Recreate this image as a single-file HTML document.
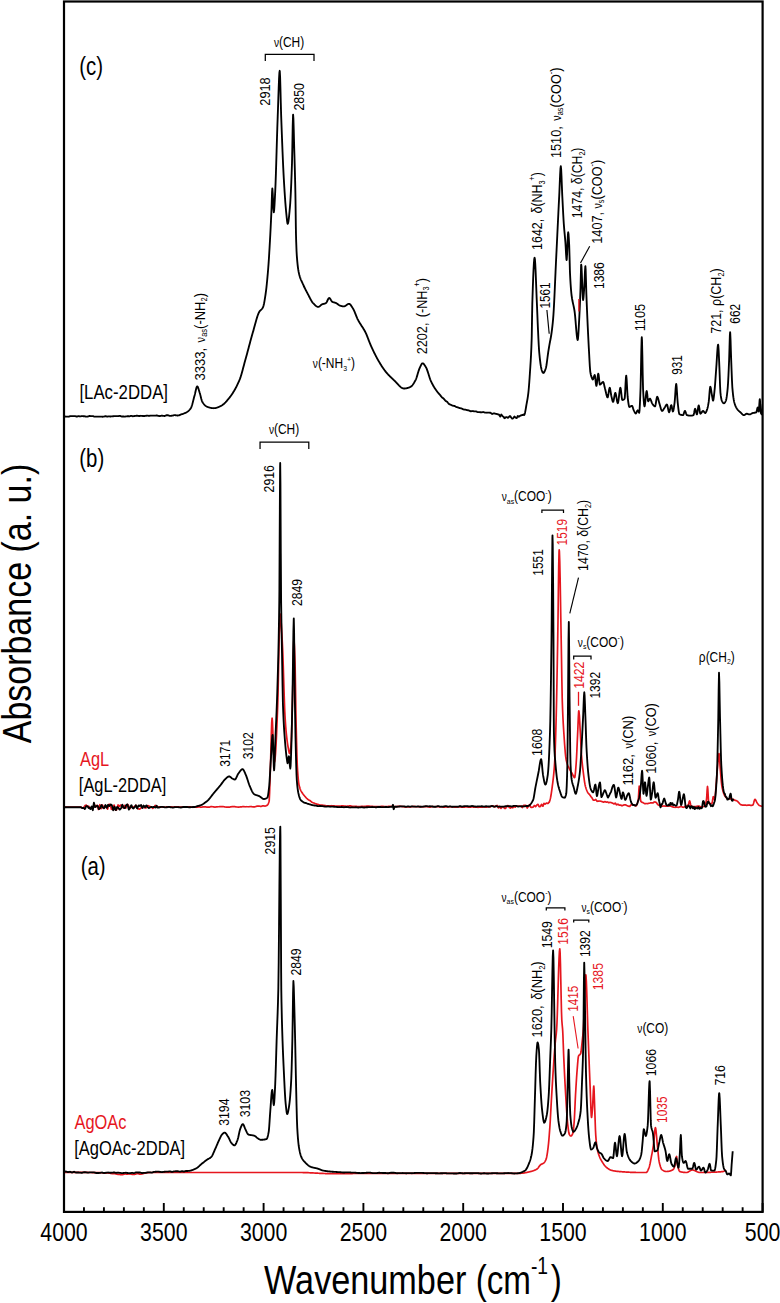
<!DOCTYPE html>
<html><head><meta charset="utf-8"><title>FTIR spectra</title>
<style>html,body{margin:0;padding:0;background:#fff}body{width:780px;height:1303px;overflow:hidden;font-family:"Liberation Sans",sans-serif}text{font-family:"Liberation Sans",sans-serif}</style>
</head><body>
<svg width="780" height="1303" viewBox="0 0 780 1303" style="display:block;font-family:'Liberation Sans',sans-serif">
<rect x="0" y="0" width="780" height="1303" fill="#fff"/>
<clipPath id="clipf"><rect x="64.0" y="1.5" width="698.6" height="1210.4"/></clipPath>
<g clip-path="url(#clipf)">
<path d="M63.80 1172.30 L64.15 1172.30 L64.50 1172.30 L64.85 1172.30 L65.20 1172.30 L65.55 1172.30 L65.90 1172.30 L66.25 1172.30 L66.60 1172.30 L66.95 1172.30 L67.30 1172.30 L67.65 1172.30 L68.00 1172.30 L68.35 1172.31 L68.70 1172.31 L69.05 1172.31 L69.40 1172.31 L69.75 1172.31 L70.10 1172.31 L70.45 1172.31 L70.80 1172.31 L71.15 1172.32 L71.50 1172.32 L71.85 1172.32 L72.20 1172.32 L72.55 1172.32 L72.90 1172.32 L73.25 1172.33 L73.60 1172.33 L73.95 1172.33 L74.30 1172.33 L74.65 1172.33 L75.00 1172.34 L75.35 1172.34 L75.70 1172.34 L76.05 1172.34 L76.40 1172.35 L76.75 1172.35 L77.10 1172.35 L77.45 1172.35 L77.80 1172.36 L78.15 1172.36 L78.50 1172.36 L78.85 1172.36 L79.20 1172.37 L79.55 1172.37 L79.90 1172.37 L80.25 1172.38 L80.60 1172.38 L80.95 1172.38 L81.30 1172.39 L81.65 1172.39 L82.00 1172.39 L82.35 1172.40 L82.70 1172.40 L83.05 1172.41 L83.40 1172.41 L83.75 1172.41 L84.10 1172.42 L84.45 1172.42 L84.80 1172.43 L85.15 1172.43 L85.50 1172.44 L85.85 1172.44 L86.20 1172.44 L86.55 1172.45 L86.90 1172.45 L87.25 1172.46 L87.60 1172.46 L87.95 1172.47 L88.30 1172.47 L88.65 1172.48 L89.00 1172.48 L89.35 1172.49 L89.70 1172.49 L90.05 1172.50 L90.40 1172.50 L90.75 1172.51 L91.10 1172.52 L91.45 1172.52 L91.80 1172.53 L92.15 1172.53 L92.50 1172.54 L92.85 1172.54 L93.20 1172.55 L93.55 1172.56 L93.90 1172.56 L94.25 1172.57 L94.60 1172.58 L94.95 1172.58 L95.30 1172.59 L95.65 1172.60 L96.00 1172.60 L96.35 1172.61 L96.70 1172.62 L97.05 1172.62 L97.40 1172.63 L97.75 1172.64 L98.10 1172.64 L98.45 1172.65 L98.80 1172.66 L99.15 1172.67 L99.50 1172.67 L99.85 1172.68 L100.20 1172.69 L100.55 1172.71 L100.90 1172.72 L101.25 1172.74 L101.60 1172.76 L101.95 1172.77 L102.30 1172.79 L102.65 1172.82 L103.00 1172.88 L103.35 1172.94 L103.70 1173.00 L104.05 1173.06 L104.40 1173.12 L104.75 1173.18 L105.00 1173.22 L105.10 1173.21 L105.45 1173.16 L105.80 1173.11 L106.15 1173.06 L106.50 1173.02 L106.85 1172.99 L107.20 1172.95 L107.55 1172.93 L107.90 1172.98 L108.25 1173.02 L108.60 1173.07 L108.95 1173.12 L109.30 1173.17 L109.65 1173.22 L110.00 1173.28 L110.35 1173.34 L110.70 1173.40 L111.05 1173.47 L111.40 1173.53 L111.75 1173.59 L112.10 1173.66 L112.45 1173.72 L112.80 1173.73 L113.15 1173.73 L113.50 1173.73 L113.85 1173.72 L114.20 1173.72 L114.55 1173.71 L114.90 1173.70 L115.25 1173.76 L115.60 1173.85 L115.95 1173.94 L116.30 1174.03 L116.65 1174.11 L117.00 1174.19 L117.35 1174.27 L117.70 1174.33 L118.05 1174.37 L118.40 1174.41 L118.75 1174.44 L119.10 1174.47 L119.45 1174.50 L119.80 1174.52 L120.00 1174.53 L120.15 1174.54 L120.50 1174.56 L120.85 1174.58 L121.20 1174.61 L121.55 1174.63 L121.90 1174.65 L122.25 1174.67 L122.60 1174.65 L122.95 1174.55 L123.30 1174.45 L123.65 1174.35 L124.00 1174.25 L124.35 1174.14 L124.70 1174.04 L125.05 1173.96 L125.40 1173.98 L125.75 1174.00 L126.10 1174.03 L126.45 1174.05 L126.80 1174.07 L127.15 1174.09 L127.50 1174.11 L127.85 1174.08 L128.20 1174.04 L128.55 1174.00 L128.90 1173.96 L129.25 1173.92 L129.60 1173.88 L129.95 1173.84 L130.30 1173.91 L130.65 1174.00 L131.00 1174.09 L131.35 1174.18 L131.70 1174.27 L132.05 1174.36 L132.40 1174.45 L132.75 1174.46 L133.10 1174.43 L133.45 1174.40 L133.80 1174.37 L134.15 1174.34 L134.50 1174.31 L134.85 1174.28 L135.20 1174.21 L135.55 1174.11 L135.90 1174.00 L136.25 1173.90 L136.60 1173.79 L136.95 1173.69 L137.00 1173.67 L137.30 1173.58 L137.65 1173.56 L138.00 1173.67 L138.35 1173.77 L138.70 1173.87 L139.05 1173.97 L139.40 1174.06 L139.75 1174.15 L140.10 1174.19 L140.45 1174.14 L140.80 1174.09 L141.15 1174.04 L141.50 1173.98 L141.85 1173.92 L142.20 1173.86 L142.55 1173.80 L142.90 1173.70 L143.25 1173.60 L143.60 1173.50 L143.95 1173.40 L144.30 1173.30 L144.65 1173.20 L145.00 1173.10 L145.35 1173.04 L145.70 1172.99 L146.05 1172.94 L146.40 1172.88 L146.75 1172.84 L147.10 1172.79 L147.45 1172.75 L147.80 1172.70 L148.15 1172.66 L148.50 1172.62 L148.85 1172.58 L149.20 1172.55 L149.55 1172.53 L149.90 1172.50 L150.00 1172.50 L150.25 1172.50 L150.60 1172.50 L150.95 1172.50 L151.30 1172.50 L151.65 1172.50 L152.00 1172.50 L152.35 1172.50 L152.70 1172.50 L153.05 1172.50 L153.40 1172.50 L153.75 1172.50 L154.10 1172.50 L154.45 1172.50 L154.80 1172.50 L155.15 1172.50 L155.50 1172.50 L155.85 1172.50 L156.20 1172.50 L156.55 1172.50 L156.90 1172.50 L157.25 1172.50 L157.60 1172.50 L157.95 1172.50 L158.30 1172.50 L158.65 1172.50 L159.00 1172.50 L159.35 1172.50 L159.70 1172.50 L160.05 1172.50 L160.40 1172.50 L160.75 1172.50 L161.10 1172.50 L161.45 1172.50 L161.80 1172.50 L162.15 1172.50 L162.50 1172.50 L162.85 1172.50 L163.20 1172.50 L163.55 1172.50 L163.90 1172.50 L164.25 1172.50 L164.60 1172.50 L164.95 1172.50 L165.30 1172.50 L165.65 1172.50 L166.00 1172.50 L166.35 1172.50 L166.70 1172.50 L167.05 1172.50 L167.40 1172.50 L167.75 1172.50 L168.10 1172.50 L168.45 1172.50 L168.80 1172.50 L169.15 1172.50 L169.50 1172.50 L169.85 1172.50 L170.20 1172.50 L170.55 1172.50 L170.90 1172.50 L171.25 1172.50 L171.60 1172.50 L171.95 1172.50 L172.30 1172.50 L172.65 1172.50 L173.00 1172.50 L173.35 1172.50 L173.70 1172.50 L174.05 1172.50 L174.40 1172.50 L174.75 1172.50 L175.10 1172.50 L175.45 1172.50 L175.80 1172.50 L176.15 1172.50 L176.50 1172.50 L176.85 1172.50 L177.20 1172.50 L177.55 1172.50 L177.90 1172.50 L178.25 1172.50 L178.60 1172.50 L178.95 1172.50 L179.30 1172.50 L179.65 1172.50 L180.00 1172.50 L180.35 1172.50 L180.70 1172.50 L181.05 1172.50 L181.40 1172.50 L181.75 1172.50 L182.10 1172.50 L182.45 1172.50 L182.80 1172.50 L183.15 1172.50 L183.50 1172.50 L183.85 1172.50 L184.20 1172.50 L184.55 1172.50 L184.90 1172.50 L185.25 1172.50 L185.60 1172.50 L185.95 1172.50 L186.30 1172.50 L186.65 1172.50 L187.00 1172.50 L187.35 1172.50 L187.70 1172.50 L188.05 1172.50 L188.40 1172.50 L188.75 1172.50 L189.10 1172.50 L189.45 1172.50 L189.80 1172.50 L190.15 1172.50 L190.50 1172.50 L190.85 1172.50 L191.20 1172.50 L191.55 1172.50 L191.90 1172.50 L192.25 1172.50 L192.60 1172.50 L192.95 1172.50 L193.30 1172.50 L193.65 1172.50 L194.00 1172.50 L194.35 1172.50 L194.70 1172.50 L195.05 1172.50 L195.40 1172.50 L195.75 1172.50 L196.10 1172.50 L196.45 1172.50 L196.80 1172.50 L197.15 1172.50 L197.50 1172.50 L197.85 1172.50 L198.20 1172.50 L198.55 1172.50 L198.90 1172.50 L199.25 1172.50 L199.60 1172.50 L199.95 1172.50 L200.30 1172.50 L200.65 1172.50 L201.00 1172.50 L201.35 1172.50 L201.70 1172.50 L202.05 1172.50 L202.40 1172.50 L202.75 1172.50 L203.10 1172.50 L203.45 1172.50 L203.80 1172.50 L204.15 1172.50 L204.50 1172.50 L204.85 1172.50 L205.20 1172.50 L205.55 1172.50 L205.90 1172.50 L206.25 1172.50 L206.60 1172.50 L206.95 1172.50 L207.30 1172.50 L207.65 1172.50 L208.00 1172.50 L208.35 1172.50 L208.70 1172.50 L209.05 1172.50 L209.40 1172.50 L209.75 1172.50 L210.10 1172.50 L210.45 1172.50 L210.80 1172.50 L211.15 1172.50 L211.50 1172.50 L211.85 1172.50 L212.20 1172.50 L212.55 1172.50 L212.90 1172.50 L213.25 1172.50 L213.60 1172.50 L213.95 1172.50 L214.30 1172.50 L214.65 1172.50 L215.00 1172.50 L215.35 1172.50 L215.70 1172.50 L216.05 1172.50 L216.40 1172.50 L216.75 1172.50 L217.10 1172.50 L217.45 1172.50 L217.80 1172.50 L218.15 1172.50 L218.50 1172.50 L218.85 1172.50 L219.20 1172.50 L219.55 1172.50 L219.90 1172.50 L220.25 1172.50 L220.60 1172.50 L220.95 1172.50 L221.30 1172.50 L221.65 1172.50 L222.00 1172.50 L222.35 1172.50 L222.70 1172.50 L223.05 1172.50 L223.40 1172.50 L223.75 1172.50 L224.10 1172.50 L224.45 1172.50 L224.80 1172.50 L225.15 1172.50 L225.50 1172.50 L225.85 1172.50 L226.20 1172.50 L226.55 1172.50 L226.90 1172.50 L227.25 1172.50 L227.60 1172.50 L227.95 1172.50 L228.30 1172.50 L228.65 1172.50 L229.00 1172.50 L229.35 1172.50 L229.70 1172.50 L230.05 1172.50 L230.40 1172.50 L230.75 1172.50 L231.10 1172.50 L231.45 1172.50 L231.80 1172.50 L232.15 1172.50 L232.50 1172.50 L232.85 1172.50 L233.20 1172.50 L233.55 1172.50 L233.90 1172.50 L234.25 1172.50 L234.60 1172.50 L234.95 1172.50 L235.30 1172.50 L235.65 1172.50 L236.00 1172.50 L236.35 1172.50 L236.70 1172.50 L237.05 1172.50 L237.40 1172.50 L237.75 1172.50 L238.10 1172.50 L238.45 1172.50 L238.80 1172.50 L239.15 1172.50 L239.50 1172.50 L239.85 1172.50 L240.20 1172.50 L240.55 1172.50 L240.90 1172.50 L241.25 1172.50 L241.60 1172.50 L241.95 1172.50 L242.30 1172.50 L242.65 1172.50 L243.00 1172.50 L243.35 1172.50 L243.70 1172.50 L244.05 1172.50 L244.40 1172.50 L244.75 1172.50 L245.10 1172.50 L245.45 1172.50 L245.80 1172.50 L246.15 1172.50 L246.50 1172.50 L246.85 1172.50 L247.20 1172.50 L247.55 1172.50 L247.90 1172.50 L248.25 1172.50 L248.60 1172.50 L248.95 1172.50 L249.30 1172.50 L249.65 1172.50 L250.00 1172.50 L250.35 1172.50 L250.70 1172.50 L251.05 1172.50 L251.40 1172.50 L251.75 1172.50 L252.10 1172.50 L252.45 1172.50 L252.80 1172.50 L253.15 1172.50 L253.50 1172.50 L253.85 1172.50 L254.20 1172.50 L254.55 1172.50 L254.90 1172.50 L255.25 1172.50 L255.60 1172.50 L255.95 1172.50 L256.30 1172.50 L256.65 1172.50 L257.00 1172.50 L257.35 1172.50 L257.70 1172.50 L258.05 1172.50 L258.40 1172.50 L258.75 1172.50 L259.10 1172.50 L259.45 1172.50 L259.80 1172.50 L260.15 1172.50 L260.50 1172.50 L260.85 1172.50 L261.20 1172.50 L261.55 1172.50 L261.90 1172.50 L262.25 1172.50 L262.60 1172.50 L262.95 1172.50 L263.30 1172.50 L263.65 1172.50 L264.00 1172.50 L264.35 1172.50 L264.70 1172.50 L265.05 1172.50 L265.40 1172.50 L265.75 1172.50 L266.10 1172.50 L266.45 1172.50 L266.80 1172.50 L267.15 1172.50 L267.50 1172.50 L267.85 1172.50 L268.20 1172.50 L268.55 1172.50 L268.90 1172.50 L269.25 1172.50 L269.60 1172.50 L269.95 1172.50 L270.30 1172.50 L270.65 1172.50 L271.00 1172.50 L271.35 1172.50 L271.70 1172.50 L272.05 1172.50 L272.40 1172.50 L272.75 1172.50 L273.10 1172.50 L273.45 1172.50 L273.80 1172.50 L274.15 1172.50 L274.50 1172.50 L274.85 1172.50 L275.20 1172.50 L275.55 1172.50 L275.90 1172.50 L276.25 1172.50 L276.60 1172.50 L276.95 1172.50 L277.30 1172.50 L277.65 1172.50 L278.00 1172.50 L278.35 1172.50 L278.70 1172.50 L279.05 1172.50 L279.40 1172.50 L279.75 1172.50 L280.10 1172.50 L280.45 1172.50 L280.80 1172.50 L281.15 1172.50 L281.50 1172.50 L281.85 1172.50 L282.20 1172.50 L282.55 1172.50 L282.90 1172.50 L283.25 1172.50 L283.60 1172.50 L283.95 1172.50 L284.30 1172.50 L284.65 1172.50 L285.00 1172.50 L285.35 1172.50 L285.70 1172.50 L286.05 1172.50 L286.40 1172.50 L286.75 1172.50 L287.10 1172.50 L287.45 1172.50 L287.80 1172.50 L288.15 1172.50 L288.50 1172.50 L288.85 1172.50 L289.20 1172.50 L289.55 1172.50 L289.90 1172.50 L290.25 1172.50 L290.60 1172.50 L290.95 1172.50 L291.30 1172.50 L291.65 1172.50 L292.00 1172.50 L292.35 1172.50 L292.70 1172.50 L293.05 1172.50 L293.40 1172.50 L293.75 1172.50 L294.10 1172.50 L294.45 1172.50 L294.80 1172.50 L295.15 1172.50 L295.50 1172.50 L295.85 1172.50 L296.20 1172.50 L296.55 1172.50 L296.90 1172.50 L297.25 1172.50 L297.60 1172.50 L297.95 1172.50 L298.30 1172.50 L298.65 1172.50 L299.00 1172.50 L299.35 1172.50 L299.70 1172.50 L300.00 1172.50 L300.05 1172.50 L300.40 1172.50 L300.75 1172.50 L301.10 1172.50 L301.45 1172.51 L301.80 1172.51 L302.15 1172.52 L302.50 1172.52 L302.85 1172.53 L303.20 1172.53 L303.55 1172.54 L303.90 1172.55 L304.25 1172.56 L304.60 1172.57 L304.95 1172.58 L305.30 1172.59 L305.65 1172.60 L306.00 1172.61 L306.35 1172.63 L306.70 1172.64 L307.05 1172.65 L307.40 1172.67 L307.75 1172.68 L308.10 1172.70 L308.45 1172.71 L308.80 1172.73 L309.15 1172.74 L309.50 1172.76 L309.85 1172.78 L310.20 1172.80 L310.55 1172.81 L310.90 1172.83 L311.25 1172.85 L311.60 1172.87 L311.95 1172.88 L312.30 1172.90 L312.65 1172.92 L313.00 1172.94 L313.35 1172.96 L313.70 1172.98 L314.05 1173.00 L314.40 1173.02 L314.75 1173.04 L315.10 1173.06 L315.45 1173.07 L315.80 1173.09 L316.15 1173.11 L316.50 1173.13 L316.85 1173.15 L317.20 1173.17 L317.55 1173.19 L317.90 1173.21 L318.25 1173.23 L318.60 1173.24 L318.95 1173.26 L319.30 1173.28 L319.65 1173.30 L320.00 1173.31 L320.35 1173.33 L320.70 1173.35 L321.05 1173.36 L321.40 1173.38 L321.75 1173.40 L322.10 1173.41 L322.45 1173.43 L322.80 1173.44 L323.15 1173.45 L323.50 1173.47 L323.85 1173.48 L324.20 1173.49 L324.55 1173.50 L324.90 1173.52 L325.25 1173.53 L325.60 1173.54 L325.95 1173.55 L326.30 1173.55 L326.65 1173.56 L327.00 1173.57 L327.35 1173.58 L327.70 1173.58 L328.05 1173.59 L328.40 1173.59 L328.75 1173.59 L329.10 1173.60 L329.45 1173.60 L329.80 1173.60 L330.00 1173.60 L330.15 1173.60 L330.50 1173.60 L330.85 1173.60 L331.20 1173.60 L331.55 1173.60 L331.90 1173.60 L332.25 1173.60 L332.60 1173.60 L332.95 1173.60 L333.30 1173.60 L333.65 1173.60 L334.00 1173.60 L334.35 1173.60 L334.70 1173.60 L335.05 1173.60 L335.40 1173.59 L335.75 1173.59 L336.10 1173.59 L336.45 1173.59 L336.80 1173.59 L337.15 1173.59 L337.50 1173.59 L337.85 1173.59 L338.20 1173.59 L338.55 1173.59 L338.90 1173.59 L339.25 1173.59 L339.60 1173.58 L339.95 1173.58 L340.30 1173.58 L340.65 1173.58 L341.00 1173.58 L341.35 1173.58 L341.70 1173.58 L342.05 1173.58 L342.40 1173.58 L342.75 1173.57 L343.10 1173.57 L343.45 1173.57 L343.80 1173.57 L344.15 1173.57 L344.50 1173.57 L344.85 1173.57 L345.20 1173.56 L345.55 1173.56 L345.90 1173.56 L346.25 1173.56 L346.60 1173.56 L346.95 1173.56 L347.30 1173.55 L347.65 1173.55 L348.00 1173.55 L348.35 1173.55 L348.70 1173.55 L349.05 1173.55 L349.40 1173.54 L349.75 1173.54 L350.10 1173.54 L350.45 1173.54 L350.80 1173.54 L351.15 1173.53 L351.50 1173.53 L351.85 1173.53 L352.20 1173.53 L352.55 1173.53 L352.90 1173.52 L353.25 1173.52 L353.60 1173.52 L353.95 1173.52 L354.30 1173.52 L354.65 1173.51 L355.00 1173.51 L355.35 1173.51 L355.70 1173.51 L356.05 1173.51 L356.40 1173.50 L356.75 1173.50 L357.10 1173.50 L357.45 1173.50 L357.80 1173.50 L358.15 1173.49 L358.50 1173.49 L358.85 1173.49 L359.20 1173.49 L359.55 1173.48 L359.90 1173.48 L360.25 1173.48 L360.60 1173.48 L360.95 1173.48 L361.30 1173.47 L361.65 1173.47 L362.00 1173.47 L362.35 1173.47 L362.70 1173.46 L363.05 1173.46 L363.40 1173.46 L363.75 1173.46 L364.10 1173.46 L364.45 1173.45 L364.80 1173.45 L365.15 1173.45 L365.50 1173.45 L365.85 1173.44 L366.20 1173.44 L366.55 1173.44 L366.90 1173.44 L367.25 1173.44 L367.60 1173.43 L367.95 1173.43 L368.30 1173.43 L368.65 1173.43 L369.00 1173.42 L369.35 1173.42 L369.70 1173.42 L370.05 1173.42 L370.40 1173.42 L370.75 1173.41 L371.10 1173.41 L371.45 1173.41 L371.80 1173.41 L372.15 1173.40 L372.50 1173.40 L372.85 1173.40 L373.20 1173.40 L373.55 1173.40 L373.90 1173.39 L374.25 1173.39 L374.60 1173.39 L374.95 1173.39 L375.30 1173.39 L375.65 1173.38 L376.00 1173.38 L376.35 1173.38 L376.70 1173.38 L377.05 1173.38 L377.40 1173.37 L377.75 1173.37 L378.10 1173.37 L378.45 1173.37 L378.80 1173.37 L379.15 1173.36 L379.50 1173.36 L379.85 1173.36 L380.20 1173.36 L380.55 1173.36 L380.90 1173.35 L381.25 1173.35 L381.60 1173.35 L381.95 1173.35 L382.30 1173.35 L382.65 1173.35 L383.00 1173.34 L383.35 1173.34 L383.70 1173.34 L384.05 1173.34 L384.40 1173.34 L384.75 1173.34 L385.10 1173.33 L385.45 1173.33 L385.80 1173.33 L386.15 1173.33 L386.50 1173.33 L386.85 1173.33 L387.20 1173.33 L387.55 1173.33 L387.90 1173.32 L388.25 1173.32 L388.60 1173.32 L388.95 1173.32 L389.30 1173.32 L389.65 1173.32 L390.00 1173.32 L390.35 1173.32 L390.70 1173.31 L391.05 1173.31 L391.40 1173.31 L391.75 1173.31 L392.10 1173.31 L392.45 1173.31 L392.80 1173.31 L393.15 1173.31 L393.50 1173.31 L393.85 1173.31 L394.20 1173.31 L394.55 1173.31 L394.90 1173.30 L395.25 1173.30 L395.60 1173.30 L395.95 1173.30 L396.30 1173.30 L396.65 1173.30 L397.00 1173.30 L397.35 1173.30 L397.70 1173.30 L398.05 1173.30 L398.40 1173.30 L398.75 1173.30 L399.10 1173.30 L399.45 1173.30 L399.80 1173.30 L400.00 1173.30 L400.15 1173.30 L400.50 1173.30 L400.85 1173.30 L401.20 1173.30 L401.55 1173.30 L401.90 1173.30 L402.25 1173.30 L402.60 1173.30 L402.95 1173.30 L403.30 1173.30 L403.65 1173.30 L404.00 1173.30 L404.35 1173.30 L404.70 1173.30 L405.05 1173.30 L405.40 1173.30 L405.75 1173.30 L406.10 1173.30 L406.45 1173.30 L406.80 1173.30 L407.15 1173.30 L407.50 1173.30 L407.85 1173.30 L408.20 1173.30 L408.55 1173.30 L408.90 1173.30 L409.25 1173.30 L409.60 1173.30 L409.95 1173.30 L410.30 1173.30 L410.65 1173.30 L411.00 1173.30 L411.35 1173.30 L411.70 1173.30 L412.05 1173.30 L412.40 1173.30 L412.75 1173.30 L413.10 1173.30 L413.45 1173.30 L413.80 1173.30 L414.15 1173.30 L414.50 1173.30 L414.85 1173.30 L415.20 1173.30 L415.55 1173.30 L415.90 1173.30 L416.25 1173.30 L416.60 1173.30 L416.95 1173.30 L417.30 1173.30 L417.65 1173.30 L418.00 1173.30 L418.35 1173.30 L418.70 1173.30 L419.05 1173.30 L419.40 1173.30 L419.75 1173.30 L420.10 1173.30 L420.45 1173.30 L420.80 1173.30 L421.15 1173.30 L421.50 1173.30 L421.85 1173.30 L422.20 1173.30 L422.55 1173.30 L422.90 1173.30 L423.25 1173.30 L423.60 1173.30 L423.95 1173.30 L424.30 1173.30 L424.65 1173.30 L425.00 1173.30 L425.35 1173.30 L425.70 1173.30 L426.05 1173.30 L426.40 1173.30 L426.75 1173.30 L427.10 1173.30 L427.45 1173.30 L427.80 1173.30 L428.15 1173.30 L428.50 1173.30 L428.85 1173.30 L429.20 1173.30 L429.55 1173.30 L429.90 1173.30 L430.25 1173.30 L430.60 1173.30 L430.95 1173.30 L431.30 1173.30 L431.65 1173.30 L432.00 1173.30 L432.35 1173.30 L432.70 1173.30 L433.05 1173.30 L433.40 1173.30 L433.75 1173.30 L434.10 1173.30 L434.45 1173.30 L434.80 1173.30 L435.15 1173.30 L435.50 1173.30 L435.85 1173.30 L436.20 1173.30 L436.55 1173.30 L436.90 1173.30 L437.25 1173.30 L437.60 1173.30 L437.95 1173.30 L438.30 1173.30 L438.65 1173.30 L439.00 1173.30 L439.35 1173.30 L439.70 1173.30 L440.05 1173.30 L440.40 1173.30 L440.75 1173.30 L441.10 1173.30 L441.45 1173.30 L441.80 1173.30 L442.15 1173.30 L442.50 1173.30 L442.85 1173.30 L443.20 1173.30 L443.55 1173.30 L443.90 1173.30 L444.25 1173.30 L444.60 1173.30 L444.95 1173.30 L445.30 1173.30 L445.65 1173.30 L446.00 1173.30 L446.35 1173.30 L446.70 1173.30 L447.05 1173.30 L447.40 1173.30 L447.75 1173.30 L448.10 1173.30 L448.45 1173.30 L448.80 1173.30 L449.15 1173.30 L449.50 1173.30 L449.85 1173.30 L450.20 1173.30 L450.55 1173.30 L450.90 1173.30 L451.25 1173.30 L451.60 1173.30 L451.95 1173.30 L452.30 1173.30 L452.65 1173.30 L453.00 1173.30 L453.35 1173.30 L453.70 1173.30 L454.05 1173.30 L454.40 1173.30 L454.75 1173.30 L455.10 1173.30 L455.45 1173.30 L455.80 1173.30 L456.15 1173.30 L456.50 1173.30 L456.85 1173.30 L457.20 1173.30 L457.55 1173.30 L457.90 1173.30 L458.25 1173.30 L458.60 1173.30 L458.95 1173.30 L459.30 1173.30 L459.65 1173.30 L460.00 1173.30 L460.35 1173.30 L460.70 1173.30 L461.05 1173.30 L461.40 1173.30 L461.75 1173.30 L462.10 1173.30 L462.45 1173.30 L462.80 1173.30 L463.15 1173.30 L463.50 1173.30 L463.85 1173.30 L464.20 1173.30 L464.55 1173.30 L464.90 1173.30 L465.25 1173.30 L465.60 1173.30 L465.95 1173.30 L466.30 1173.30 L466.65 1173.30 L467.00 1173.30 L467.35 1173.30 L467.70 1173.30 L468.05 1173.30 L468.40 1173.30 L468.75 1173.30 L469.10 1173.30 L469.45 1173.30 L469.80 1173.30 L470.15 1173.30 L470.50 1173.30 L470.85 1173.30 L471.20 1173.30 L471.55 1173.30 L471.90 1173.30 L472.25 1173.30 L472.60 1173.30 L472.95 1173.30 L473.30 1173.30 L473.65 1173.30 L474.00 1173.30 L474.35 1173.30 L474.70 1173.30 L475.05 1173.30 L475.40 1173.30 L475.75 1173.30 L476.10 1173.30 L476.45 1173.30 L476.80 1173.30 L477.15 1173.30 L477.50 1173.30 L477.85 1173.30 L478.20 1173.30 L478.55 1173.30 L478.90 1173.30 L479.25 1173.30 L479.60 1173.30 L479.95 1173.30 L480.30 1173.30 L480.65 1173.30 L481.00 1173.30 L481.35 1173.30 L481.70 1173.30 L482.05 1173.30 L482.40 1173.30 L482.75 1173.30 L483.10 1173.30 L483.45 1173.30 L483.80 1173.30 L484.15 1173.30 L484.50 1173.30 L484.85 1173.30 L485.20 1173.30 L485.55 1173.30 L485.90 1173.30 L486.25 1173.30 L486.60 1173.30 L486.95 1173.30 L487.30 1173.30 L487.65 1173.30 L488.00 1173.30 L488.35 1173.30 L488.70 1173.30 L489.05 1173.30 L489.40 1173.30 L489.75 1173.30 L490.10 1173.30 L490.45 1173.30 L490.80 1173.30 L491.15 1173.30 L491.50 1173.30 L491.85 1173.30 L492.20 1173.30 L492.55 1173.30 L492.90 1173.30 L493.25 1173.30 L493.60 1173.30 L493.95 1173.30 L494.30 1173.30 L494.65 1173.30 L495.00 1173.30 L495.35 1173.30 L495.70 1173.30 L496.05 1173.30 L496.40 1173.30 L496.75 1173.30 L497.10 1173.30 L497.45 1173.30 L497.80 1173.30 L498.15 1173.30 L498.50 1173.30 L498.85 1173.30 L499.20 1173.30 L499.55 1173.30 L499.90 1173.30 L500.25 1173.30 L500.60 1173.30 L500.95 1173.30 L501.30 1173.30 L501.65 1173.30 L502.00 1173.30 L502.35 1173.30 L502.70 1173.30 L503.05 1173.30 L503.40 1173.30 L503.75 1173.30 L504.10 1173.30 L504.45 1173.30 L504.80 1173.30 L505.15 1173.30 L505.50 1173.30 L505.85 1173.30 L506.20 1173.30 L506.55 1173.30 L506.90 1173.30 L507.25 1173.30 L507.60 1173.30 L507.95 1173.30 L508.30 1173.30 L508.65 1173.30 L509.00 1173.30 L509.35 1173.30 L509.70 1173.30 L510.05 1173.30 L510.40 1173.30 L510.75 1173.30 L511.10 1173.30 L511.45 1173.30 L511.80 1173.30 L512.15 1173.30 L512.50 1173.30 L512.85 1173.30 L513.20 1173.30 L513.55 1173.30 L513.90 1173.30 L514.25 1173.30 L514.60 1173.30 L514.95 1173.30 L515.30 1173.30 L515.65 1173.30 L516.00 1173.30 L516.35 1173.30 L516.70 1173.30 L517.05 1173.30 L517.40 1173.30 L517.75 1173.30 L518.10 1173.30 L518.45 1173.30 L518.80 1173.30 L519.15 1173.30 L519.50 1173.30 L519.85 1173.30 L520.00 1173.30 L520.20 1173.30 L520.55 1173.29 L520.90 1173.28 L521.25 1173.26 L521.60 1173.24 L521.95 1173.21 L522.30 1173.18 L522.65 1173.15 L523.00 1173.10 L523.35 1173.06 L523.70 1173.01 L524.05 1172.96 L524.40 1172.90 L524.75 1172.84 L525.10 1172.78 L525.45 1172.71 L525.80 1172.64 L526.15 1172.57 L526.50 1172.50 L526.85 1172.43 L527.20 1172.35 L527.55 1172.27 L527.90 1172.19 L528.25 1172.11 L528.60 1172.03 L528.95 1171.95 L529.30 1171.86 L529.65 1171.78 L530.00 1171.70 L530.35 1171.61 L530.40 1171.60 L530.70 1171.53 L531.05 1171.44 L531.40 1171.35 L531.75 1171.25 L532.10 1171.15 L532.45 1171.04 L532.80 1170.93 L533.15 1170.81 L533.50 1170.68 L533.85 1170.55 L534.20 1170.41 L534.55 1170.27 L534.90 1170.11 L535.25 1169.95 L535.60 1169.78 L535.95 1169.60 L536.30 1169.41 L536.65 1169.21 L537.00 1169.00 L537.00 1169.00 L537.35 1168.74 L537.70 1168.40 L538.05 1167.99 L538.40 1167.54 L538.75 1167.06 L539.10 1166.57 L539.45 1166.08 L539.80 1165.62 L540.15 1165.20 L540.50 1164.83 L540.85 1164.53 L540.90 1164.50 L541.20 1164.32 L541.55 1164.14 L541.90 1163.99 L542.25 1163.85 L542.60 1163.71 L542.95 1163.55 L543.30 1163.34 L543.50 1163.20 L543.65 1163.08 L544.00 1162.76 L544.35 1162.37 L544.70 1161.91 L545.05 1161.37 L545.40 1160.74 L545.75 1160.02 L546.10 1159.20 L546.10 1159.20 L546.45 1158.05 L546.80 1156.41 L547.15 1154.37 L547.50 1152.01 L547.85 1149.43 L548.10 1147.50 L548.20 1146.69 L548.55 1143.42 L548.90 1139.58 L549.25 1135.29 L549.60 1130.66 L549.80 1127.90 L549.95 1125.70 L550.30 1119.91 L550.65 1113.55 L551.00 1107.08 L551.30 1101.80 L551.35 1100.96 L551.70 1095.05 L552.05 1089.17 L552.40 1083.36 L552.75 1077.70 L553.10 1072.22 L553.30 1069.20 L553.45 1066.96 L553.80 1061.75 L554.15 1056.65 L554.50 1051.77 L554.85 1047.22 L555.20 1043.10 L555.20 1043.10 L555.55 1039.73 L555.90 1036.88 L556.25 1033.86 L556.60 1030.00 L556.60 1030.00 L556.95 1023.72 L557.30 1014.53 L557.65 1003.40 L558.00 991.26 L558.35 979.07 L558.70 967.79 L559.05 958.35 L559.40 951.72 L559.75 948.85 L559.80 948.80 L560.10 952.48 L560.45 964.06 L560.80 980.18 L561.15 997.32 L561.50 1012.01 L561.80 1020.00 L561.85 1020.81 L562.20 1024.99 L562.55 1028.67 L562.70 1030.80 L562.90 1034.79 L563.25 1044.09 L563.60 1053.72 L563.70 1056.10 L563.95 1061.62 L564.30 1069.07 L564.65 1076.17 L565.00 1082.92 L565.35 1089.30 L565.70 1095.30 L565.70 1095.30 L566.05 1101.13 L566.40 1106.88 L566.75 1112.34 L567.10 1117.29 L567.45 1121.53 L567.70 1124.00 L567.80 1124.88 L568.15 1127.90 L568.50 1130.62 L568.85 1132.79 L569.20 1134.18 L569.30 1134.40 L569.55 1134.81 L569.90 1135.31 L570.25 1135.69 L570.60 1135.93 L570.90 1136.00 L570.95 1136.00 L571.30 1135.87 L571.65 1135.55 L572.00 1135.05 L572.35 1134.40 L572.70 1133.61 L572.90 1133.10 L573.05 1132.55 L573.40 1130.21 L573.75 1126.76 L574.10 1122.64 L574.20 1121.40 L574.45 1117.53 L574.80 1110.30 L575.15 1102.37 L575.50 1095.30 L575.50 1095.30 L575.85 1089.26 L576.20 1083.47 L576.55 1078.03 L576.90 1073.04 L577.20 1069.20 L577.25 1068.59 L577.60 1064.12 L577.95 1059.95 L578.30 1056.95 L578.50 1056.10 L578.65 1055.79 L579.00 1055.27 L579.35 1054.95 L579.70 1054.71 L580.05 1054.45 L580.40 1054.04 L580.70 1053.50 L580.75 1053.37 L581.10 1051.49 L581.45 1048.45 L581.80 1044.98 L582.00 1043.10 L582.15 1041.77 L582.50 1038.66 L582.85 1035.28 L583.20 1031.29 L583.30 1030.00 L583.55 1025.76 L583.90 1017.37 L584.25 1007.28 L584.60 996.76 L584.95 987.06 L585.30 979.48 L585.65 975.26 L585.80 974.80 L586.00 975.76 L586.35 981.39 L586.70 990.76 L587.05 1002.31 L587.40 1014.50 L587.75 1025.81 L587.90 1030.00 L588.10 1035.25 L588.45 1044.43 L588.80 1053.53 L588.90 1056.10 L589.15 1062.51 L589.50 1071.47 L589.85 1080.25 L590.20 1088.70 L590.20 1088.70 L590.55 1098.24 L590.90 1108.27 L591.25 1115.63 L591.50 1117.50 L591.60 1117.35 L591.95 1114.90 L592.30 1110.77 L592.50 1108.30 L592.65 1106.10 L593.00 1098.74 L593.35 1091.04 L593.70 1086.39 L593.80 1086.10 L594.05 1089.02 L594.40 1099.16 L594.70 1108.30 L594.75 1109.60 L595.10 1119.71 L595.45 1129.43 L595.70 1134.40 L595.80 1135.84 L596.15 1140.28 L596.50 1143.83 L596.85 1146.56 L597.00 1147.50 L597.20 1148.61 L597.55 1150.32 L597.90 1151.78 L598.25 1153.04 L598.60 1154.15 L598.95 1155.16 L599.00 1155.30 L599.30 1156.10 L599.65 1156.98 L600.00 1157.79 L600.35 1158.55 L600.70 1159.26 L601.05 1159.93 L601.40 1160.56 L601.75 1161.16 L602.10 1161.74 L602.20 1161.90 L602.45 1162.30 L602.80 1162.85 L603.15 1163.38 L603.50 1163.90 L603.85 1164.40 L604.20 1164.88 L604.55 1165.34 L604.90 1165.77 L605.25 1166.17 L605.60 1166.54 L605.95 1166.88 L606.20 1167.10 L606.30 1167.18 L606.65 1167.48 L607.00 1167.76 L607.35 1168.04 L607.70 1168.31 L608.05 1168.57 L608.40 1168.82 L608.75 1169.05 L609.10 1169.27 L609.45 1169.48 L609.80 1169.67 L610.15 1169.84 L610.50 1170.00 L610.85 1170.13 L611.20 1170.25 L611.40 1170.30 L611.55 1170.34 L611.90 1170.42 L612.25 1170.51 L612.60 1170.58 L612.95 1170.66 L613.30 1170.73 L613.65 1170.80 L614.00 1170.86 L614.35 1170.93 L614.70 1170.99 L615.05 1171.04 L615.40 1171.10 L615.75 1171.15 L616.10 1171.20 L616.45 1171.24 L616.80 1171.29 L617.15 1171.33 L617.50 1171.37 L617.85 1171.40 L618.20 1171.44 L618.55 1171.47 L618.90 1171.51 L619.25 1171.54 L619.60 1171.57 L619.95 1171.60 L620.00 1171.60 L620.30 1171.62 L620.65 1171.65 L621.00 1171.68 L621.35 1171.70 L621.70 1171.73 L622.05 1171.76 L622.40 1171.78 L622.75 1171.81 L623.10 1171.84 L623.45 1171.86 L623.80 1171.89 L624.15 1171.91 L624.50 1171.94 L624.85 1171.96 L625.20 1171.98 L625.55 1172.01 L625.90 1172.03 L626.25 1172.05 L626.60 1172.08 L626.95 1172.10 L627.30 1172.12 L627.65 1172.14 L628.00 1172.16 L628.35 1172.18 L628.70 1172.20 L629.05 1172.22 L629.40 1172.24 L629.75 1172.26 L630.10 1172.28 L630.45 1172.29 L630.80 1172.31 L631.15 1172.32 L631.50 1172.34 L631.85 1172.35 L632.20 1172.37 L632.55 1172.38 L632.90 1172.40 L633.25 1172.41 L633.60 1172.42 L633.95 1172.43 L634.30 1172.44 L634.65 1172.45 L635.00 1172.46 L635.35 1172.47 L635.70 1172.47 L636.05 1172.48 L636.40 1172.48 L636.75 1172.49 L637.10 1172.49 L637.45 1172.50 L637.80 1172.50 L638.15 1172.50 L638.50 1172.50 L638.50 1172.50 L638.85 1172.50 L639.20 1172.50 L639.55 1172.50 L639.90 1172.50 L640.25 1172.50 L640.60 1172.50 L640.95 1172.50 L641.30 1172.50 L641.65 1172.50 L642.00 1172.50 L642.35 1172.50 L642.70 1172.50 L643.05 1172.50 L643.40 1172.50 L643.75 1172.50 L644.10 1172.50 L644.45 1172.50 L644.80 1172.50 L645.15 1172.50 L645.50 1172.50 L645.85 1172.50 L646.20 1172.50 L646.20 1172.50 L646.55 1172.39 L646.90 1172.08 L647.25 1171.60 L647.60 1170.98 L647.95 1170.25 L648.30 1169.44 L648.65 1168.58 L649.00 1167.70 L649.00 1167.70 L649.35 1166.65 L649.70 1165.31 L650.05 1163.75 L650.40 1162.01 L650.75 1160.18 L651.10 1158.31 L651.45 1156.46 L651.50 1156.20 L651.80 1154.65 L652.15 1152.80 L652.50 1150.87 L652.85 1148.83 L653.20 1146.63 L653.50 1144.60 L653.55 1144.23 L653.90 1140.91 L654.25 1136.85 L654.60 1132.79 L654.95 1129.52 L655.30 1127.80 L655.40 1127.70 L655.65 1128.24 L656.00 1130.52 L656.35 1134.01 L656.70 1138.08 L657.05 1142.10 L657.30 1144.60 L657.40 1145.52 L657.75 1149.05 L658.10 1152.76 L658.45 1156.32 L658.80 1159.40 L659.15 1161.66 L659.20 1161.90 L659.50 1163.20 L659.85 1164.61 L660.20 1165.88 L660.55 1166.99 L660.90 1167.94 L661.25 1168.71 L661.60 1169.28 L661.90 1169.60 L661.95 1169.64 L662.30 1169.91 L662.65 1170.16 L663.00 1170.39 L663.35 1170.60 L663.70 1170.79 L664.05 1170.97 L664.40 1171.11 L664.75 1171.24 L665.10 1171.34 L665.45 1171.42 L665.80 1171.47 L666.15 1171.50 L666.30 1171.50 L666.50 1171.50 L666.85 1171.49 L667.20 1171.47 L667.55 1171.44 L667.90 1171.40 L668.25 1171.35 L668.60 1171.29 L668.95 1171.22 L669.30 1171.15 L669.65 1171.06 L670.00 1170.96 L670.35 1170.85 L670.70 1170.73 L671.05 1170.59 L671.40 1170.45 L671.75 1170.30 L672.10 1170.13 L672.45 1169.96 L672.80 1169.77 L673.10 1169.60 L673.15 1169.57 L673.50 1169.20 L673.85 1168.59 L674.20 1167.77 L674.55 1166.78 L674.90 1165.64 L675.25 1164.37 L675.40 1163.80 L675.60 1162.65 L675.95 1159.62 L676.30 1157.02 L676.50 1156.50 L676.65 1156.77 L677.00 1159.03 L677.35 1162.43 L677.70 1165.57 L677.90 1166.70 L678.05 1167.27 L678.40 1168.53 L678.75 1169.65 L679.10 1170.56 L679.45 1171.19 L679.80 1171.50 L679.80 1171.50 L680.15 1171.61 L680.50 1171.72 L680.85 1171.82 L681.20 1171.91 L681.55 1171.99 L681.90 1172.07 L682.25 1172.14 L682.60 1172.20 L682.95 1172.25 L683.30 1172.30 L683.65 1172.35 L684.00 1172.38 L684.35 1172.42 L684.70 1172.44 L685.05 1172.46 L685.40 1172.48 L685.75 1172.49 L686.10 1172.50 L686.45 1172.50 L686.50 1172.50 L686.80 1172.48 L687.15 1172.41 L687.50 1172.30 L687.85 1172.16 L688.20 1171.98 L688.55 1171.78 L688.90 1171.57 L689.25 1171.35 L689.60 1171.12 L689.95 1170.90 L690.30 1170.69 L690.65 1170.49 L691.00 1170.32 L691.35 1170.18 L691.70 1170.07 L692.05 1170.01 L692.30 1170.00 L692.40 1170.00 L692.75 1170.02 L693.10 1170.08 L693.45 1170.15 L693.80 1170.25 L694.15 1170.36 L694.50 1170.50 L694.85 1170.64 L695.20 1170.80 L695.55 1170.96 L695.90 1171.13 L696.25 1171.30 L696.60 1171.47 L696.95 1171.63 L697.30 1171.79 L697.65 1171.94 L698.00 1172.08 L698.35 1172.20 L698.70 1172.31 L699.05 1172.40 L699.40 1172.46 L699.75 1172.49 L700.00 1172.50 L700.10 1172.50 L700.45 1172.50 L700.80 1172.50 L701.15 1172.50 L701.50 1172.49 L701.85 1172.49 L702.20 1172.49 L702.55 1172.49 L702.90 1172.48 L703.25 1172.48 L703.60 1172.47 L703.95 1172.47 L704.30 1172.46 L704.65 1172.45 L705.00 1172.45 L705.35 1172.44 L705.70 1172.43 L706.05 1172.42 L706.40 1172.41 L706.75 1172.41 L707.10 1172.40 L707.45 1172.39 L707.80 1172.38 L708.15 1172.37 L708.50 1172.36 L708.85 1172.34 L709.20 1172.33 L709.55 1172.32 L709.90 1172.31 L710.25 1172.30 L710.60 1172.29 L710.95 1172.27 L711.30 1172.26 L711.65 1172.25 L712.00 1172.24 L712.35 1172.22 L712.70 1172.21 L713.05 1172.19 L713.40 1172.18 L713.75 1172.17 L714.10 1172.15 L714.45 1172.14 L714.80 1172.12 L715.15 1172.11 L715.40 1172.10 L715.50 1172.10 L715.85 1172.08 L716.20 1172.07 L716.55 1172.05 L716.90 1172.04 L717.25 1172.02 L717.60 1172.00 L717.95 1171.99 L718.30 1171.97 L718.65 1171.95 L719.00 1171.92 L719.35 1171.90 L719.70 1171.87 L720.05 1171.85 L720.40 1171.82 L720.75 1171.79 L721.10 1171.75 L721.45 1171.71 L721.80 1171.67 L722.15 1171.63 L722.50 1171.59 L722.85 1171.54 L723.10 1171.50 L723.20 1171.48 L723.55 1171.39 L723.90 1171.26 L724.25 1171.09 L724.60 1170.90 L724.95 1170.68 L725.30 1170.46 L725.65 1170.23 L726.00 1170.00 L726.00 1170.00" fill="none" stroke="#e6161e" stroke-width="1.7" stroke-linejoin="round" stroke-linecap="butt"/>
<path d="M63.80 807.20 L64.15 807.20 L64.50 807.20 L64.85 807.20 L65.20 807.20 L65.55 807.20 L65.90 807.20 L66.25 807.20 L66.60 807.20 L66.95 807.20 L67.30 807.20 L67.65 807.20 L68.00 807.20 L68.35 807.20 L68.70 807.20 L69.05 807.20 L69.40 807.20 L69.75 807.20 L70.10 807.20 L70.45 807.20 L70.80 807.20 L71.15 807.20 L71.50 807.20 L71.85 807.20 L72.20 807.20 L72.55 807.20 L72.90 807.20 L73.25 807.20 L73.60 807.20 L73.95 807.20 L74.30 807.20 L74.65 807.20 L75.00 807.20 L75.35 807.20 L75.70 807.20 L76.05 807.20 L76.40 807.20 L76.75 807.20 L77.10 807.20 L77.45 807.20 L77.80 807.20 L78.15 807.20 L78.50 807.20 L78.85 807.20 L79.20 807.20 L79.55 807.20 L79.90 807.20 L80.25 807.20 L80.60 807.20 L80.95 807.20 L81.30 807.36 L81.65 807.54 L82.00 807.73 L82.35 807.89 L82.70 807.90 L83.05 807.91 L83.40 807.92 L83.75 807.66 L84.10 807.04 L84.45 806.42 L84.80 805.80 L85.15 805.51 L85.50 805.36 L85.85 805.20 L86.20 805.04 L86.55 805.47 L86.90 805.91 L87.25 806.34 L87.60 806.61 L87.95 806.49 L88.30 806.37 L88.65 806.25 L89.00 806.56 L89.35 807.20 L89.70 807.83 L90.05 808.47 L90.40 808.44 L90.75 808.30 L91.10 808.15 L91.45 808.00 L91.80 807.77 L92.15 807.31 L92.50 807.57 L92.85 807.83 L93.20 808.09 L93.55 807.57 L93.90 806.73 L94.25 805.90 L94.60 805.06 L94.95 805.54 L95.30 806.02 L95.65 806.49 L96.00 806.70 L96.35 806.25 L96.70 805.81 L97.05 805.36 L97.40 805.85 L97.75 807.05 L98.10 808.25 L98.45 809.45 L98.80 808.45 L99.15 807.08 L99.50 805.72 L99.85 804.72 L100.20 805.95 L100.55 807.17 L100.90 808.40 L101.25 808.59 L101.60 807.38 L101.95 806.18 L102.30 804.98 L102.65 805.34 L103.00 806.33 L103.35 807.32 L103.70 808.31 L104.05 807.74 L104.40 807.18 L104.75 806.61 L105.10 806.24 L105.45 806.35 L105.80 806.46 L106.15 806.57 L106.50 807.02 L106.85 807.72 L107.20 808.43 L107.55 809.14 L107.90 808.10 L108.25 806.77 L108.60 805.44 L108.95 804.30 L109.30 804.37 L109.65 804.44 L110.00 804.51 L110.35 805.14 L110.70 806.52 L111.05 807.90 L111.40 809.28 L111.75 809.20 L112.10 808.55 L112.45 807.89 L112.80 807.23 L113.15 806.56 L113.50 805.88 L113.85 805.21 L114.20 805.14 L114.55 806.58 L114.90 808.03 L115.25 809.48 L115.60 810.06 L115.95 810.00 L116.30 809.93 L116.65 809.86 L117.00 808.70 L117.35 807.35 L117.70 806.00 L118.05 804.92 L118.40 805.42 L118.75 805.92 L119.10 806.43 L119.45 806.51 L119.80 806.05 L120.15 805.58 L120.50 805.11 L120.85 805.19 L121.20 805.47 L121.55 805.76 L121.90 806.04 L122.25 806.54 L122.60 807.04 L122.95 807.54 L123.30 807.69 L123.65 806.95 L124.00 806.21 L124.35 805.46 L124.70 805.64 L125.05 806.50 L125.40 807.36 L125.75 808.22 L126.10 807.45 L126.45 806.41 L126.80 805.37 L127.15 804.50 L127.50 804.69 L127.85 804.89 L128.20 805.08 L128.55 805.63 L128.90 806.68 L129.25 807.72 L129.60 808.76 L129.95 808.57 L130.30 807.90 L130.65 807.23 L131.00 806.56 L131.35 806.72 L131.70 806.88 L132.05 807.15 L132.40 807.13 L132.75 807.10 L133.10 807.08 L133.45 807.02 L133.80 806.92 L134.15 806.82 L134.50 806.72 L134.85 806.42 L135.20 806.04 L135.55 805.65 L135.90 805.27 L136.25 806.02 L136.60 806.77 L136.95 807.52 L137.30 808.13 L137.65 808.39 L138.00 808.65 L138.35 808.91 L138.70 809.02 L139.05 809.03 L139.40 809.04 L139.75 809.05 L140.10 808.76 L140.45 808.42 L140.80 808.09 L141.15 807.75 L141.50 807.42 L141.85 807.09 L142.20 806.76 L142.55 806.57 L142.90 806.58 L143.25 806.58 L143.60 806.59 L143.95 806.84 L144.30 807.19 L144.65 807.54 L145.00 807.90 L145.35 807.88 L145.70 807.86 L146.05 807.84 L146.40 807.66 L146.75 807.05 L147.10 806.45 L147.45 805.84 L147.80 805.66 L148.15 805.79 L148.50 805.92 L148.85 806.05 L149.20 806.19 L149.55 806.32 L149.90 806.46 L150.25 806.60 L150.60 806.76 L150.95 806.92 L151.30 807.08 L151.65 807.31 L152.00 807.63 L152.35 807.95 L152.70 808.27 L153.05 808.12 L153.40 807.79 L153.75 807.45 L154.10 807.12 L154.45 806.61 L154.80 806.10 L155.15 805.59 L155.50 805.38 L155.85 805.89 L156.20 807.12 L156.55 807.12 L156.90 807.12 L157.25 807.10 L157.60 807.06 L157.95 807.02 L158.30 806.99 L158.65 806.95 L159.00 806.91 L159.35 806.94 L159.70 806.96 L160.05 806.99 L160.40 807.01 L160.75 807.03 L161.10 807.05 L161.45 807.04 L161.80 807.04 L162.15 807.03 L162.50 807.03 L162.85 807.02 L163.20 807.05 L163.55 807.09 L163.90 807.14 L164.25 807.18 L164.60 807.23 L164.95 807.28 L165.30 807.21 L165.65 807.13 L166.00 807.05 L166.35 806.96 L166.70 806.88 L167.05 806.82 L167.40 806.87 L167.75 806.93 L168.10 806.98 L168.45 807.03 L168.80 807.09 L169.15 807.10 L169.50 807.05 L169.85 807.01 L170.20 806.96 L170.55 806.91 L170.90 806.87 L171.25 806.90 L171.60 806.96 L171.95 807.02 L172.30 807.08 L172.65 807.15 L173.00 807.21 L173.35 807.13 L173.70 807.05 L174.05 806.96 L174.40 806.88 L174.75 806.80 L175.10 806.75 L175.45 806.78 L175.80 806.81 L176.15 806.84 L176.50 806.86 L176.85 806.89 L177.20 806.91 L177.55 806.92 L177.90 806.92 L178.25 806.93 L178.60 806.94 L178.95 806.95 L179.30 806.98 L179.65 807.01 L180.00 807.05 L180.35 807.08 L180.70 807.12 L181.05 807.14 L181.40 807.06 L181.75 806.99 L182.10 806.92 L182.45 806.84 L182.80 806.77 L183.15 806.75 L183.50 806.80 L183.85 806.85 L184.20 806.90 L184.55 806.95 L184.90 806.99 L185.25 806.99 L185.60 806.95 L185.95 806.92 L186.30 806.89 L186.65 806.86 L187.00 806.83 L187.35 806.83 L187.70 806.84 L188.05 806.85 L188.40 806.86 L188.75 806.87 L189.10 806.88 L189.45 806.90 L189.80 806.92 L190.15 806.95 L190.50 806.97 L190.85 806.99 L191.20 807.03 L191.55 807.09 L191.90 807.15 L192.25 807.21 L192.60 807.27 L192.95 807.32 L193.30 807.28 L193.65 807.22 L194.00 807.16 L194.35 807.10 L194.70 807.04 L195.05 807.00 L195.40 807.06 L195.75 807.11 L196.10 807.17 L196.45 807.23 L196.80 807.28 L197.15 807.27 L197.50 807.18 L197.85 807.08 L198.20 806.98 L198.55 806.88 L198.90 806.78 L199.25 806.82 L199.60 806.91 L199.95 807.00 L200.30 807.10 L200.65 807.19 L201.00 807.28 L201.35 807.21 L201.70 807.14 L202.05 807.07 L202.40 807.00 L202.75 806.93 L203.10 806.87 L203.45 806.85 L203.80 806.83 L204.15 806.80 L204.50 806.78 L204.85 806.76 L205.20 806.79 L205.55 806.85 L205.90 806.92 L206.25 806.99 L206.60 807.06 L206.95 807.12 L207.30 807.15 L207.65 807.17 L208.00 807.19 L208.35 807.20 L208.70 807.22 L209.05 807.22 L209.40 807.11 L209.75 807.00 L210.10 806.89 L210.45 806.77 L210.80 806.66 L211.15 806.61 L211.50 806.64 L211.85 806.67 L212.20 806.70 L212.55 806.73 L212.90 806.76 L213.25 806.81 L213.60 806.87 L213.95 806.93 L214.30 806.99 L214.65 807.05 L215.00 807.11 L215.35 807.06 L215.70 807.01 L216.05 806.95 L216.40 806.90 L216.75 806.84 L217.10 806.80 L217.45 806.79 L217.80 806.77 L218.15 806.76 L218.50 806.75 L218.85 806.73 L219.20 806.71 L219.55 806.68 L219.90 806.65 L220.25 806.62 L220.60 806.59 L220.95 806.56 L221.30 806.56 L221.65 806.56 L222.00 806.56 L222.35 806.56 L222.70 806.56 L223.05 806.58 L223.40 806.64 L223.75 806.71 L224.10 806.78 L224.45 806.85 L224.80 806.92 L225.15 806.98 L225.50 807.02 L225.85 807.07 L226.20 807.11 L226.55 807.15 L226.90 807.19 L227.25 807.21 L227.60 807.21 L227.95 807.21 L228.30 807.21 L228.65 807.21 L229.00 807.21 L229.35 807.14 L229.70 807.08 L230.05 807.02 L230.40 806.96 L230.75 806.90 L231.10 806.83 L231.45 806.77 L231.80 806.71 L232.15 806.65 L232.50 806.59 L232.85 806.53 L233.20 806.52 L233.55 806.56 L233.90 806.59 L234.25 806.63 L234.60 806.66 L234.95 806.70 L235.30 806.75 L235.65 806.81 L236.00 806.86 L236.35 806.92 L236.70 806.97 L237.05 807.02 L237.40 807.02 L237.75 807.03 L238.10 807.03 L238.45 807.03 L238.80 807.04 L239.15 807.03 L239.50 807.00 L239.85 806.98 L240.00 806.96 L240.20 806.95 L240.55 806.92 L240.90 806.90 L241.25 806.85 L241.60 806.80 L241.95 806.75 L242.30 806.70 L242.65 806.64 L243.00 806.59 L243.35 806.62 L243.70 806.66 L244.05 806.69 L244.40 806.72 L244.75 806.76 L245.10 806.78 L245.45 806.77 L245.80 806.76 L246.15 806.75 L246.50 806.73 L246.85 806.72 L247.20 806.73 L247.55 806.74 L247.90 806.75 L248.25 806.76 L248.60 806.77 L248.95 806.78 L249.30 806.74 L249.65 806.69 L250.00 806.64 L250.35 806.58 L250.70 806.53 L251.05 806.49 L251.40 806.57 L251.75 806.64 L252.10 806.71 L252.45 806.79 L252.80 806.86 L253.15 806.89 L253.50 806.87 L253.85 806.85 L254.20 806.83 L254.55 806.81 L254.90 806.79 L255.25 806.71 L255.60 806.60 L255.95 806.49 L256.30 806.39 L256.65 806.28 L257.00 806.17 L257.35 806.17 L257.70 806.16 L258.05 806.16 L258.40 806.15 L258.75 806.14 L259.10 806.15 L259.45 806.20 L259.80 806.25 L260.15 806.29 L260.50 806.34 L260.85 806.38 L261.20 806.34 L261.55 806.24 L261.90 806.14 L262.25 806.04 L262.60 805.93 L262.95 805.83 L263.30 805.86 L263.65 805.90 L264.00 805.95 L264.35 806.00 L264.70 806.04 L265.05 806.07 L265.40 805.98 L265.75 805.89 L266.10 805.79 L266.45 805.70 L266.50 805.69 L266.80 805.56 L267.15 805.32 L267.50 804.98 L267.85 804.49 L268.20 803.83 L268.55 803.01 L268.90 802.00 L269.10 801.33 L269.25 800.09 L269.60 792.77 L269.95 781.85 L270.30 770.47 L270.40 767.60 L270.65 759.75 L271.00 746.63 L271.35 733.52 L271.70 723.15 L272.05 718.29 L272.10 718.20 L272.40 721.12 L272.75 729.73 L273.10 740.33 L273.45 749.11 L273.50 750.00 L273.80 755.31 L274.15 760.56 L274.40 762.00 L274.50 761.92 L274.85 760.53 L275.20 757.51 L275.55 753.06 L275.90 747.39 L276.25 740.66 L276.60 733.09 L276.95 724.86 L277.30 716.16 L277.65 707.19 L277.70 705.90 L278.00 695.46 L278.35 678.60 L278.70 660.16 L279.05 643.76 L279.30 635.30 L279.40 632.63 L279.75 623.39 L280.10 616.32 L280.40 614.00 L280.45 614.05 L280.80 616.75 L281.15 622.18 L281.50 628.37 L281.60 630.00 L281.85 634.05 L282.20 640.26 L282.55 647.28 L282.80 652.90 L282.90 655.39 L283.25 665.73 L283.60 677.32 L283.95 688.53 L284.00 690.00 L284.30 698.98 L284.65 708.69 L284.80 712.00 L285.00 715.76 L285.35 721.59 L285.70 726.57 L286.05 730.79 L286.20 732.40 L286.40 734.40 L286.75 737.63 L287.10 740.52 L287.45 743.08 L287.80 745.34 L288.00 746.50 L288.15 747.36 L288.50 749.44 L288.85 751.37 L289.20 752.82 L289.55 753.49 L289.60 753.50 L289.90 753.00 L290.25 751.32 L290.60 748.73 L290.95 745.50 L291.00 745.00 L291.30 740.09 L291.65 730.53 L292.00 718.41 L292.35 705.42 L292.50 700.00 L292.70 691.48 L293.05 672.33 L293.40 653.43 L293.75 641.41 L293.90 640.00 L294.10 641.03 L294.45 646.87 L294.80 655.98 L295.00 661.80 L295.15 667.45 L295.50 687.53 L295.85 710.32 L296.10 723.50 L296.20 727.75 L296.55 742.22 L296.90 755.00 L297.25 764.71 L297.40 767.60 L297.60 770.73 L297.95 775.54 L298.30 779.50 L298.65 782.60 L299.00 784.82 L299.10 785.30 L299.35 786.34 L299.70 787.61 L300.05 788.70 L300.40 789.60 L300.75 790.38 L301.10 791.06 L301.45 791.68 L301.80 792.26 L301.80 792.26 L302.15 792.83 L302.50 793.36 L302.85 793.86 L303.20 794.32 L303.55 794.75 L303.90 795.15 L304.25 795.57 L304.60 796.00 L304.95 796.41 L305.30 796.82 L305.30 796.82 L305.65 797.23 L306.00 797.63 L306.35 797.96 L306.70 798.30 L307.05 798.62 L307.40 798.93 L307.75 799.24 L308.10 799.52 L308.45 799.73 L308.80 799.94 L309.15 800.14 L309.50 800.32 L309.85 800.49 L310.20 800.75 L310.55 801.06 L310.60 801.10 L310.90 801.36 L311.25 801.66 L311.60 801.96 L311.95 802.25 L312.30 802.42 L312.65 802.56 L313.00 802.69 L313.35 802.83 L313.70 802.95 L314.05 803.07 L314.40 803.22 L314.75 803.36 L315.10 803.49 L315.45 803.61 L315.80 803.72 L316.15 803.84 L316.50 803.98 L316.85 804.10 L317.20 804.22 L317.55 804.31 L317.60 804.33 L317.90 804.40 L318.25 804.52 L318.60 804.65 L318.95 804.78 L319.30 804.90 L319.65 805.02 L320.00 805.14 L320.35 805.14 L320.70 805.14 L321.05 805.14 L321.40 805.14 L321.75 805.13 L322.10 805.14 L322.45 805.19 L322.80 805.24 L323.15 805.28 L323.50 805.33 L323.85 805.37 L324.20 805.43 L324.55 805.50 L324.90 805.56 L325.25 805.63 L325.60 805.69 L325.95 805.75 L326.30 805.79 L326.65 805.82 L327.00 805.84 L327.35 805.87 L327.70 805.89 L328.05 805.91 L328.20 805.91 L328.40 805.90 L328.75 805.90 L329.10 805.89 L329.45 805.88 L329.80 805.87 L330.15 805.85 L330.50 805.83 L330.85 805.80 L331.20 805.77 L331.55 805.74 L331.90 805.71 L332.25 805.73 L332.60 805.76 L332.95 805.80 L333.30 805.83 L333.65 805.86 L334.00 805.90 L334.35 805.95 L334.70 806.00 L335.05 806.05 L335.40 806.10 L335.75 806.14 L336.10 806.18 L336.45 806.17 L336.80 806.17 L337.15 806.17 L337.50 806.16 L337.85 806.16 L338.20 806.15 L338.55 806.13 L338.90 806.11 L339.25 806.09 L339.60 806.08 L339.95 806.06 L340.30 806.04 L340.65 806.02 L341.00 806.00 L341.35 805.97 L341.70 805.95 L342.05 805.94 L342.40 805.94 L342.75 805.95 L343.10 805.96 L343.45 805.97 L343.80 805.98 L344.15 806.00 L344.50 806.05 L344.85 806.10 L345.20 806.15 L345.55 806.20 L345.90 806.25 L345.90 806.25 L346.25 806.25 L346.60 806.24 L346.95 806.22 L347.30 806.20 L347.65 806.19 L348.00 806.17 L348.35 806.11 L348.70 806.04 L349.05 805.98 L349.40 805.92 L349.75 805.86 L350.10 805.84 L350.45 805.93 L350.80 806.02 L351.15 806.10 L351.50 806.19 L351.85 806.28 L352.20 806.34 L352.55 806.36 L352.90 806.39 L353.25 806.42 L353.60 806.45 L353.95 806.48 L354.30 806.47 L354.65 806.46 L355.00 806.45 L355.35 806.44 L355.70 806.44 L356.05 806.43 L356.40 806.45 L356.75 806.46 L357.10 806.48 L357.45 806.50 L357.80 806.51 L358.15 806.52 L358.50 806.53 L358.85 806.53 L359.20 806.54 L359.55 806.55 L359.90 806.55 L360.25 806.52 L360.60 806.48 L360.95 806.44 L361.30 806.40 L361.65 806.35 L362.00 806.31 L362.35 806.35 L362.70 806.38 L363.05 806.42 L363.40 806.45 L363.75 806.49 L364.10 806.50 L364.45 806.45 L364.80 806.41 L365.15 806.36 L365.50 806.31 L365.85 806.27 L366.20 806.23 L366.55 806.20 L366.90 806.17 L367.25 806.14 L367.60 806.11 L367.95 806.07 L368.30 806.10 L368.65 806.13 L369.00 806.17 L369.35 806.20 L369.70 806.24 L370.05 806.27 L370.40 806.27 L370.75 806.27 L371.10 806.26 L371.45 806.26 L371.80 806.26 L372.15 806.30 L372.50 806.37 L372.85 806.45 L373.20 806.53 L373.55 806.61 L373.90 806.69 L374.25 806.70 L374.60 806.67 L374.95 806.64 L375.30 806.62 L375.65 806.59 L376.00 806.56 L376.35 806.55 L376.70 806.54 L377.05 806.52 L377.40 806.51 L377.75 806.49 L378.10 806.48 L378.45 806.50 L378.80 806.51 L379.15 806.52 L379.50 806.54 L379.85 806.55 L380.20 806.52 L380.55 806.47 L380.90 806.41 L381.25 806.35 L381.60 806.29 L381.95 806.24 L382.30 806.27 L382.65 806.33 L383.00 806.38 L383.35 806.43 L383.70 806.49 L384.05 806.54 L384.40 806.56 L384.75 806.58 L385.10 806.61 L385.45 806.63 L385.80 806.65 L386.15 806.65 L386.50 806.62 L386.85 806.58 L387.20 806.55 L387.55 806.51 L387.90 806.48 L388.25 806.46 L388.60 806.44 L388.95 806.43 L389.30 806.41 L389.65 806.40 L390.00 806.38 L390.35 806.41 L390.70 806.43 L391.05 806.45 L391.40 806.47 L391.75 806.50 L392.10 806.51 L392.45 806.50 L392.80 806.50 L393.15 806.49 L393.50 806.48 L393.85 806.48 L394.20 806.50 L394.55 806.55 L394.90 806.59 L395.25 806.64 L395.60 806.69 L395.95 806.74 L396.30 806.69 L396.65 806.62 L397.00 806.56 L397.35 806.50 L397.70 806.43 L398.05 806.38 L398.40 806.37 L398.75 806.37 L399.10 806.37 L399.45 806.36 L399.80 806.36 L400.15 806.37 L400.50 806.40 L400.85 806.43 L401.20 806.46 L401.55 806.49 L401.90 806.52 L402.25 806.56 L402.60 806.61 L402.95 806.66 L403.30 806.71 L403.65 806.76 L404.00 806.81 L404.35 806.82 L404.70 806.83 L405.05 806.84 L405.40 806.85 L405.75 806.86 L406.10 806.87 L406.45 806.86 L406.80 806.85 L407.15 806.84 L407.50 806.83 L407.85 806.82 L408.20 806.84 L408.55 806.87 L408.90 806.91 L409.25 806.94 L409.60 806.98 L409.95 807.02 L410.30 806.96 L410.65 806.90 L411.00 806.83 L411.35 806.76 L411.70 806.70 L412.05 806.63 L412.40 806.59 L412.75 806.55 L413.10 806.52 L413.45 806.48 L413.80 806.44 L414.15 806.44 L414.50 806.50 L414.85 806.56 L415.20 806.62 L415.55 806.67 L415.90 806.73 L416.25 806.75 L416.60 806.74 L416.95 806.74 L417.30 806.74 L417.65 806.74 L418.00 806.73 L418.35 806.70 L418.70 806.67 L419.05 806.64 L419.40 806.61 L419.75 806.58 L420.10 806.58 L420.45 806.64 L420.80 806.70 L421.15 806.76 L421.50 806.82 L421.85 806.89 L422.20 806.89 L422.55 806.85 L422.90 806.82 L423.25 806.78 L423.60 806.74 L423.95 806.70 L424.30 806.69 L424.65 806.68 L425.00 806.67 L425.35 806.66 L425.70 806.64 L426.05 806.64 L426.40 806.65 L426.75 806.66 L427.10 806.68 L427.45 806.69 L427.80 806.70 L428.15 806.74 L428.50 806.82 L428.85 806.90 L429.20 806.97 L429.55 807.05 L429.90 807.13 L430.25 807.07 L430.60 806.96 L430.95 806.85 L431.30 806.73 L431.65 806.62 L432.00 806.51 L432.35 806.55 L432.70 806.60 L433.05 806.64 L433.40 806.69 L433.75 806.73 L434.10 806.76 L434.45 806.75 L434.80 806.74 L435.15 806.74 L435.50 806.73 L435.85 806.72 L436.20 806.71 L436.55 806.70 L436.90 806.70 L437.25 806.69 L437.60 806.68 L437.95 806.67 L438.30 806.70 L438.65 806.73 L439.00 806.76 L439.35 806.79 L439.70 806.82 L440.05 806.84 L440.40 806.81 L440.75 806.79 L441.10 806.76 L441.45 806.74 L441.80 806.72 L442.15 806.74 L442.50 806.83 L442.85 806.91 L443.20 807.00 L443.55 807.09 L443.90 807.17 L444.25 807.16 L444.60 807.11 L444.95 807.06 L445.30 807.01 L445.65 806.96 L446.00 806.91 L446.35 806.94 L446.70 806.97 L447.05 806.99 L447.40 807.02 L447.75 807.04 L448.10 807.04 L448.45 806.98 L448.80 806.91 L449.15 806.85 L449.50 806.78 L449.85 806.72 L450.20 806.71 L450.55 806.75 L450.90 806.79 L451.25 806.83 L451.60 806.87 L451.95 806.91 L452.30 806.93 L452.65 806.95 L453.00 806.96 L453.35 806.98 L453.70 807.00 L454.05 807.02 L454.40 807.05 L454.75 807.08 L455.10 807.11 L455.45 807.14 L455.80 807.17 L456.15 807.16 L456.50 807.09 L456.85 807.01 L457.20 806.94 L457.55 806.87 L457.90 806.80 L458.25 806.80 L458.60 806.83 L458.95 806.85 L459.30 806.88 L459.65 806.90 L460.00 806.93 L460.35 806.98 L460.70 807.03 L461.05 807.08 L461.40 807.13 L461.75 807.18 L462.10 807.21 L462.45 807.21 L462.80 807.21 L463.15 807.21 L463.50 807.20 L463.85 807.20 L464.20 807.16 L464.55 807.09 L464.90 807.01 L465.25 806.94 L465.60 806.87 L465.95 806.79 L466.30 806.82 L466.65 806.86 L467.00 806.89 L467.35 806.93 L467.70 806.97 L468.05 807.01 L468.40 807.04 L468.75 807.07 L469.10 807.09 L469.45 807.12 L469.80 807.15 L470.15 807.15 L470.50 807.10 L470.85 807.06 L471.20 807.01 L471.55 806.97 L471.90 806.92 L472.25 806.94 L472.60 806.97 L472.95 807.01 L473.30 807.04 L473.65 807.08 L474.00 807.11 L474.35 807.11 L474.70 807.11 L475.05 807.11 L475.40 807.11 L475.75 807.11 L476.10 807.12 L476.45 807.15 L476.80 807.19 L477.15 807.23 L477.50 807.27 L477.85 807.31 L478.20 807.30 L478.55 807.24 L478.90 807.19 L479.25 807.14 L479.60 807.09 L479.95 807.04 L480.30 807.05 L480.65 807.06 L481.00 807.08 L481.35 807.09 L481.70 807.11 L482.05 807.12 L482.40 807.08 L482.75 807.04 L483.10 807.00 L483.45 806.96 L483.80 806.92 L484.15 806.91 L484.50 806.96 L484.85 807.01 L485.20 807.05 L485.55 807.10 L485.90 807.15 L486.25 807.13 L486.60 807.08 L486.95 807.03 L487.30 806.98 L487.65 806.93 L488.00 806.88 L488.35 806.90 L488.70 806.92 L489.05 806.94 L489.40 806.96 L489.75 806.98 L490.00 807.00 L490.10 806.94 L490.45 806.74 L490.80 806.54 L491.15 806.33 L491.50 806.15 L491.85 805.97 L492.20 805.79 L492.55 805.73 L492.90 805.82 L493.25 805.92 L493.60 806.01 L493.95 806.34 L494.30 806.68 L494.65 807.01 L495.00 806.98 L495.35 806.67 L495.70 806.36 L496.05 806.07 L496.40 805.85 L496.75 805.63 L497.10 805.42 L497.45 805.92 L497.80 806.72 L498.15 807.51 L498.50 807.92 L498.85 807.38 L499.20 806.83 L499.55 806.28 L499.90 806.79 L500.25 807.47 L500.60 808.15 L500.95 808.39 L501.30 808.03 L501.65 807.67 L502.00 807.32 L502.35 807.09 L502.70 806.87 L503.05 806.65 L503.40 806.84 L503.75 807.35 L504.10 807.85 L504.45 808.29 L504.80 808.31 L505.15 808.33 L505.50 808.35 L505.85 807.92 L506.20 807.31 L506.55 806.70 L506.90 806.21 L507.25 806.00 L507.60 805.79 L507.95 805.58 L508.30 806.01 L508.65 806.54 L509.00 807.08 L509.35 807.47 L509.70 807.68 L510.05 807.88 L510.40 808.09 L510.75 807.84 L511.10 807.58 L511.45 807.33 L511.80 807.33 L512.15 807.50 L512.50 807.68 L512.85 807.77 L513.20 807.38 L513.55 806.98 L513.90 806.58 L514.25 806.61 L514.60 806.82 L514.95 807.03 L515.30 807.07 L515.65 806.68 L516.00 806.30 L516.35 805.92 L516.70 805.99 L517.05 806.13 L517.40 806.27 L517.75 806.33 L518.10 806.29 L518.45 806.25 L518.80 806.21 L519.15 806.20 L519.50 806.20 L519.85 806.19 L520.20 806.19 L520.55 806.19 L520.90 806.20 L521.25 806.26 L521.60 806.67 L521.95 807.09 L522.30 807.50 L522.65 807.13 L523.00 806.45 L523.35 805.76 L523.70 805.28 L524.05 805.30 L524.40 805.32 L524.75 805.34 L525.10 805.38 L525.45 805.41 L525.80 805.45 L526.15 805.78 L526.50 806.52 L526.85 807.25 L527.20 807.99 L527.55 807.50 L527.90 807.01 L528.25 806.52 L528.60 806.02 L528.95 805.50 L529.30 804.99 L529.65 804.67 L530.00 805.47 L530.35 806.27 L530.70 807.07 L531.05 807.31 L531.40 807.33 L531.75 807.35 L532.10 807.34 L532.45 807.26 L532.80 807.18 L533.15 807.10 L533.50 806.65 L533.85 806.14 L534.20 805.63 L534.55 805.50 L534.90 805.87 L535.25 806.24 L535.60 806.61 L535.95 806.13 L536.30 805.65 L536.65 805.18 L537.00 804.86 L537.35 804.65 L537.70 804.45 L538.05 804.37 L538.40 805.11 L538.75 805.85 L539.10 806.58 L539.45 806.74 L539.80 806.68 L540.15 806.61 L540.50 806.37 L540.85 805.69 L541.20 805.00 L541.55 804.32 L541.90 804.79 L542.25 805.46 L542.60 806.13 L542.95 806.11 L543.30 805.18 L543.65 804.25 L544.00 803.31 L544.35 803.58 L544.70 803.84 L545.05 804.10 L545.40 804.01 L545.75 803.66 L546.10 803.32 L546.45 803.03 L546.80 803.16 L547.15 803.29 L547.50 803.41 L547.85 803.42 L547.90 803.41 L548.20 803.24 L548.55 802.75 L548.90 802.12 L549.25 802.31 L549.60 801.27 L549.95 800.16 L550.00 800.00 L550.30 798.89 L550.65 797.24 L551.00 795.27 L551.35 793.05 L551.70 790.63 L552.05 788.07 L552.30 786.20 L552.40 785.45 L552.75 782.78 L553.10 779.96 L553.45 776.86 L553.80 773.34 L554.15 769.26 L554.50 764.50 L554.60 763.00 L554.85 758.46 L555.20 750.01 L555.55 739.61 L555.90 727.78 L556.20 716.90 L556.25 715.01 L556.60 699.78 L556.95 681.89 L557.30 662.50 L557.65 642.78 L557.70 640.00 L558.00 619.99 L558.35 592.31 L558.70 567.04 L559.05 551.58 L559.20 549.80 L559.40 551.42 L559.75 560.98 L560.10 576.92 L560.45 596.68 L560.80 617.70 L561.15 637.44 L561.20 640.00 L561.50 657.40 L561.85 679.70 L562.20 697.94 L562.30 701.50 L562.55 708.60 L562.90 716.81 L563.25 723.51 L563.60 729.25 L563.80 732.30 L563.95 734.56 L564.30 739.75 L564.65 744.71 L565.00 749.29 L565.35 753.32 L565.70 756.68 L566.05 759.21 L566.20 760.00 L566.40 760.89 L566.75 762.27 L567.10 763.45 L567.45 764.46 L567.80 765.36 L568.15 766.17 L568.50 766.93 L568.85 767.67 L569.00 768.00 L569.20 768.43 L569.55 769.13 L569.90 769.79 L570.25 770.42 L570.60 771.01 L570.95 771.58 L571.30 772.15 L571.65 772.72 L572.00 773.29 L572.30 773.80 L572.35 773.89 L572.70 774.58 L573.05 775.36 L573.40 776.14 L573.75 776.84 L574.10 777.37 L574.45 777.67 L574.60 777.70 L574.80 777.35 L575.15 775.26 L575.50 771.80 L575.85 767.52 L576.20 763.00 L576.20 763.00 L576.55 757.40 L576.90 750.13 L577.25 742.13 L577.60 734.35 L577.70 732.30 L577.95 726.49 L578.30 717.61 L578.65 711.54 L578.80 710.80 L579.00 711.46 L579.35 715.24 L579.70 721.16 L580.05 727.84 L580.30 732.30 L580.40 734.04 L580.75 741.14 L581.10 748.56 L581.45 754.72 L581.50 755.40 L581.80 759.04 L582.15 762.70 L582.50 765.89 L582.85 768.80 L583.10 770.80 L583.20 771.60 L583.55 774.40 L583.90 777.14 L584.25 779.74 L584.60 782.11 L584.95 784.16 L585.30 785.81 L585.40 786.20 L585.65 787.09 L586.00 788.22 L586.35 789.25 L586.70 790.17 L587.05 791.01 L587.40 791.77 L587.75 792.47 L588.10 793.05 L588.45 793.44 L588.50 793.49 L588.80 793.79 L589.15 794.13 L589.50 794.56 L589.85 795.06 L590.20 795.52 L590.55 795.96 L590.90 796.45 L591.25 796.92 L591.60 797.35 L591.95 797.79 L592.30 798.45 L592.30 798.45 L592.65 799.09 L593.00 799.71 L593.35 800.09 L593.70 800.14 L594.05 800.17 L594.40 800.19 L594.75 800.07 L595.10 799.89 L595.45 799.69 L595.80 799.47 L596.15 800.00 L596.50 800.50 L596.85 800.98 L596.90 801.05 L597.20 801.30 L597.55 801.24 L597.90 801.18 L598.25 801.12 L598.60 801.08 L598.95 801.05 L599.30 801.02 L599.65 800.98 L600.00 801.05 L600.35 801.13 L600.70 801.21 L601.05 801.29 L601.40 801.40 L601.75 801.51 L602.10 801.62 L602.45 801.73 L602.80 801.87 L603.15 802.00 L603.50 802.13 L603.85 802.05 L604.20 801.88 L604.55 801.71 L604.60 801.69 L604.90 801.55 L605.25 801.70 L605.60 801.84 L605.95 802.00 L606.30 802.09 L606.65 802.05 L607.00 802.00 L607.35 801.96 L607.70 802.05 L608.05 802.25 L608.40 802.45 L608.75 802.64 L609.10 802.60 L609.45 802.51 L609.80 802.42 L610.15 802.35 L610.50 802.45 L610.85 802.55 L611.20 802.65 L611.55 802.76 L611.90 802.90 L612.25 803.04 L612.30 803.06 L612.60 803.18 L612.95 803.36 L613.30 803.57 L613.65 803.77 L614.00 803.97 L614.35 803.73 L614.70 803.48 L615.05 803.24 L615.40 803.21 L615.75 803.73 L616.10 804.24 L616.45 804.75 L616.80 804.83 L617.15 804.58 L617.50 804.34 L617.85 804.09 L618.20 804.32 L618.55 804.63 L618.90 804.94 L619.25 805.20 L619.60 805.13 L619.95 805.07 L620.00 805.06 L620.30 805.00 L620.65 805.07 L621.00 805.30 L621.35 805.54 L621.70 805.77 L622.05 805.74 L622.40 805.59 L622.75 805.45 L623.10 805.30 L623.45 805.17 L623.80 805.03 L624.15 804.90 L624.50 804.81 L624.85 804.84 L625.20 804.87 L625.55 804.90 L625.90 805.01 L626.25 805.20 L626.60 805.38 L626.95 805.57 L627.30 805.72 L627.65 805.86 L627.70 805.88 L628.00 806.01 L628.35 806.15 L628.70 806.26 L629.05 806.37 L629.40 806.49 L629.75 806.36 L630.10 805.92 L630.45 805.48 L630.80 805.03 L631.15 804.91 L631.50 804.92 L631.85 804.92 L632.20 804.92 L632.55 805.00 L632.90 805.07 L633.25 805.14 L633.60 805.19 L633.95 805.20 L634.30 805.21 L634.65 805.21 L635.00 805.38 L635.35 805.68 L635.40 805.72 L635.70 805.89 L636.05 805.96 L636.40 805.50 L636.75 804.84 L637.10 803.98 L637.45 802.94 L637.80 801.70 L638.15 800.27 L638.30 799.60 L638.50 797.35 L638.85 790.32 L639.20 786.20 L639.20 786.20 L639.55 788.01 L639.90 792.24 L640.25 797.02 L640.60 800.57 L640.80 801.35 L640.95 801.48 L641.30 801.74 L641.65 801.97 L642.00 802.20 L642.35 802.39 L642.70 802.54 L643.05 802.67 L643.40 802.87 L643.75 803.12 L644.10 803.34 L644.45 803.54 L644.80 803.72 L645.00 803.71 L645.15 803.70 L645.50 803.66 L645.85 803.61 L646.20 803.54 L646.55 803.50 L646.90 803.52 L647.25 803.53 L647.60 803.53 L647.95 803.53 L648.30 803.45 L648.65 803.37 L649.00 803.28 L649.35 803.21 L649.70 803.13 L650.05 803.03 L650.40 802.94 L650.75 802.87 L650.80 802.86 L651.10 802.81 L651.45 802.83 L651.80 802.89 L652.15 802.94 L652.50 802.99 L652.85 803.00 L653.20 802.76 L653.55 802.52 L653.90 802.28 L654.25 802.04 L654.60 801.96 L654.95 802.02 L655.30 802.07 L655.60 802.11 L655.65 802.12 L656.00 802.26 L656.35 802.63 L656.70 803.08 L657.05 803.60 L657.40 804.15 L657.75 804.59 L658.10 804.84 L658.45 805.06 L658.80 805.23 L659.15 805.31 L659.40 805.33 L659.50 805.33 L659.85 805.33 L660.20 805.32 L660.55 805.31 L660.90 805.35 L661.25 805.55 L661.60 805.74 L661.95 805.93 L662.30 806.12 L662.65 806.14 L663.00 806.09 L663.35 806.03 L663.70 805.98 L664.05 805.94 L664.40 806.00 L664.75 806.06 L665.10 806.11 L665.45 806.17 L665.80 806.17 L666.15 806.14 L666.50 806.10 L666.85 806.06 L667.20 806.02 L667.55 806.02 L667.90 806.03 L668.10 806.03 L668.25 806.03 L668.60 806.03 L668.95 806.03 L669.30 806.01 L669.65 805.99 L670.00 805.97 L670.35 805.96 L670.70 806.09 L671.05 806.25 L671.40 806.41 L671.75 806.56 L672.10 806.71 L672.45 806.82 L672.80 806.93 L673.15 807.04 L673.50 807.15 L673.85 807.21 L674.20 807.23 L674.55 807.26 L674.90 807.29 L675.25 807.31 L675.60 807.26 L675.95 807.22 L676.30 807.18 L676.65 807.14 L677.00 807.15 L677.35 807.21 L677.70 807.26 L678.05 807.32 L678.40 807.37 L678.75 807.23 L679.10 807.09 L679.45 806.95 L679.80 806.81 L680.15 806.72 L680.50 806.71 L680.85 806.69 L681.20 806.68 L681.50 806.66 L681.55 806.66 L681.90 806.79 L682.25 806.95 L682.60 807.10 L682.95 807.24 L683.30 807.30 L683.65 807.18 L684.00 807.05 L684.35 806.92 L684.70 806.77 L685.05 806.69 L685.40 806.63 L685.75 806.56 L686.10 806.47 L686.45 806.36 L686.80 806.06 L687.15 805.76 L687.50 805.44 L687.85 805.11 L688.20 804.90 L688.30 804.86 L688.55 804.41 L688.90 803.01 L689.25 801.53 L689.60 800.87 L689.60 800.87 L689.95 801.57 L690.30 803.08 L690.65 804.78 L691.00 806.02 L691.20 806.28 L691.35 806.31 L691.70 806.37 L692.05 806.44 L692.40 806.50 L692.75 806.57 L693.10 806.60 L693.45 806.62 L693.80 806.65 L694.15 806.67 L694.50 806.69 L694.85 806.67 L695.20 806.65 L695.55 806.63 L695.90 806.61 L696.25 806.53 L696.60 806.42 L696.95 806.31 L697.30 806.20 L697.65 806.11 L698.00 806.12 L698.35 806.13 L698.70 806.14 L699.05 806.15 L699.40 806.23 L699.75 806.36 L700.10 806.48 L700.45 806.61 L700.80 806.73 L701.15 806.77 L701.50 806.80 L701.85 806.84 L702.20 806.87 L702.55 806.83 L702.90 806.70 L703.25 806.57 L703.60 806.43 L703.95 806.30 L704.30 806.29 L704.60 806.29 L704.65 806.28 L705.00 805.92 L705.35 805.05 L705.70 803.75 L706.05 802.10 L706.40 800.18 L706.50 799.60 L706.75 796.72 L707.10 790.54 L707.45 786.58 L707.50 786.50 L707.80 788.80 L708.15 795.00 L708.50 801.20 L708.80 803.50 L708.85 803.50 L709.20 803.50 L709.55 803.50 L709.90 803.50 L710.25 803.50 L710.60 803.50 L710.95 803.50 L711.30 803.50 L711.65 803.50 L711.90 803.50 L712.00 803.40 L712.35 801.84 L712.70 799.38 L713.05 797.27 L713.30 796.70 L713.40 796.75 L713.75 797.50 L714.10 798.64 L714.45 799.49 L714.60 799.60 L714.80 799.18 L715.15 796.76 L715.50 792.90 L715.85 788.44 L716.20 784.20 L716.20 784.20 L716.55 779.94 L716.90 775.18 L717.25 770.40 L717.60 766.08 L717.70 765.00 L717.95 762.19 L718.30 758.10 L718.65 754.83 L719.00 753.50 L719.00 753.50 L719.35 755.47 L719.70 760.19 L720.05 765.89 L720.40 770.80 L720.40 770.80 L720.75 774.90 L721.10 779.04 L721.45 782.77 L721.80 785.61 L721.90 786.20 L722.15 787.48 L722.50 789.11 L722.85 790.57 L723.20 791.86 L723.55 792.99 L723.90 793.96 L724.25 794.79 L724.60 795.47 L724.80 795.80 L724.95 796.03 L725.30 796.54 L725.65 797.01 L726.00 797.44 L726.35 797.83 L726.70 798.16 L727.05 798.42 L727.40 798.59 L727.70 798.67 L727.75 798.69 L728.10 798.75 L728.45 798.80 L728.80 798.83 L729.15 798.86 L729.50 798.89 L729.85 798.91 L730.20 798.93 L730.55 798.94 L730.90 798.95 L731.25 799.00 L731.60 799.06 L731.95 799.13 L732.30 799.20 L732.65 799.28 L733.00 799.38 L733.35 799.49 L733.50 799.54 L733.70 799.62 L734.05 799.77 L734.40 799.95 L734.75 800.14 L735.10 800.31 L735.45 800.41 L735.80 800.52 L736.15 800.64 L736.50 800.77 L736.85 800.89 L737.20 801.11 L737.30 801.19 L737.55 801.40 L737.90 801.73 L738.25 802.09 L738.60 802.47 L738.95 802.86 L739.30 803.24 L739.65 803.62 L740.00 803.97 L740.35 804.30 L740.70 804.58 L741.05 804.80 L741.20 804.83 L741.40 804.87 L741.75 804.93 L742.10 804.99 L742.45 805.05 L742.80 805.10 L743.15 805.13 L743.50 805.12 L743.85 805.11 L744.20 805.09 L744.55 805.06 L744.90 805.03 L745.25 805.07 L745.60 805.14 L745.95 805.20 L746.30 805.25 L746.65 805.29 L746.90 805.31 L747.00 805.32 L747.35 805.26 L747.70 805.20 L748.05 805.14 L748.40 805.08 L748.75 805.01 L749.10 804.99 L749.45 805.08 L749.80 805.17 L750.15 805.26 L750.50 805.34 L750.85 805.42 L751.20 805.42 L751.55 805.36 L751.90 805.30 L752.25 805.24 L752.60 805.17 L752.70 805.15 L752.95 804.93 L753.30 804.10 L753.65 802.93 L754.00 801.64 L754.35 800.45 L754.70 799.59 L755.00 799.27 L755.05 799.29 L755.40 799.59 L755.75 800.17 L756.10 800.91 L756.45 801.69 L756.80 802.37 L756.90 802.53 L757.15 802.89 L757.50 803.39 L757.85 803.88 L758.20 804.36 L758.55 804.78 L758.90 805.15 L759.25 805.40 L759.40 805.48 L759.60 805.56 L759.95 805.70 L760.30 805.80 L760.65 805.93 L761.00 806.05 L761.35 806.15 L761.70 806.22 L762.05 806.28 L762.40 806.30 L762.50 806.30" fill="none" stroke="#e6161e" stroke-width="1.7" stroke-linejoin="round" stroke-linecap="butt"/>
<path d="M63.80 416.40 L64.15 416.42 L64.50 416.45 L64.85 416.49 L65.20 416.52 L65.55 416.56 L65.90 416.57 L66.25 416.57 L66.60 416.57 L66.95 416.57 L67.30 416.57 L67.65 416.61 L68.00 416.64 L68.35 416.67 L68.70 416.70 L69.05 416.62 L69.40 416.49 L69.75 416.36 L70.10 416.23 L70.45 416.12 L70.80 416.13 L71.15 416.13 L71.50 416.14 L71.85 416.15 L72.20 416.15 L72.55 416.13 L72.90 416.11 L73.25 416.10 L73.60 416.08 L73.95 416.09 L74.30 416.11 L74.65 416.12 L75.00 416.14 L75.35 416.19 L75.70 416.29 L76.05 416.39 L76.40 416.49 L76.75 416.59 L77.10 416.50 L77.45 416.38 L77.80 416.26 L78.15 416.14 L78.50 416.08 L78.85 416.16 L79.20 416.24 L79.55 416.32 L79.90 416.40 L80.25 416.37 L80.60 416.31 L80.95 416.25 L81.30 416.18 L81.65 416.13 L82.00 416.15 L82.35 416.16 L82.70 416.18 L83.05 416.19 L83.40 416.22 L83.75 416.24 L84.10 416.27 L84.45 416.29 L84.80 416.32 L85.15 416.40 L85.50 416.48 L85.85 416.56 L86.20 416.64 L86.55 416.66 L86.90 416.62 L87.25 416.57 L87.60 416.53 L87.95 416.48 L88.30 416.37 L88.65 416.25 L89.00 416.14 L89.35 416.02 L89.70 415.95 L90.05 416.00 L90.40 416.05 L90.75 416.10 L91.10 416.15 L91.45 416.15 L91.80 416.12 L92.15 416.09 L92.50 416.07 L92.85 416.07 L93.20 416.21 L93.55 416.35 L93.90 416.49 L94.25 416.63 L94.60 416.68 L94.95 416.67 L95.30 416.66 L95.65 416.64 L96.00 416.63 L96.35 416.63 L96.70 416.63 L97.05 416.63 L97.40 416.62 L97.75 416.62 L98.10 416.63 L98.45 416.63 L98.80 416.63 L99.15 416.63 L99.50 416.62 L99.85 416.60 L100.20 416.58 L100.55 416.57 L100.90 416.57 L101.25 416.60 L101.60 416.64 L101.95 416.68 L102.30 416.72 L102.65 416.71 L103.00 416.68 L103.35 416.64 L103.70 416.61 L104.05 416.57 L104.40 416.46 L104.75 416.35 L105.10 416.25 L105.45 416.14 L105.80 416.16 L106.15 416.27 L106.50 416.39 L106.85 416.50 L107.20 416.62 L107.55 416.55 L107.90 416.47 L108.25 416.40 L108.60 416.33 L108.95 416.31 L109.30 416.36 L109.65 416.41 L110.00 416.46 L110.35 416.51 L110.70 416.48 L111.05 416.44 L111.40 416.40 L111.75 416.36 L112.10 416.33 L112.45 416.30 L112.80 416.27 L113.15 416.24 L113.50 416.21 L113.85 416.19 L114.20 416.18 L114.55 416.16 L114.90 416.15 L115.25 416.14 L115.60 416.15 L115.95 416.16 L116.30 416.17 L116.65 416.18 L117.00 416.17 L117.35 416.14 L117.70 416.12 L118.05 416.09 L118.40 416.07 L118.75 416.03 L119.10 415.98 L119.45 415.94 L119.80 415.90 L120.15 415.94 L120.50 416.07 L120.85 416.21 L121.20 416.34 L121.55 416.48 L121.90 416.49 L122.25 416.48 L122.60 416.48 L122.95 416.47 L123.30 416.48 L123.65 416.51 L124.00 416.54 L124.35 416.58 L124.70 416.61 L125.05 416.58 L125.40 416.52 L125.75 416.45 L126.10 416.39 L126.45 416.34 L126.80 416.31 L127.15 416.28 L127.50 416.25 L127.85 416.22 L128.20 416.22 L128.55 416.26 L128.90 416.29 L129.25 416.33 L129.60 416.36 L129.95 416.24 L130.30 416.11 L130.65 415.99 L131.00 415.87 L131.35 415.84 L131.70 415.94 L132.05 416.04 L132.40 416.15 L132.75 416.25 L133.10 416.22 L133.45 416.17 L133.80 416.12 L134.15 416.07 L134.50 416.02 L134.85 415.97 L135.20 415.91 L135.55 415.85 L135.90 415.80 L136.25 415.78 L136.60 415.78 L136.95 415.78 L137.30 415.78 L137.65 415.79 L138.00 415.85 L138.35 415.91 L138.70 415.97 L139.05 416.03 L139.40 416.02 L139.75 415.96 L140.10 415.91 L140.45 415.85 L140.80 415.79 L141.15 415.83 L141.50 415.86 L141.85 415.90 L142.20 415.94 L142.55 415.97 L142.90 415.99 L143.25 416.02 L143.60 416.04 L143.95 416.06 L144.30 416.03 L144.65 415.98 L145.00 415.93 L145.35 415.89 L145.70 415.84 L146.05 415.78 L146.40 415.73 L146.75 415.67 L147.10 415.61 L147.45 415.64 L147.80 415.71 L148.15 415.77 L148.50 415.84 L148.85 415.89 L149.20 415.83 L149.55 415.78 L149.90 415.72 L150.25 415.67 L150.60 415.64 L150.95 415.63 L151.30 415.63 L151.65 415.62 L152.00 415.62 L152.35 415.60 L152.70 415.59 L153.05 415.58 L153.40 415.56 L153.75 415.57 L154.10 415.59 L154.45 415.62 L154.80 415.65 L155.15 415.68 L155.50 415.63 L155.85 415.56 L156.20 415.50 L156.55 415.44 L156.90 415.42 L157.25 415.53 L157.60 415.64 L157.95 415.75 L158.30 415.85 L158.65 415.92 L159.00 415.98 L159.35 416.03 L159.70 416.08 L160.05 416.11 L160.40 415.99 L160.75 415.88 L161.10 415.76 L161.45 415.64 L161.80 415.62 L162.15 415.68 L162.50 415.74 L162.85 415.80 L163.20 415.86 L163.55 415.89 L163.90 415.93 L164.25 415.96 L164.60 416.00 L164.95 415.94 L165.30 415.76 L165.65 415.58 L166.00 415.39 L166.35 415.21 L166.70 415.20 L167.05 415.21 L167.40 415.22 L167.75 415.23 L168.10 415.28 L168.45 415.40 L168.80 415.52 L169.15 415.65 L169.50 415.77 L169.85 415.80 L170.20 415.80 L170.55 415.80 L170.90 415.80 L171.25 415.79 L171.60 415.75 L171.95 415.70 L172.30 415.65 L172.65 415.60 L173.00 415.53 L173.35 415.42 L173.70 415.32 L174.05 415.22 L174.40 415.12 L174.75 415.16 L175.10 415.20 L175.40 415.24 L175.45 415.24 L175.80 415.28 L176.15 415.33 L176.50 415.39 L176.85 415.45 L177.20 415.50 L177.55 415.54 L177.90 415.50 L178.25 415.45 L178.60 415.39 L178.95 415.32 L179.30 415.23 L179.65 415.07 L180.00 414.91 L180.35 414.65 L180.70 414.55 L181.05 414.45 L181.40 414.35 L181.75 414.24 L182.10 414.13 L182.45 414.01 L182.80 413.89 L183.15 413.76 L183.50 413.63 L183.85 413.50 L184.20 413.37 L184.55 413.23 L184.90 413.09 L185.25 412.95 L185.60 412.80 L185.60 412.80 L185.95 412.64 L186.30 412.47 L186.65 412.28 L187.00 412.06 L187.35 411.83 L187.70 411.57 L188.05 411.29 L188.40 410.99 L188.75 410.66 L189.10 410.31 L189.45 409.93 L189.80 409.52 L190.15 409.09 L190.50 408.62 L190.80 408.20 L190.85 408.13 L191.20 407.47 L191.55 406.61 L191.90 405.57 L192.25 404.40 L192.60 403.12 L192.95 401.76 L193.30 400.37 L193.65 398.97 L194.00 397.60 L194.35 396.28 L194.60 395.40 L194.70 395.05 L195.05 393.63 L195.40 392.06 L195.75 390.45 L196.10 388.95 L196.45 387.69 L196.80 386.80 L197.15 386.41 L197.20 386.40 L197.50 386.56 L197.85 387.11 L198.20 387.95 L198.55 389.00 L198.90 390.17 L199.25 391.36 L199.60 392.50 L199.70 392.80 L199.95 393.60 L200.30 394.88 L200.65 396.29 L201.00 397.72 L201.35 399.09 L201.70 400.31 L202.05 401.29 L202.30 401.80 L202.40 401.96 L202.75 402.52 L203.10 403.04 L203.45 403.53 L203.80 403.99 L204.15 404.42 L204.50 404.82 L204.85 405.18 L205.20 405.52 L205.55 405.82 L205.90 406.09 L206.25 406.33 L206.60 406.54 L206.95 406.72 L207.30 406.86 L207.40 406.90 L207.65 406.99 L208.00 407.10 L208.35 407.22 L208.70 407.33 L209.05 407.43 L209.40 407.53 L209.75 407.62 L210.10 407.71 L210.45 407.79 L210.80 407.87 L211.15 407.94 L211.50 408.00 L211.85 408.05 L212.20 408.10 L212.55 408.14 L212.90 408.17 L213.25 408.19 L213.60 408.20 L213.80 408.20 L213.95 408.20 L214.30 408.18 L214.65 408.15 L215.00 408.11 L215.35 408.05 L215.70 407.98 L216.05 407.90 L216.40 407.80 L216.75 407.70 L217.10 407.58 L217.45 407.46 L217.80 407.33 L218.15 407.19 L218.50 407.04 L218.85 406.89 L219.20 406.73 L219.55 406.56 L219.90 406.40 L220.25 406.22 L220.60 406.05 L220.95 405.88 L221.30 405.70 L221.50 405.60 L221.65 405.52 L222.00 405.33 L222.35 405.11 L222.70 404.87 L223.05 404.61 L223.40 404.34 L223.75 404.04 L224.10 403.74 L224.45 403.41 L224.80 403.07 L225.15 402.72 L225.50 402.36 L225.85 401.98 L226.20 401.59 L226.55 401.20 L226.90 400.79 L227.25 400.38 L227.60 399.97 L227.95 399.54 L228.30 399.11 L228.65 398.68 L229.00 398.25 L229.20 398.00 L229.35 397.81 L229.70 397.37 L230.05 396.92 L230.40 396.45 L230.75 395.98 L231.10 395.50 L231.45 395.01 L231.80 394.50 L232.15 393.99 L232.50 393.46 L232.85 392.92 L233.20 392.37 L233.55 391.81 L233.90 391.24 L234.25 390.65 L234.60 390.04 L234.95 389.43 L235.30 388.80 L235.65 388.15 L236.00 387.49 L236.35 386.82 L236.70 386.13 L237.05 385.42 L237.40 384.70 L237.75 383.96 L238.10 383.20 L238.45 382.43 L238.80 381.64 L239.15 380.83 L239.50 380.00 L239.50 380.00 L239.85 379.12 L240.20 378.16 L240.55 377.14 L240.90 376.04 L241.25 374.90 L241.60 373.70 L241.95 372.47 L242.30 371.20 L242.65 369.91 L243.00 368.60 L243.35 367.28 L243.70 365.96 L244.05 364.64 L244.40 363.34 L244.75 362.05 L245.10 360.80 L245.10 360.80 L245.45 359.55 L245.80 358.30 L246.15 357.02 L246.50 355.74 L246.85 354.45 L247.20 353.15 L247.55 351.84 L247.90 350.53 L248.25 349.22 L248.60 347.90 L248.95 346.59 L249.30 345.28 L249.65 343.97 L250.00 342.66 L250.35 341.36 L250.70 340.07 L251.05 338.79 L251.40 337.53 L251.75 336.27 L252.10 335.03 L252.45 333.81 L252.80 332.60 L252.80 332.60 L253.15 331.38 L253.50 330.14 L253.85 328.86 L254.20 327.58 L254.55 326.28 L254.90 324.98 L255.25 323.69 L255.60 322.41 L255.95 321.16 L256.30 319.94 L256.65 318.75 L257.00 317.61 L257.35 316.53 L257.70 315.50 L258.05 314.55 L258.40 313.67 L258.75 312.88 L259.10 312.18 L259.20 312.00 L259.45 311.59 L259.80 311.09 L260.15 310.67 L260.50 310.30 L260.85 309.97 L261.20 309.64 L261.55 309.29 L261.90 308.91 L262.25 308.47 L262.60 307.94 L262.95 307.31 L263.10 307.00 L263.30 306.50 L263.65 305.31 L264.00 303.77 L264.35 301.95 L264.70 299.90 L265.05 297.68 L265.40 295.35 L265.60 294.00 L265.75 292.95 L266.10 290.28 L266.45 287.29 L266.80 284.02 L267.15 280.49 L267.50 276.71 L267.85 272.71 L268.20 268.50 L268.20 268.50 L268.55 263.88 L268.90 258.70 L269.25 253.06 L269.60 247.09 L269.95 240.90 L270.00 240.00 L270.30 234.46 L270.65 227.61 L271.00 220.34 L271.35 212.63 L271.50 209.20 L271.70 203.36 L272.05 192.06 L272.30 188.50 L272.40 188.80 L272.75 193.64 L273.10 201.59 L273.45 209.02 L273.80 212.30 L273.80 212.30 L274.15 210.27 L274.50 205.20 L274.85 198.61 L275.10 193.80 L275.20 191.85 L275.55 183.65 L275.90 173.74 L276.25 162.67 L276.60 151.02 L276.95 139.34 L277.30 128.22 L277.65 118.21 L277.70 116.90 L278.00 108.51 L278.35 97.83 L278.70 87.41 L279.05 78.57 L279.40 72.61 L279.70 70.80 L279.75 70.91 L280.10 76.77 L280.45 88.77 L280.80 102.99 L281.15 115.48 L281.20 116.90 L281.50 124.99 L281.85 134.28 L282.20 143.31 L282.55 151.99 L282.90 160.21 L283.25 167.86 L283.60 174.85 L283.80 178.50 L283.95 181.12 L284.30 187.01 L284.65 192.57 L285.00 197.77 L285.35 202.57 L285.70 206.92 L286.05 210.80 L286.20 212.30 L286.40 214.32 L286.75 217.95 L287.10 221.15 L287.45 223.29 L287.70 223.80 L287.80 223.75 L288.15 222.85 L288.50 220.97 L288.85 218.29 L289.20 215.00 L289.55 211.28 L289.90 207.34 L290.00 206.20 L290.25 202.98 L290.60 197.28 L290.95 190.33 L291.30 182.21 L291.65 173.07 L292.00 163.00 L292.00 163.00 L292.35 146.54 L292.70 126.37 L293.05 114.83 L293.10 114.60 L293.40 118.64 L293.75 130.32 L294.10 144.14 L294.20 147.70 L294.45 156.05 L294.80 168.17 L295.15 182.05 L295.40 193.80 L295.50 199.85 L295.85 226.76 L296.00 235.00 L296.20 242.02 L296.55 251.28 L296.80 255.60 L296.90 256.92 L297.25 261.09 L297.60 264.60 L297.95 267.54 L298.30 269.97 L298.65 271.96 L299.00 273.60 L299.00 273.60 L299.35 275.00 L299.70 276.24 L300.05 277.35 L300.40 278.34 L300.75 279.24 L301.10 280.08 L301.45 280.86 L301.80 281.61 L302.15 282.36 L302.50 283.12 L302.80 283.80 L302.85 283.92 L303.20 284.71 L303.55 285.49 L303.90 286.25 L304.25 287.00 L304.60 287.73 L304.95 288.44 L305.30 289.14 L305.65 289.83 L306.00 290.51 L306.35 291.18 L306.70 291.85 L307.05 292.51 L307.40 293.17 L307.75 293.82 L307.90 294.10 L308.10 294.48 L308.45 295.15 L308.80 295.83 L309.15 296.52 L309.50 297.21 L309.85 297.89 L310.20 298.57 L310.55 299.23 L310.90 299.87 L311.25 300.48 L311.60 301.07 L311.95 301.62 L312.30 302.12 L312.65 302.59 L313.00 302.99 L313.10 303.10 L313.35 303.36 L313.70 303.73 L314.05 304.10 L314.40 304.47 L314.75 304.82 L315.10 305.16 L315.45 305.49 L315.80 305.79 L316.15 306.06 L316.50 306.31 L316.85 306.52 L317.20 306.68 L317.55 306.81 L317.90 306.88 L318.20 306.90 L318.25 306.90 L318.60 306.84 L318.95 306.70 L319.30 306.49 L319.65 306.24 L320.00 305.95 L320.35 305.64 L320.70 305.33 L321.05 305.03 L321.40 304.76 L321.75 304.53 L322.00 304.40 L322.10 304.36 L322.45 304.22 L322.80 304.11 L323.15 304.01 L323.50 303.92 L323.85 303.83 L324.20 303.74 L324.55 303.65 L324.90 303.54 L325.25 303.41 L325.60 303.26 L325.90 303.10 L325.95 303.07 L326.30 302.72 L326.65 302.18 L327.00 301.50 L327.35 300.76 L327.70 300.00 L328.05 299.28 L328.40 298.67 L328.75 298.23 L329.10 298.01 L329.20 298.00 L329.45 298.06 L329.80 298.32 L330.15 298.74 L330.50 299.27 L330.85 299.86 L331.20 300.46 L331.55 301.01 L331.90 301.46 L332.25 301.77 L332.30 301.80 L332.60 301.95 L332.95 302.10 L333.30 302.22 L333.65 302.33 L334.00 302.43 L334.35 302.52 L334.70 302.61 L335.05 302.70 L335.40 302.80 L335.75 302.92 L336.10 303.06 L336.20 303.10 L336.45 303.22 L336.80 303.43 L337.15 303.67 L337.50 303.93 L337.85 304.21 L338.20 304.49 L338.55 304.76 L338.90 305.02 L339.25 305.24 L339.60 305.44 L339.95 305.58 L340.00 305.60 L340.30 305.70 L340.65 305.80 L341.00 305.91 L341.35 306.01 L341.70 306.10 L342.05 306.19 L342.40 306.26 L342.75 306.32 L343.10 306.36 L343.45 306.39 L343.80 306.40 L343.80 306.40 L344.15 306.37 L344.50 306.27 L344.85 306.12 L345.20 305.94 L345.55 305.71 L345.90 305.47 L346.25 305.21 L346.60 304.95 L346.95 304.69 L347.30 304.45 L347.65 304.23 L348.00 304.05 L348.35 303.91 L348.70 303.82 L349.00 303.80 L349.05 303.80 L349.40 303.88 L349.75 304.07 L350.10 304.35 L350.45 304.72 L350.80 305.15 L351.15 305.64 L351.50 306.16 L351.85 306.71 L352.20 307.26 L352.55 307.82 L352.80 308.20 L352.90 308.35 L353.25 308.95 L353.60 309.61 L353.95 310.34 L354.30 311.12 L354.65 311.94 L355.00 312.80 L355.35 313.67 L355.70 314.56 L356.05 315.44 L356.40 316.32 L356.75 317.17 L357.10 317.99 L357.45 318.78 L357.80 319.50 L357.90 319.70 L358.15 320.18 L358.50 320.83 L358.85 321.45 L359.20 322.05 L359.55 322.64 L359.90 323.21 L360.25 323.77 L360.60 324.32 L360.95 324.86 L361.30 325.39 L361.65 325.92 L362.00 326.46 L362.35 326.99 L362.70 327.54 L363.05 328.09 L363.40 328.65 L363.75 329.22 L364.10 329.82 L364.45 330.43 L364.80 331.06 L365.15 331.72 L365.50 332.40 L365.60 332.60 L365.85 333.12 L366.20 333.88 L366.55 334.69 L366.90 335.53 L367.25 336.41 L367.60 337.30 L367.95 338.21 L368.30 339.13 L368.65 340.05 L369.00 340.97 L369.35 341.88 L369.70 342.78 L370.05 343.64 L370.40 344.48 L370.75 345.29 L370.80 345.40 L371.10 346.06 L371.45 346.84 L371.80 347.60 L372.15 348.36 L372.50 349.11 L372.85 349.86 L373.20 350.60 L373.55 351.34 L373.90 352.06 L374.25 352.78 L374.60 353.49 L374.95 354.19 L375.30 354.89 L375.65 355.58 L376.00 356.25 L376.35 356.92 L376.70 357.58 L377.05 358.23 L377.40 358.86 L377.75 359.49 L378.10 360.11 L378.45 360.71 L378.50 360.80 L378.80 361.31 L379.15 361.90 L379.50 362.49 L379.85 363.07 L380.20 363.65 L380.55 364.22 L380.90 364.78 L381.25 365.33 L381.60 365.88 L381.95 366.42 L382.30 366.96 L382.65 367.48 L383.00 368.00 L383.35 368.51 L383.70 369.01 L384.05 369.50 L384.40 369.98 L384.75 370.46 L385.10 370.92 L385.45 371.37 L385.80 371.81 L386.15 372.24 L386.20 372.30 L386.50 372.66 L386.85 373.07 L387.20 373.47 L387.55 373.86 L387.90 374.25 L388.25 374.63 L388.60 375.00 L388.95 375.37 L389.30 375.73 L389.65 376.08 L390.00 376.43 L390.35 376.77 L390.70 377.11 L391.05 377.45 L391.40 377.78 L391.75 378.11 L392.10 378.44 L392.45 378.76 L392.80 379.08 L393.15 379.41 L393.50 379.73 L393.80 380.00 L393.85 380.05 L394.20 380.38 L394.55 380.72 L394.90 381.07 L395.25 381.44 L395.60 381.81 L395.95 382.19 L396.30 382.57 L396.65 382.96 L397.00 383.34 L397.35 383.73 L397.70 384.11 L398.05 384.49 L398.40 384.86 L398.75 385.22 L399.10 385.58 L399.45 385.92 L399.80 386.25 L400.15 386.56 L400.50 386.86 L400.85 387.14 L401.20 387.39 L401.55 387.63 L401.90 387.84 L402.25 388.03 L402.60 388.18 L402.95 388.31 L403.30 388.41 L403.65 388.47 L404.00 388.50 L404.10 388.50 L404.35 388.50 L404.70 388.48 L405.05 388.46 L405.40 388.42 L405.75 388.37 L406.10 388.32 L406.45 388.25 L406.80 388.17 L407.15 388.09 L407.50 387.99 L407.85 387.89 L408.20 387.78 L408.55 387.66 L408.90 387.54 L409.25 387.41 L409.60 387.27 L409.95 387.13 L410.30 386.99 L410.50 386.90 L410.65 386.83 L411.00 386.62 L411.35 386.36 L411.70 386.04 L412.05 385.67 L412.40 385.25 L412.75 384.80 L413.10 384.30 L413.45 383.77 L413.80 383.22 L414.15 382.63 L414.50 382.02 L414.85 381.39 L415.20 380.75 L415.55 380.09 L415.60 380.00 L415.90 379.37 L416.25 378.49 L416.60 377.48 L416.95 376.38 L417.30 375.21 L417.65 374.02 L418.00 372.83 L418.35 371.67 L418.70 370.58 L419.05 369.58 L419.40 368.72 L419.50 368.50 L419.75 367.96 L420.10 367.17 L420.45 366.37 L420.80 365.60 L421.15 364.88 L421.50 364.27 L421.85 363.77 L422.20 363.44 L422.55 363.30 L422.60 363.30 L422.90 363.35 L423.25 363.53 L423.60 363.82 L423.95 364.20 L424.30 364.66 L424.65 365.17 L425.00 365.72 L425.35 366.30 L425.70 366.87 L425.90 367.20 L426.05 367.45 L426.40 368.14 L426.75 368.94 L427.10 369.84 L427.45 370.83 L427.80 371.87 L428.15 372.96 L428.50 374.08 L428.85 375.21 L429.20 376.33 L429.55 377.42 L429.90 378.47 L430.25 379.46 L430.60 380.38 L430.95 381.19 L431.00 381.30 L431.30 381.93 L431.65 382.65 L432.00 383.34 L432.35 384.02 L432.70 384.68 L433.05 385.31 L433.40 385.93 L433.75 386.53 L434.10 387.12 L434.45 387.69 L434.80 388.24 L435.15 388.78 L435.50 389.30 L435.85 389.81 L436.20 390.30 L436.20 390.30 L436.55 390.78 L436.90 391.25 L437.25 391.70 L437.60 392.15 L437.95 392.58 L438.30 393.00 L438.65 393.41 L439.00 393.81 L439.35 394.20 L439.70 394.59 L440.05 394.98 L440.40 395.42 L440.75 395.86 L441.10 396.30 L441.45 396.73 L441.70 397.03 L441.80 397.16 L442.15 397.42 L442.50 397.69 L442.85 397.97 L443.20 398.24 L443.55 398.51 L443.90 398.92 L444.25 399.34 L444.60 399.77 L444.95 400.19 L445.30 400.60 L445.65 400.88 L446.00 401.11 L446.35 401.33 L446.70 401.53 L447.05 401.73 L447.40 402.08 L447.75 402.53 L448.10 402.98 L448.45 403.40 L448.80 403.82 L449.15 404.12 L449.50 404.28 L449.85 404.41 L450.00 404.47 L450.20 404.54 L450.55 404.65 L450.90 404.78 L451.25 404.98 L451.60 405.17 L451.95 405.35 L452.30 405.53 L452.65 405.69 L453.00 405.73 L453.35 405.78 L453.70 405.81 L454.05 405.85 L454.40 405.88 L454.75 406.09 L455.10 406.29 L455.45 406.49 L455.80 406.69 L456.15 406.89 L456.50 407.01 L456.85 407.12 L457.20 407.23 L457.55 407.34 L457.90 407.45 L458.25 407.57 L458.30 407.58 L458.60 407.69 L458.95 407.81 L459.30 407.93 L459.65 408.05 L460.00 408.14 L460.35 408.21 L460.70 408.29 L461.05 408.36 L461.40 408.43 L461.75 408.56 L462.10 408.74 L462.45 408.93 L462.80 409.12 L463.15 409.30 L463.50 409.45 L463.85 409.48 L464.20 409.52 L464.55 409.55 L464.90 409.59 L465.25 409.63 L465.60 409.72 L465.95 409.82 L466.30 409.91 L466.65 410.00 L467.00 410.08 L467.35 410.15 L467.70 410.22 L468.05 410.28 L468.40 410.34 L468.75 410.40 L469.10 410.56 L469.45 410.74 L469.80 410.91 L470.15 411.08 L470.50 411.25 L470.85 411.27 L471.20 411.21 L471.55 411.16 L471.70 411.13 L471.90 411.10 L472.25 411.04 L472.60 411.05 L472.95 411.12 L473.30 411.19 L473.65 411.25 L474.00 411.32 L474.35 411.36 L474.70 411.36 L475.05 411.37 L475.40 411.38 L475.75 411.38 L476.10 411.42 L476.45 411.57 L476.80 411.71 L477.15 411.86 L477.50 412.00 L477.85 412.12 L478.20 412.14 L478.55 412.15 L478.90 412.17 L479.25 412.18 L479.60 412.19 L479.95 412.22 L480.30 412.25 L480.65 412.28 L481.00 412.31 L481.35 412.34 L481.70 412.29 L482.05 412.23 L482.40 412.17 L482.75 412.10 L483.10 412.04 L483.30 412.06 L483.45 412.11 L483.80 412.23 L484.15 412.34 L484.50 412.46 L484.85 412.58 L485.20 412.63 L485.55 412.65 L485.90 412.67 L486.25 412.69 L486.60 412.70 L486.95 412.71 L487.30 412.69 L487.65 412.68 L488.00 412.67 L488.35 412.65 L488.70 412.65 L489.05 412.67 L489.40 412.69 L489.75 412.71 L490.10 412.73 L490.45 412.78 L490.80 413.02 L491.15 413.25 L491.50 413.49 L491.85 413.73 L492.20 413.97 L492.55 413.84 L492.90 413.72 L493.25 413.60 L493.60 413.48 L493.95 413.36 L494.30 413.42 L494.65 413.51 L495.00 413.61 L495.35 413.70 L495.70 413.80 L496.05 413.87 L496.40 413.93 L496.70 413.99 L496.75 413.99 L497.10 414.07 L497.45 414.17 L497.80 414.32 L498.15 414.45 L498.50 414.52 L498.85 414.60 L499.20 414.86 L499.55 415.53 L499.90 416.15 L500.25 416.53 L500.60 415.85 L500.95 415.17 L501.30 414.48 L501.65 414.96 L502.00 415.42 L502.35 415.88 L502.70 416.17 L503.05 416.43 L503.30 416.59 L503.40 416.66 L503.75 417.11 L504.10 417.66 L504.45 418.20 L504.80 418.21 L505.15 417.80 L505.50 417.40 L505.85 417.17 L506.20 417.18 L506.55 417.19 L506.90 417.26 L507.25 417.50 L507.60 417.74 L507.95 417.89 L508.30 417.54 L508.65 417.18 L509.00 416.82 L509.35 416.57 L509.70 416.31 L510.00 416.08 L510.05 416.04 L510.40 416.41 L510.75 416.88 L511.10 417.35 L511.45 417.77 L511.80 418.16 L512.15 418.56 L512.50 418.61 L512.85 418.41 L513.20 418.20 L513.55 417.86 L513.90 417.33 L514.25 416.80 L514.60 416.53 L514.95 416.92 L515.30 417.31 L515.65 417.65 L516.00 417.77 L516.35 417.88 L516.70 418.00 L517.05 417.34 L517.40 416.68 L517.75 416.02 L518.10 416.16 L518.45 416.43 L518.80 416.70 L519.15 416.57 L519.50 416.27 L519.85 415.97 L520.00 415.84 L520.20 415.74 L520.55 415.56 L520.90 415.39 L521.25 415.27 L521.60 415.25 L521.95 415.21 L522.30 415.12 L522.65 414.93 L523.00 414.72 L523.35 414.55 L523.70 414.68 L524.05 415.09 L524.20 415.00 L524.40 414.76 L524.75 413.85 L525.10 412.43 L525.45 410.64 L525.80 408.62 L526.15 406.50 L526.50 404.42 L526.70 403.30 L526.85 402.49 L527.20 400.60 L527.55 398.59 L527.90 396.34 L528.25 393.71 L528.30 393.30 L528.60 390.49 L528.95 386.54 L529.30 381.99 L529.65 377.00 L530.00 371.70 L530.00 371.70 L530.35 366.45 L530.70 361.02 L531.05 354.72 L531.40 346.84 L531.70 338.30 L531.75 336.41 L532.10 314.25 L532.30 303.80 L532.45 298.94 L532.80 288.16 L533.15 278.48 L533.50 270.24 L533.85 263.80 L534.20 259.51 L534.55 257.73 L534.60 257.70 L534.90 259.10 L535.25 263.77 L535.60 270.86 L535.95 279.50 L536.30 288.82 L536.65 297.92 L536.90 303.80 L537.00 306.06 L537.35 314.56 L537.70 323.23 L538.00 330.00 L538.05 331.04 L538.40 338.43 L538.75 345.31 L539.10 350.81 L539.20 352.00 L539.45 354.65 L539.80 358.08 L540.15 361.16 L540.50 363.88 L540.85 366.19 L541.20 368.09 L541.55 369.53 L541.70 370.00 L541.90 370.57 L542.25 371.50 L542.60 372.27 L542.95 372.80 L543.30 373.00 L543.30 373.00 L543.65 372.87 L544.00 372.51 L544.35 371.96 L544.70 371.24 L545.05 370.39 L545.40 369.45 L545.75 368.45 L545.80 368.30 L546.10 367.16 L546.45 365.25 L546.80 362.89 L547.15 360.25 L547.50 357.50 L547.85 354.81 L548.20 352.34 L548.30 351.70 L548.55 350.15 L548.90 348.01 L549.25 345.93 L549.60 343.91 L549.95 341.97 L550.00 341.70 L550.30 340.22 L550.65 338.54 L550.80 337.70 L551.00 336.49 L551.35 334.26 L551.70 331.84 L552.05 329.18 L552.40 326.22 L552.75 322.91 L553.10 319.20 L553.10 319.20 L553.45 314.64 L553.80 308.97 L554.15 302.41 L554.50 295.17 L554.85 287.49 L555.20 279.57 L555.55 271.66 L555.90 263.96 L556.20 257.70 L556.25 256.69 L556.60 249.55 L556.95 242.33 L557.30 235.04 L557.65 227.74 L558.00 220.46 L558.35 213.25 L558.70 206.13 L559.05 199.14 L559.20 196.20 L559.40 191.93 L559.75 183.38 L560.10 175.04 L560.45 168.71 L560.80 166.20 L560.80 166.20 L561.15 169.14 L561.50 176.36 L561.85 185.49 L562.20 194.15 L562.30 196.20 L562.55 201.08 L562.90 208.01 L563.25 214.70 L563.60 220.76 L563.80 223.80 L563.95 225.84 L564.30 230.05 L564.65 233.82 L565.00 237.54 L565.35 241.66 L565.40 242.30 L565.70 247.27 L566.05 254.03 L566.40 259.05 L566.60 260.00 L566.75 259.32 L567.10 253.58 L567.45 244.85 L567.80 236.63 L568.15 232.38 L568.20 232.30 L568.50 233.91 L568.85 238.85 L569.20 245.40 L569.20 245.40 L569.55 256.98 L569.90 270.50 L570.00 273.10 L570.25 278.08 L570.60 284.04 L570.95 288.91 L571.30 292.79 L571.50 294.60 L571.65 295.80 L572.00 298.24 L572.35 300.29 L572.70 302.04 L573.05 303.63 L573.40 305.15 L573.75 306.73 L574.10 308.48 L574.45 310.51 L574.60 311.50 L574.80 313.04 L575.15 316.42 L575.50 320.41 L575.85 324.71 L576.20 329.00 L576.55 332.98 L576.90 336.33 L577.25 338.75 L577.60 339.93 L577.70 340.00 L577.95 339.07 L578.30 335.21 L578.65 329.42 L579.00 322.85 L579.20 319.20 L579.35 316.44 L579.70 309.11 L580.05 300.67 L580.40 291.32 L580.50 288.50 L580.75 278.59 L581.10 265.58 L581.20 264.60 L581.45 266.28 L581.80 272.96 L582.15 282.30 L582.50 291.64 L582.85 298.32 L583.10 300.00 L583.20 299.84 L583.55 297.25 L583.90 292.71 L584.20 288.50 L584.25 287.78 L584.60 280.35 L584.95 271.85 L585.30 266.54 L585.40 266.20 L585.65 269.48 L586.00 281.12 L586.35 293.62 L586.40 295.00 L586.70 302.61 L587.05 311.04 L587.40 319.03 L587.70 325.60 L587.75 326.67 L588.10 334.03 L588.45 341.07 L588.80 347.71 L589.00 351.30 L589.15 354.01 L589.50 360.60 L589.85 366.64 L590.20 371.01 L590.30 371.80 L590.55 373.30 L590.90 374.94 L591.25 376.17 L591.50 376.90 L591.60 377.18 L591.95 378.14 L592.30 378.97 L592.65 379.45 L592.80 379.50 L593.00 379.36 L593.35 378.59 L593.70 377.43 L594.05 376.22 L594.40 375.30 L594.70 375.00 L594.75 375.03 L595.10 376.53 L595.45 379.49 L595.80 382.79 L596.15 385.26 L596.40 385.90 L596.50 385.80 L596.85 384.17 L597.20 381.23 L597.55 377.90 L597.90 375.09 L598.25 373.72 L598.30 373.70 L598.60 374.71 L598.95 377.64 L599.30 381.15 L599.65 383.88 L599.90 384.60 L600.00 384.59 L600.35 384.46 L600.70 384.19 L601.05 383.83 L601.40 383.42 L601.75 383.00 L602.10 382.60 L602.45 382.28 L602.80 382.06 L603.10 382.00 L603.15 382.01 L603.50 382.52 L603.85 383.63 L604.20 385.10 L604.55 386.68 L604.90 388.14 L605.00 388.50 L605.25 389.43 L605.60 390.92 L605.95 392.51 L606.30 394.06 L606.65 395.46 L607.00 396.56 L607.35 397.24 L607.60 397.40 L607.70 397.34 L608.05 396.27 L608.40 394.28 L608.75 391.92 L609.10 389.70 L609.45 388.18 L609.70 387.80 L609.80 387.86 L610.15 388.90 L610.50 390.83 L610.85 393.13 L611.20 395.26 L611.40 396.20 L611.55 396.82 L611.90 398.38 L612.25 399.90 L612.60 401.13 L612.95 401.82 L613.10 401.90 L613.30 401.69 L613.65 400.49 L614.00 398.61 L614.35 396.49 L614.70 394.54 L615.05 393.22 L615.30 392.90 L615.40 392.95 L615.75 393.78 L616.10 395.39 L616.45 397.43 L616.80 399.57 L617.15 401.47 L617.50 402.79 L617.80 403.20 L617.85 403.18 L618.20 402.22 L618.55 400.09 L618.90 397.26 L619.25 394.17 L619.60 391.28 L619.95 389.02 L620.30 387.87 L620.40 387.80 L620.65 388.38 L621.00 390.68 L621.35 393.90 L621.70 397.12 L622.05 399.42 L622.30 400.00 L622.40 400.00 L622.75 399.95 L623.10 399.85 L623.45 399.68 L623.80 399.45 L624.15 399.17 L624.50 398.81 L624.60 398.70 L624.85 396.98 L625.20 391.12 L625.55 383.76 L625.90 377.68 L626.20 375.60 L626.25 375.66 L626.60 378.78 L626.95 384.96 L627.30 391.81 L627.65 396.95 L627.70 397.40 L628.00 399.86 L628.35 402.57 L628.70 404.85 L629.05 406.42 L629.40 407.00 L629.40 407.00 L629.75 406.94 L630.10 406.77 L630.45 406.54 L630.80 406.29 L631.15 406.06 L631.50 405.88 L631.85 405.80 L631.90 405.80 L632.20 406.02 L632.55 406.74 L632.90 407.75 L633.25 408.86 L633.60 409.85 L633.80 410.30 L633.95 410.60 L634.30 411.34 L634.65 412.08 L635.00 412.74 L635.35 413.24 L635.70 413.49 L635.80 413.50 L636.05 413.35 L636.40 412.74 L636.75 411.90 L637.10 411.06 L637.45 410.45 L637.70 410.30 L637.80 410.33 L638.15 410.84 L638.50 411.67 L638.85 412.46 L639.20 412.80 L639.20 412.80 L639.55 410.38 L639.90 404.21 L640.25 395.96 L640.50 389.70 L640.60 386.71 L640.95 370.44 L641.30 351.60 L641.65 338.76 L641.80 337.20 L642.00 340.06 L642.35 354.95 L642.70 374.29 L643.05 388.62 L643.10 389.70 L643.40 395.11 L643.75 400.62 L644.10 404.60 L644.45 406.37 L644.50 406.40 L644.80 405.62 L645.15 403.16 L645.50 399.75 L645.85 396.12 L646.20 393.02 L646.55 391.21 L646.70 391.00 L646.90 391.50 L647.25 394.14 L647.60 397.67 L647.95 400.54 L648.20 401.30 L648.30 401.27 L648.65 400.85 L649.00 400.11 L649.35 399.34 L649.70 398.80 L649.90 398.70 L650.05 398.74 L650.40 399.12 L650.75 399.81 L651.10 400.69 L651.45 401.66 L651.80 402.59 L652.15 403.38 L652.40 403.80 L652.50 403.94 L652.85 404.42 L653.20 404.90 L653.55 405.36 L653.90 405.76 L654.25 406.08 L654.60 406.30 L654.95 406.40 L655.00 406.40 L655.30 405.91 L655.65 404.38 L656.00 402.25 L656.35 399.99 L656.70 398.06 L657.05 396.93 L657.20 396.80 L657.40 396.90 L657.75 397.52 L658.10 398.56 L658.45 399.86 L658.80 401.27 L659.15 402.64 L659.50 403.80 L659.50 403.80 L659.85 404.91 L660.20 406.14 L660.55 407.41 L660.90 408.62 L661.25 409.66 L661.60 410.44 L661.95 410.86 L662.10 410.90 L662.30 410.86 L662.65 410.63 L663.00 410.23 L663.35 409.72 L663.70 409.14 L664.05 408.54 L664.40 407.98 L664.60 407.70 L664.75 407.49 L665.10 406.90 L665.45 406.26 L665.80 405.63 L666.15 405.08 L666.50 404.68 L666.85 404.50 L666.90 404.50 L667.20 404.89 L667.55 406.12 L667.90 407.83 L668.25 409.64 L668.60 411.19 L668.95 412.10 L669.10 412.20 L669.30 412.03 L669.65 411.09 L670.00 409.61 L670.35 407.93 L670.70 406.40 L671.05 405.35 L671.30 405.10 L671.40 405.17 L671.75 406.33 L672.10 408.30 L672.45 410.27 L672.80 411.43 L672.90 411.50 L673.15 411.21 L673.50 409.95 L673.85 407.97 L674.20 405.54 L674.55 402.96 L674.60 402.60 L674.90 399.45 L675.25 394.22 L675.60 388.87 L675.95 384.98 L676.20 384.00 L676.30 384.18 L676.65 387.19 L677.00 392.47 L677.35 398.22 L677.70 402.60 L677.70 402.60 L678.05 405.77 L678.40 408.88 L678.75 411.55 L679.10 413.42 L679.40 414.10 L679.45 414.13 L679.80 414.32 L680.15 414.49 L680.50 414.63 L680.85 414.75 L681.20 414.86 L681.55 414.94 L681.90 415.01 L682.25 415.05 L682.60 415.08 L682.95 415.10 L683.10 415.10 L683.30 414.96 L683.65 414.16 L684.00 413.00 L684.35 411.84 L684.70 411.04 L684.90 410.90 L685.05 410.96 L685.40 411.53 L685.75 412.46 L686.10 413.53 L686.45 414.47 L686.80 415.04 L686.90 415.10 L687.15 415.18 L687.50 415.28 L687.85 415.37 L688.20 415.44 L688.55 415.51 L688.90 415.57 L689.25 415.61 L689.60 415.65 L689.95 415.68 L690.30 415.69 L690.65 415.70 L690.70 415.70 L691.00 415.69 L691.35 415.67 L691.70 415.63 L692.05 415.57 L692.40 415.48 L692.75 415.38 L693.10 415.26 L693.45 415.12 L693.50 415.10 L693.80 414.43 L694.15 412.72 L694.50 410.73 L694.85 409.20 L695.10 408.80 L695.20 408.85 L695.55 409.67 L695.90 411.14 L696.25 412.74 L696.60 413.99 L696.90 414.40 L696.95 414.38 L697.30 413.26 L697.65 411.01 L698.00 408.42 L698.35 406.29 L698.70 405.40 L698.70 405.40 L699.05 406.31 L699.40 408.46 L699.75 410.99 L700.10 413.02 L700.40 413.70 L700.45 413.70 L700.80 413.53 L701.15 413.17 L701.50 412.68 L701.85 412.14 L702.20 411.63 L702.55 411.20 L702.90 410.94 L703.10 410.90 L703.25 410.93 L703.60 411.20 L703.95 411.65 L704.30 412.17 L704.65 412.64 L705.00 412.95 L705.20 413.00 L705.35 412.97 L705.70 412.66 L706.05 412.09 L706.40 411.31 L706.75 410.39 L707.10 409.39 L707.30 408.80 L707.45 408.32 L707.80 406.92 L708.15 405.18 L708.50 403.16 L708.70 401.90 L708.85 400.73 L709.20 396.85 L709.55 392.38 L709.90 388.59 L710.25 386.73 L710.30 386.70 L710.60 387.24 L710.95 388.93 L711.30 391.23 L711.65 393.58 L711.90 395.00 L712.00 395.52 L712.35 397.63 L712.70 399.58 L713.05 400.58 L713.10 400.60 L713.40 399.91 L713.75 397.71 L714.10 394.65 L714.45 391.35 L714.50 390.90 L714.80 387.83 L715.15 383.48 L715.50 378.61 L715.85 373.57 L716.20 368.71 L716.30 367.40 L716.55 363.82 L716.90 358.06 L717.25 352.33 L717.60 347.61 L717.95 344.90 L718.10 344.60 L718.30 345.51 L718.65 350.61 L719.00 358.28 L719.35 366.34 L719.40 367.40 L719.70 375.20 L720.05 385.47 L720.40 392.30 L720.40 392.30 L720.75 395.40 L721.10 397.80 L721.45 399.52 L721.80 400.60 L721.80 400.60 L722.15 401.34 L722.50 401.99 L722.85 402.53 L723.20 402.94 L723.55 403.21 L723.90 403.30 L723.90 403.30 L724.25 403.20 L724.60 402.90 L724.95 402.45 L725.30 401.86 L725.65 401.15 L725.90 400.60 L726.00 400.34 L726.35 398.95 L726.70 396.89 L727.05 394.25 L727.40 391.11 L727.70 388.10 L727.75 387.55 L728.10 382.41 L728.45 375.51 L728.80 367.58 L729.10 360.50 L729.15 359.24 L729.50 347.16 L729.85 335.52 L730.10 332.20 L730.20 332.66 L730.55 339.89 L730.90 351.48 L731.20 360.50 L731.25 361.73 L731.60 370.92 L731.95 379.84 L732.30 386.74 L732.40 388.10 L732.65 390.91 L733.00 394.33 L733.35 397.18 L733.70 399.48 L734.05 401.28 L734.20 401.90 L734.40 402.65 L734.75 403.84 L735.10 404.90 L735.45 405.83 L735.80 406.65 L736.15 407.37 L736.50 408.01 L736.85 408.57 L737.00 408.80 L737.20 409.09 L737.55 409.55 L737.90 409.96 L738.25 410.35 L738.60 410.70 L738.95 411.03 L739.30 411.34 L739.65 411.64 L740.00 411.95 L740.35 412.26 L740.40 412.30 L740.70 412.58 L741.05 412.94 L741.40 413.31 L741.75 413.69 L742.10 414.05 L742.45 414.37 L742.80 414.66 L743.15 414.88 L743.50 415.04 L743.85 415.10 L743.90 415.10 L744.20 415.06 L744.55 414.91 L744.90 414.69 L745.25 414.44 L745.60 414.18 L745.95 413.95 L746.30 413.78 L746.65 413.70 L746.70 413.70 L747.00 413.72 L747.35 413.80 L747.70 413.92 L748.05 414.05 L748.40 414.18 L748.75 414.30 L749.10 414.38 L749.40 414.40 L749.45 414.40 L749.80 414.36 L750.15 414.27 L750.50 414.14 L750.85 413.97 L751.20 413.79 L751.55 413.60 L751.90 413.42 L752.25 413.24 L752.60 413.10 L752.90 413.00 L752.95 412.99 L753.30 412.91 L753.65 412.85 L754.00 412.80 L754.35 412.75 L754.70 412.71 L755.05 412.66 L755.40 412.59 L755.75 412.50 L756.10 412.38 L756.30 412.30 L756.45 412.09 L756.80 410.81 L757.15 409.08 L757.50 407.76 L757.70 407.50 L757.85 407.75 L758.20 409.55 L758.55 411.35 L758.70 411.60 L758.90 410.52 L759.25 405.40 L759.60 400.28 L759.80 399.20 L759.95 399.86 L760.30 404.85 L760.65 410.81 L760.90 413.00 L761.00 413.24 L761.35 413.93 L761.70 414.33 L761.90 414.40 L762.05 414.00 L762.40 410.52 L762.75 404.88 L762.80 404.00" fill="none" stroke="#000" stroke-width="1.85" stroke-linejoin="round" stroke-linecap="butt"/>
<path d="M63.80 807.20 L64.15 807.20 L64.50 807.20 L64.85 807.20 L65.20 807.20 L65.55 807.20 L65.90 807.20 L66.25 807.20 L66.60 807.20 L66.95 807.20 L67.30 807.20 L67.65 807.20 L68.00 807.20 L68.35 807.20 L68.70 807.20 L69.05 807.20 L69.40 807.20 L69.75 807.20 L70.10 807.20 L70.45 807.20 L70.80 807.20 L71.15 807.20 L71.50 807.20 L71.85 807.20 L72.20 807.20 L72.55 807.20 L72.90 807.20 L73.25 807.20 L73.60 807.20 L73.95 807.20 L74.30 807.20 L74.65 807.20 L75.00 807.20 L75.35 807.20 L75.70 807.20 L76.05 807.20 L76.40 807.20 L76.75 807.20 L77.10 807.20 L77.45 807.20 L77.80 807.20 L78.15 807.20 L78.50 807.20 L78.85 807.20 L79.20 807.20 L79.55 807.20 L79.90 807.20 L80.25 807.20 L80.60 807.20 L80.95 807.20 L81.30 807.41 L81.65 807.65 L82.00 807.89 L82.35 808.08 L82.70 808.02 L83.05 807.96 L83.40 807.90 L83.75 808.02 L84.10 808.36 L84.45 808.70 L84.80 809.04 L85.15 808.57 L85.50 807.78 L85.85 806.99 L86.20 806.19 L86.55 806.17 L86.90 806.16 L87.25 806.14 L87.60 806.29 L87.95 806.85 L88.30 807.42 L88.65 807.99 L89.00 808.07 L89.35 807.79 L89.70 807.92 L90.05 808.31 L90.40 809.01 L90.75 808.94 L91.10 807.84 L91.45 806.74 L91.80 806.38 L92.15 807.83 L92.50 809.28 L92.85 810.17 L93.20 807.65 L93.55 805.14 L93.90 802.62 L94.25 804.08 L94.60 805.53 L94.95 806.99 L95.30 806.98 L95.65 806.72 L96.00 806.46 L96.35 806.21 L96.70 806.03 L97.05 805.85 L97.40 805.67 L97.75 806.00 L98.10 806.99 L98.45 807.99 L98.80 808.98 L99.15 809.04 L99.50 808.73 L99.85 808.41 L100.20 808.10 L100.55 807.21 L100.90 806.33 L101.25 805.45 L101.60 805.03 L101.95 805.76 L102.30 806.50 L102.65 807.23 L103.00 807.67 L103.35 807.87 L103.70 808.08 L104.05 808.29 L104.40 807.53 L104.75 806.62 L105.10 805.70 L105.45 805.05 L105.80 805.94 L106.15 806.83 L106.50 807.72 L106.85 807.82 L107.20 806.85 L107.55 805.88 L107.90 804.91 L108.25 804.92 L108.60 805.31 L108.95 805.70 L109.30 806.09 L109.65 805.63 L110.00 805.16 L110.35 804.70 L110.70 804.43 L111.05 804.65 L111.40 804.87 L111.75 805.09 L112.10 806.00 L112.45 807.42 L112.80 808.83 L113.15 810.25 L113.50 809.55 L113.85 808.50 L114.20 807.45 L114.55 806.70 L114.90 807.77 L115.25 808.85 L115.60 809.92 L115.95 810.10 L116.30 809.09 L116.65 808.08 L117.00 807.07 L117.35 807.00 L117.70 807.31 L118.05 807.62 L118.40 807.93 L118.75 808.42 L119.10 808.90 L119.45 809.39 L119.80 809.64 L120.15 809.30 L120.50 808.96 L120.85 808.62 L121.20 807.87 L121.55 806.82 L121.90 805.76 L122.25 804.71 L122.60 805.31 L122.95 806.18 L123.30 807.06 L123.65 807.82 L124.00 807.90 L124.35 807.98 L124.70 808.06 L125.05 807.75 L125.40 806.93 L125.75 806.10 L126.10 805.27 L126.45 804.92 L126.80 804.76 L127.15 804.60 L127.50 804.44 L127.85 805.87 L128.20 807.30 L128.55 808.73 L128.90 809.56 L129.25 808.90 L129.60 808.24 L129.95 807.58 L130.30 806.96 L130.65 806.37 L131.00 805.79 L131.35 805.20 L131.70 805.60 L132.05 807.26 L132.40 807.64 L132.75 808.03 L133.10 808.41 L133.45 808.47 L133.80 808.08 L134.15 807.70 L134.50 807.31 L134.85 806.83 L135.20 806.32 L135.55 805.81 L135.90 805.29 L136.25 806.22 L136.60 807.14 L136.95 808.07 L137.30 808.46 L137.65 807.52 L138.00 806.57 L138.35 805.63 L138.70 805.37 L139.05 805.62 L139.40 805.86 L139.75 806.11 L140.10 805.87 L140.45 805.54 L140.80 805.21 L141.15 805.07 L141.50 805.99 L141.85 806.91 L142.20 807.83 L142.55 808.01 L142.90 807.20 L143.25 806.39 L143.60 805.58 L143.95 805.73 L144.30 806.26 L144.65 806.79 L145.00 807.32 L145.35 806.76 L145.70 806.21 L146.05 805.65 L146.40 805.39 L146.75 805.89 L147.10 806.39 L147.45 806.89 L147.80 807.26 L148.15 807.52 L148.50 807.79 L148.85 808.05 L149.20 807.92 L149.55 807.73 L149.90 807.53 L150.25 807.35 L150.60 807.25 L150.95 807.15 L151.30 807.04 L151.65 807.00 L152.00 807.04 L152.35 807.08 L152.70 807.12 L153.05 807.08 L153.40 807.02 L153.75 806.96 L154.10 806.90 L154.45 807.10 L154.80 807.31 L155.15 807.53 L155.50 807.55 L155.85 806.95 L156.20 806.35 L156.55 805.76 L156.90 805.83 L157.25 807.50 L157.60 807.51 L157.95 807.52 L158.30 807.53 L158.65 807.54 L159.00 807.55 L159.35 807.43 L159.70 807.31 L160.05 807.18 L160.40 807.06 L160.75 806.94 L161.10 806.86 L161.45 806.87 L161.80 806.88 L162.15 806.89 L162.50 806.90 L162.85 806.91 L163.20 806.96 L163.55 807.04 L163.90 807.12 L164.25 807.19 L164.60 807.27 L164.95 807.35 L165.30 807.35 L165.65 807.33 L166.00 807.31 L166.35 807.29 L166.70 807.27 L167.05 807.25 L167.40 807.17 L167.75 807.09 L168.10 807.01 L168.45 806.94 L168.80 806.86 L169.15 806.86 L169.50 806.95 L169.85 807.05 L170.20 807.14 L170.55 807.24 L170.90 807.34 L171.25 807.39 L171.60 807.42 L171.95 807.45 L172.30 807.49 L172.65 807.52 L173.00 807.56 L173.35 807.48 L173.70 807.41 L174.05 807.34 L174.40 807.26 L174.75 807.19 L175.10 807.14 L175.45 807.12 L175.80 807.11 L176.15 807.10 L176.50 807.09 L176.85 807.08 L177.20 807.10 L177.55 807.13 L177.90 807.16 L178.25 807.19 L178.60 807.22 L178.95 807.25 L179.30 807.30 L179.65 807.35 L180.00 807.40 L180.35 807.46 L180.70 807.51 L181.05 807.54 L181.40 807.44 L181.75 807.35 L182.10 807.25 L182.45 807.16 L182.80 807.06 L183.15 807.01 L183.50 807.02 L183.85 807.02 L184.20 807.03 L184.55 807.03 L184.90 807.04 L185.25 807.03 L185.60 807.01 L185.95 807.00 L186.30 806.98 L186.65 806.97 L187.00 806.95 L187.35 807.01 L187.70 807.07 L188.05 807.14 L188.40 807.20 L188.75 807.26 L189.10 807.30 L189.45 807.27 L189.80 807.25 L190.15 807.23 L190.50 807.21 L190.85 807.18 L191.20 807.16 L191.55 807.13 L191.90 807.10 L192.25 807.07 L192.60 807.04 L192.95 807.01 L193.30 807.02 L193.30 807.02 L193.65 807.03 L194.00 807.03 L194.35 807.02 L194.70 806.99 L195.05 806.95 L195.40 806.83 L195.75 806.71 L196.10 806.58 L196.45 806.44 L196.80 806.29 L197.15 806.17 L197.50 806.10 L197.85 806.02 L198.20 805.94 L198.55 805.85 L198.90 805.76 L199.25 805.66 L199.60 805.55 L199.95 805.44 L200.30 805.38 L200.65 805.24 L201.00 805.10 L201.00 805.10 L201.35 804.96 L201.70 804.80 L202.05 804.63 L202.40 804.44 L202.75 804.25 L203.10 804.04 L203.45 803.82 L203.80 803.60 L204.15 803.36 L204.50 803.11 L204.85 802.86 L205.20 802.60 L205.55 802.33 L205.90 802.05 L206.25 801.77 L206.60 801.48 L206.95 801.18 L207.30 800.89 L207.40 800.80 L207.65 800.58 L208.00 800.25 L208.35 799.89 L208.70 799.52 L209.05 799.12 L209.40 798.71 L209.75 798.29 L210.10 797.85 L210.45 797.41 L210.80 796.96 L211.15 796.50 L211.50 796.04 L211.85 795.58 L212.20 795.12 L212.55 794.66 L212.90 794.21 L213.25 793.77 L213.60 793.34 L213.80 793.10 L213.95 792.92 L214.30 792.51 L214.65 792.09 L215.00 791.68 L215.35 791.27 L215.70 790.85 L216.05 790.44 L216.40 790.03 L216.75 789.62 L217.10 789.21 L217.45 788.80 L217.80 788.39 L218.15 787.98 L218.50 787.56 L218.85 787.15 L219.20 786.73 L219.55 786.31 L219.90 785.89 L220.25 785.46 L220.30 785.40 L220.60 785.03 L220.95 784.57 L221.30 784.11 L221.65 783.63 L222.00 783.15 L222.35 782.66 L222.70 782.18 L223.05 781.71 L223.40 781.24 L223.75 780.79 L224.10 780.36 L224.45 779.96 L224.80 779.58 L225.15 779.23 L225.40 779.00 L225.50 778.91 L225.85 778.59 L226.20 778.27 L226.55 777.94 L226.90 777.62 L227.25 777.33 L227.60 777.05 L227.95 776.82 L228.30 776.63 L228.65 776.49 L229.00 776.41 L229.20 776.40 L229.35 776.41 L229.70 776.51 L230.05 776.70 L230.40 776.96 L230.75 777.26 L231.10 777.58 L231.45 777.89 L231.80 778.18 L232.15 778.42 L232.30 778.50 L232.50 778.60 L232.85 778.78 L233.20 778.96 L233.55 779.14 L233.90 779.29 L234.25 779.40 L234.60 779.48 L234.90 779.50 L234.95 779.50 L235.30 779.33 L235.65 778.92 L236.00 778.34 L236.35 777.64 L236.70 776.85 L237.05 776.04 L237.40 775.25 L237.75 774.53 L238.10 773.94 L238.20 773.80 L238.45 773.46 L238.80 772.98 L239.15 772.48 L239.50 771.98 L239.85 771.50 L240.20 771.03 L240.55 770.59 L240.90 770.20 L241.25 769.85 L241.60 769.57 L241.95 769.36 L242.30 769.24 L242.60 769.20 L242.65 769.20 L243.00 769.35 L243.35 769.69 L243.70 770.19 L244.05 770.83 L244.40 771.57 L244.75 772.38 L245.10 773.22 L245.45 774.07 L245.80 774.88 L245.90 775.10 L246.15 775.68 L246.50 776.58 L246.85 777.57 L247.20 778.63 L247.55 779.72 L247.90 780.84 L248.25 781.95 L248.60 783.03 L248.95 784.06 L249.30 785.02 L249.65 785.89 L249.70 786.00 L250.00 786.68 L250.35 787.49 L250.70 788.29 L251.05 789.09 L251.40 789.87 L251.75 790.62 L252.10 791.32 L252.45 791.98 L252.80 792.58 L253.15 793.10 L253.50 793.55 L253.85 793.91 L254.10 794.10 L254.20 794.17 L254.55 794.38 L254.90 794.56 L255.25 794.73 L255.60 794.87 L255.95 795.00 L256.30 795.12 L256.65 795.23 L257.00 795.34 L257.35 795.44 L257.70 795.55 L258.05 795.66 L258.40 795.78 L258.75 795.91 L259.10 796.06 L259.40 796.20 L259.45 796.23 L259.80 796.43 L260.15 796.67 L260.50 796.94 L260.85 797.23 L261.20 797.53 L261.55 797.83 L261.90 798.11 L262.25 798.38 L262.60 798.61 L262.95 798.79 L263.30 798.92 L263.65 798.99 L263.80 799.00 L264.00 799.00 L264.35 798.97 L264.70 798.92 L265.05 798.84 L265.40 798.74 L265.75 798.61 L266.10 798.45 L266.45 798.26 L266.80 798.04 L267.15 797.80 L267.40 797.60 L267.50 797.47 L267.85 796.34 L268.20 794.35 L268.55 791.75 L268.90 788.77 L269.10 787.00 L269.25 785.49 L269.60 780.85 L269.95 775.10 L270.30 768.87 L270.65 762.75 L270.90 758.80 L271.00 757.25 L271.35 751.08 L271.70 744.64 L272.05 739.08 L272.40 735.60 L272.60 735.00 L272.75 735.99 L273.10 744.15 L273.45 756.16 L273.80 766.63 L274.10 770.30 L274.15 770.20 L274.50 764.95 L274.85 754.75 L275.20 743.85 L275.30 741.20 L275.55 735.20 L275.90 727.16 L276.25 719.17 L276.60 710.83 L276.95 701.72 L277.30 691.42 L277.40 688.20 L277.65 680.00 L278.00 667.99 L278.35 654.34 L278.70 637.91 L279.05 617.56 L279.30 600.00 L279.40 589.30 L279.75 522.95 L280.10 466.95 L280.20 463.00 L280.45 484.59 L280.80 553.17 L281.10 600.00 L281.15 604.11 L281.50 627.02 L281.85 644.94 L282.00 652.90 L282.20 664.66 L282.55 685.76 L282.90 702.65 L283.00 705.90 L283.25 712.44 L283.60 720.19 L283.95 726.60 L284.30 732.02 L284.65 736.77 L285.00 741.20 L285.00 741.20 L285.35 745.41 L285.70 749.26 L286.05 752.73 L286.40 755.80 L286.75 758.46 L286.80 758.80 L287.10 760.99 L287.45 762.95 L287.60 763.20 L287.80 762.75 L288.15 760.50 L288.50 757.78 L288.85 756.23 L288.90 756.20 L289.20 757.65 L289.55 761.69 L289.90 766.06 L290.25 768.45 L290.30 768.50 L290.60 765.98 L290.95 758.16 L291.30 747.54 L291.50 741.20 L291.65 735.97 L292.00 720.20 L292.35 701.66 L292.60 688.20 L292.70 682.41 L293.05 656.90 L293.40 631.89 L293.75 618.75 L293.80 618.50 L294.10 632.11 L294.45 666.33 L294.70 688.20 L294.80 694.89 L295.15 717.46 L295.50 736.70 L295.60 741.20 L295.85 751.64 L296.20 764.98 L296.55 775.34 L296.80 780.00 L296.90 781.28 L297.25 785.19 L297.60 788.32 L297.95 790.80 L298.30 792.75 L298.60 794.10 L298.65 794.30 L299.00 795.65 L299.35 796.87 L299.70 797.94 L300.05 798.84 L300.40 799.55 L300.75 800.08 L300.90 800.24 L301.10 800.43 L301.45 800.73 L301.80 800.99 L302.15 801.27 L302.50 801.57 L302.85 801.84 L303.20 802.10 L303.55 802.34 L303.90 802.56 L304.25 802.69 L304.60 802.77 L304.95 802.85 L305.30 802.94 L305.30 802.94 L305.65 803.02 L306.00 803.11 L306.35 803.24 L306.70 803.37 L307.05 803.50 L307.40 803.63 L307.75 803.75 L308.10 803.87 L308.45 803.97 L308.80 804.08 L309.15 804.18 L309.50 804.28 L309.85 804.37 L310.20 804.48 L310.55 804.59 L310.90 804.71 L311.25 804.81 L311.60 804.91 L311.95 805.01 L312.30 805.10 L312.65 805.17 L313.00 805.24 L313.35 805.31 L313.70 805.37 L314.05 805.41 L314.10 805.42 L314.40 805.46 L314.75 805.50 L315.10 805.54 L315.45 805.57 L315.80 805.61 L316.15 805.68 L316.50 805.77 L316.85 805.87 L317.20 805.97 L317.55 806.07 L317.90 806.16 L318.25 806.16 L318.60 806.13 L318.95 806.09 L319.30 806.05 L319.65 806.01 L320.00 805.97 L320.35 805.99 L320.70 806.01 L321.05 806.03 L321.40 806.05 L321.75 806.06 L322.10 806.09 L322.45 806.15 L322.80 806.20 L323.15 806.26 L323.50 806.31 L323.85 806.37 L324.20 806.42 L324.55 806.47 L324.90 806.51 L325.25 806.56 L325.60 806.61 L325.95 806.66 L326.30 806.62 L326.65 806.57 L327.00 806.52 L327.35 806.46 L327.70 806.41 L328.05 806.38 L328.20 806.40 L328.40 806.44 L328.75 806.50 L329.10 806.56 L329.45 806.63 L329.80 806.69 L330.15 806.71 L330.50 806.69 L330.85 806.66 L331.20 806.63 L331.55 806.60 L331.90 806.57 L332.25 806.59 L332.60 806.62 L332.95 806.66 L333.30 806.69 L333.65 806.72 L334.00 806.76 L334.35 806.77 L334.70 806.79 L335.05 806.80 L335.40 806.82 L335.75 806.84 L336.10 806.86 L336.45 806.91 L336.80 806.96 L337.15 807.01 L337.50 807.06 L337.85 807.11 L338.20 807.12 L338.55 807.11 L338.90 807.11 L339.25 807.10 L339.60 807.09 L339.95 807.08 L340.30 807.07 L340.65 807.05 L341.00 807.04 L341.35 807.02 L341.70 807.01 L342.05 807.00 L342.40 807.05 L342.75 807.09 L343.10 807.14 L343.45 807.18 L343.80 807.23 L344.15 807.24 L344.50 807.20 L344.85 807.16 L345.20 807.12 L345.55 807.08 L345.90 807.03 L346.25 807.03 L346.60 807.04 L346.95 807.05 L347.30 807.06 L347.65 807.07 L348.00 807.08 L348.35 807.15 L348.70 807.22 L349.05 807.29 L349.40 807.35 L349.75 807.42 L350.10 807.46 L350.45 807.42 L350.80 807.39 L351.15 807.35 L351.50 807.31 L351.85 807.27 L352.20 807.28 L352.55 807.31 L352.90 807.33 L353.25 807.36 L353.60 807.39 L353.95 807.42 L354.30 807.39 L354.65 807.34 L355.00 807.30 L355.35 807.25 L355.70 807.21 L356.05 807.18 L356.40 807.25 L356.75 807.31 L357.10 807.38 L357.45 807.44 L357.80 807.51 L358.15 807.53 L358.50 807.50 L358.85 807.47 L359.20 807.44 L359.55 807.41 L359.90 807.38 L360.00 807.37 L360.25 807.34 L360.60 807.30 L360.95 807.26 L361.30 807.22 L361.65 807.19 L362.00 807.15 L362.35 807.22 L362.70 807.29 L363.05 807.36 L363.40 807.44 L363.75 807.51 L364.10 807.54 L364.45 807.50 L364.80 807.45 L365.15 807.40 L365.50 807.35 L365.85 807.30 L366.20 807.27 L366.55 807.25 L366.90 807.24 L367.25 807.22 L367.60 807.21 L367.95 807.19 L368.30 807.18 L368.65 807.18 L369.00 807.17 L369.35 807.16 L369.70 807.15 L370.05 807.14 L370.40 807.12 L370.75 807.10 L371.10 807.08 L371.45 807.06 L371.80 807.04 L372.15 807.03 L372.50 807.04 L372.85 807.05 L373.20 807.06 L373.55 807.06 L373.90 807.07 L374.25 807.11 L374.60 807.15 L374.95 807.20 L375.30 807.25 L375.65 807.30 L376.00 807.34 L376.35 807.28 L376.70 807.22 L377.05 807.16 L377.40 807.09 L377.75 807.03 L378.10 806.99 L378.45 807.00 L378.80 807.00 L379.15 807.01 L379.50 807.01 L379.85 807.02 L380.20 807.03 L380.55 807.04 L380.90 807.06 L381.25 807.07 L381.60 807.08 L381.95 807.09 L382.30 807.10 L382.65 807.10 L383.00 807.10 L383.35 807.10 L383.70 807.11 L384.05 807.10 L384.40 807.08 L384.75 807.05 L385.10 807.02 L385.45 807.00 L385.80 806.97 L386.15 806.97 L386.50 807.00 L386.85 807.03 L387.20 807.06 L387.55 807.09 L387.90 807.12 L388.25 807.10 L388.60 807.06 L388.95 807.01 L389.30 806.97 L389.65 806.93 L390.00 806.88 L390.35 806.87 L390.70 806.86 L391.05 806.84 L391.40 806.83 L391.75 806.81 L392.00 806.80 L392.10 806.74 L392.45 805.94 L392.80 805.01 L393.00 804.80 L393.15 805.32 L393.50 808.33 L393.70 809.20 L393.85 809.02 L394.20 807.80 L394.55 806.82 L394.60 806.80 L394.90 806.79 L395.25 806.79 L395.60 806.78 L395.95 806.78 L396.30 806.76 L396.65 806.75 L397.00 806.73 L397.35 806.71 L397.70 806.70 L398.05 806.68 L398.40 806.63 L398.75 806.58 L399.10 806.53 L399.45 806.49 L399.80 806.44 L400.15 806.42 L400.50 806.43 L400.85 806.43 L401.20 806.44 L401.55 806.45 L401.90 806.46 L402.25 806.45 L402.60 806.43 L402.95 806.42 L403.30 806.40 L403.65 806.39 L404.00 806.37 L404.35 806.45 L404.70 806.52 L405.05 806.60 L405.40 806.68 L405.75 806.75 L406.10 806.78 L406.45 806.70 L406.80 806.61 L407.15 806.53 L407.50 806.44 L407.85 806.36 L408.20 806.36 L408.55 806.43 L408.90 806.50 L409.25 806.57 L409.60 806.64 L409.95 806.71 L410.30 806.66 L410.65 806.59 L411.00 806.53 L411.35 806.46 L411.70 806.40 L412.05 806.35 L412.40 806.40 L412.75 806.46 L413.10 806.52 L413.45 806.57 L413.80 806.63 L414.15 806.66 L414.50 806.66 L414.85 806.66 L415.20 806.65 L415.55 806.65 L415.90 806.65 L416.25 806.62 L416.60 806.57 L416.95 806.53 L417.30 806.48 L417.65 806.44 L418.00 806.39 L418.35 806.47 L418.70 806.55 L419.05 806.63 L419.40 806.71 L419.75 806.78 L420.10 806.83 L420.45 806.79 L420.80 806.75 L421.15 806.71 L421.50 806.67 L421.85 806.62 L422.20 806.60 L422.55 806.58 L422.90 806.57 L423.25 806.55 L423.60 806.53 L423.95 806.52 L424.30 806.45 L424.65 806.38 L425.00 806.30 L425.35 806.23 L425.70 806.16 L426.05 806.10 L426.40 806.15 L426.75 806.20 L427.10 806.25 L427.45 806.30 L427.80 806.35 L428.15 806.36 L428.50 806.34 L428.85 806.32 L429.20 806.30 L429.55 806.28 L429.90 806.26 L430.25 806.27 L430.60 806.30 L430.95 806.33 L431.30 806.35 L431.65 806.38 L432.00 806.41 L432.35 806.47 L432.70 806.53 L433.05 806.60 L433.40 806.66 L433.75 806.73 L434.10 806.77 L434.45 806.76 L434.80 806.75 L435.15 806.74 L435.50 806.72 L435.85 806.71 L436.20 806.64 L436.55 806.53 L436.90 806.42 L437.25 806.30 L437.60 806.19 L437.95 806.08 L438.30 806.14 L438.65 806.22 L439.00 806.31 L439.35 806.39 L439.70 806.48 L440.05 806.56 L440.40 806.59 L440.75 806.63 L441.10 806.66 L441.45 806.70 L441.80 806.73 L442.15 806.73 L442.50 806.67 L442.85 806.62 L443.20 806.56 L443.55 806.51 L443.90 806.45 L444.25 806.39 L444.60 806.33 L444.95 806.26 L445.30 806.20 L445.65 806.14 L446.00 806.08 L446.35 806.18 L446.70 806.29 L447.05 806.40 L447.40 806.51 L447.75 806.61 L448.10 806.67 L448.45 806.61 L448.80 806.55 L449.15 806.49 L449.50 806.42 L449.85 806.36 L450.20 806.38 L450.55 806.46 L450.90 806.53 L451.25 806.61 L451.60 806.69 L451.95 806.77 L452.30 806.76 L452.65 806.75 L453.00 806.73 L453.35 806.72 L453.70 806.70 L454.05 806.69 L454.40 806.68 L454.75 806.68 L455.10 806.67 L455.45 806.66 L455.80 806.66 L456.15 806.66 L456.50 806.67 L456.85 806.69 L457.20 806.70 L457.55 806.72 L457.90 806.73 L458.25 806.65 L458.60 806.53 L458.95 806.41 L459.30 806.29 L459.65 806.16 L460.00 806.04 L460.35 806.15 L460.70 806.25 L461.05 806.35 L461.40 806.45 L461.75 806.55 L462.10 806.60 L462.45 806.54 L462.80 806.47 L463.15 806.40 L463.50 806.33 L463.85 806.26 L464.20 806.22 L464.55 806.19 L464.90 806.17 L465.25 806.15 L465.60 806.12 L465.95 806.10 L466.30 806.13 L466.65 806.16 L467.00 806.19 L467.35 806.23 L467.70 806.26 L468.05 806.29 L468.40 806.32 L468.75 806.35 L469.10 806.38 L469.45 806.41 L469.80 806.44 L470.15 806.42 L470.50 806.34 L470.85 806.26 L471.20 806.18 L471.55 806.09 L471.90 806.01 L472.25 806.03 L472.60 806.10 L472.95 806.16 L473.30 806.22 L473.65 806.28 L474.00 806.34 L474.35 806.39 L474.70 806.44 L475.05 806.48 L475.40 806.53 L475.75 806.58 L476.10 806.60 L476.45 806.56 L476.80 806.52 L477.15 806.47 L477.50 806.43 L477.85 806.39 L478.20 806.38 L478.55 806.38 L478.90 806.39 L479.25 806.39 L479.60 806.39 L479.95 806.40 L480.30 806.37 L480.65 806.34 L481.00 806.30 L481.35 806.27 L481.70 806.24 L482.05 806.22 L482.40 806.32 L482.75 806.41 L483.10 806.50 L483.45 806.60 L483.80 806.69 L484.15 806.70 L484.50 806.60 L484.85 806.50 L485.20 806.40 L485.55 806.29 L485.90 806.19 L486.25 806.21 L486.60 806.27 L486.95 806.32 L487.30 806.38 L487.65 806.44 L488.00 806.50 L488.35 806.50 L488.70 806.49 L489.05 806.49 L489.40 806.48 L489.75 806.47 L490.10 806.44 L490.45 806.35 L490.80 806.26 L491.15 806.17 L491.50 806.08 L491.85 805.99 L492.20 806.02 L492.55 806.16 L492.90 806.30 L493.25 806.44 L493.60 806.58 L493.95 806.71 L494.30 806.64 L494.65 806.53 L495.00 806.43 L495.35 806.32 L495.70 806.21 L496.05 806.13 L496.40 806.23 L496.75 806.34 L497.10 806.44 L497.45 806.55 L497.80 806.65 L498.15 806.70 L498.50 806.69 L498.85 806.68 L499.20 806.67 L499.55 806.66 L499.90 806.65 L500.25 806.64 L500.60 806.64 L500.95 806.63 L501.30 806.63 L501.65 806.62 L502.00 806.61 L502.35 806.61 L502.70 806.60 L503.05 806.59 L503.40 806.58 L503.75 806.57 L504.10 806.55 L504.45 806.48 L504.80 806.41 L505.15 806.35 L505.50 806.28 L505.85 806.21 L506.20 806.19 L506.55 806.19 L506.90 806.19 L507.25 806.20 L507.60 806.20 L507.95 806.20 L508.30 806.19 L508.65 806.17 L509.00 806.16 L509.35 806.14 L509.70 806.12 L510.05 806.12 L510.40 806.20 L510.75 806.28 L511.10 806.36 L511.45 806.44 L511.80 806.52 L512.15 806.50 L512.50 806.37 L512.85 806.24 L513.20 806.11 L513.55 805.98 L513.90 805.85 L514.25 805.82 L514.60 805.83 L514.95 805.84 L515.30 805.86 L515.65 805.87 L516.00 805.88 L516.35 805.99 L516.70 806.10 L517.05 806.21 L517.40 806.32 L517.75 806.43 L518.10 806.50 L518.45 806.48 L518.80 806.45 L519.15 806.43 L519.50 806.40 L519.85 806.37 L520.20 806.35 L520.55 806.33 L520.90 806.31 L521.25 806.30 L521.60 806.28 L521.95 806.26 L522.30 806.28 L522.65 806.31 L523.00 806.34 L523.35 806.38 L523.70 806.41 L524.05 806.42 L524.40 806.36 L524.75 806.29 L525.10 806.22 L525.45 806.15 L525.80 806.09 L526.15 806.04 L526.50 806.03 L526.85 806.03 L527.20 806.01 L527.55 806.00 L527.70 806.00 L527.90 805.99 L528.25 805.92 L528.60 805.80 L528.95 805.62 L529.30 805.39 L529.65 805.11 L530.00 804.78 L530.35 804.41 L530.70 803.99 L531.05 803.52 L531.40 803.01 L531.75 802.47 L532.10 801.88 L532.45 801.25 L532.80 800.59 L533.10 800.00 L533.15 799.89 L533.50 798.76 L533.85 797.09 L534.20 795.06 L534.55 792.84 L534.90 790.60 L535.25 788.51 L535.40 787.70 L535.60 786.67 L535.95 784.90 L536.30 783.15 L536.65 781.42 L537.00 779.69 L537.35 777.98 L537.70 776.26 L538.05 774.54 L538.40 772.80 L538.50 772.30 L538.75 770.94 L539.10 768.75 L539.45 766.42 L539.80 764.12 L540.15 762.07 L540.50 760.44 L540.85 759.43 L541.10 759.20 L541.20 759.29 L541.55 760.87 L541.90 763.87 L542.25 767.59 L542.60 771.35 L542.95 774.45 L543.10 775.40 L543.30 776.50 L543.65 778.45 L544.00 780.32 L544.35 782.00 L544.70 783.36 L545.05 784.27 L545.40 784.60 L545.40 784.60 L545.75 784.32 L546.10 783.54 L546.45 782.32 L546.80 780.72 L547.15 778.83 L547.50 776.70 L547.70 775.40 L547.85 774.28 L548.20 770.69 L548.55 765.77 L548.90 759.57 L549.25 752.14 L549.60 743.53 L549.95 733.78 L550.00 732.30 L550.30 720.76 L550.65 701.68 L551.00 678.14 L551.35 651.76 L551.50 640.00 L551.70 619.03 L552.05 571.10 L552.40 537.62 L552.50 535.40 L552.75 544.61 L553.10 581.28 L553.45 632.38 L553.50 640.00 L553.80 718.21 L553.90 732.30 L554.15 741.92 L554.50 750.98 L554.85 756.60 L555.20 760.66 L555.40 763.00 L555.55 764.84 L555.90 768.83 L556.25 772.39 L556.60 775.55 L556.95 778.31 L557.30 780.70 L557.65 782.74 L557.70 783.00 L558.00 784.47 L558.35 786.01 L558.70 787.37 L559.05 788.59 L559.40 789.71 L559.75 790.77 L560.00 791.50 L560.10 791.79 L560.45 792.86 L560.80 793.92 L561.15 794.93 L561.50 795.81 L561.85 796.50 L562.20 796.93 L562.30 797.00 L562.55 797.13 L562.90 797.30 L563.25 797.44 L563.60 797.55 L563.95 797.64 L564.30 797.69 L564.60 797.70 L564.65 797.70 L565.00 797.44 L565.35 796.80 L565.70 795.80 L566.05 794.47 L566.20 793.80 L566.40 792.10 L566.75 785.58 L567.10 774.97 L567.40 763.00 L567.45 760.33 L567.80 724.47 L568.00 701.50 L568.15 684.15 L568.50 639.98 L568.80 621.90 L568.85 622.56 L569.20 653.57 L569.55 697.03 L569.60 701.50 L569.90 726.58 L570.25 752.15 L570.50 763.00 L570.60 765.44 L570.95 772.30 L571.30 776.82 L571.50 778.50 L571.65 779.48 L572.00 781.42 L572.35 782.97 L572.70 784.23 L573.05 785.33 L573.40 786.39 L573.75 787.52 L573.80 787.70 L574.10 788.86 L574.45 790.35 L574.80 791.79 L575.15 792.96 L575.50 793.68 L575.70 793.80 L575.85 793.73 L576.20 793.06 L576.55 791.85 L576.90 790.26 L577.25 788.48 L577.60 786.69 L577.70 786.20 L577.95 784.97 L578.30 783.13 L578.65 781.12 L579.00 778.88 L579.35 776.37 L579.70 773.53 L580.00 770.80 L580.05 770.30 L580.40 766.02 L580.75 760.65 L581.10 754.68 L581.45 748.56 L581.50 747.70 L581.80 742.38 L582.15 735.78 L582.50 728.90 L582.85 721.90 L583.10 716.90 L583.20 714.75 L583.55 705.62 L583.90 696.91 L584.25 692.38 L584.30 692.30 L584.60 695.31 L584.95 704.01 L585.30 714.27 L585.40 716.90 L585.65 723.82 L586.00 734.63 L586.35 744.43 L586.50 747.70 L586.70 751.43 L587.05 757.44 L587.40 762.81 L587.75 767.53 L588.10 771.58 L588.45 774.97 L588.50 775.40 L588.80 777.89 L589.15 780.62 L589.50 783.12 L589.85 785.31 L590.20 787.13 L590.55 788.51 L590.80 789.20 L590.90 789.42 L591.25 790.15 L591.60 790.81 L591.95 791.38 L592.30 791.84 L592.65 792.15 L593.00 792.29 L593.10 792.30 L593.35 792.05 L593.70 791.00 L594.05 789.44 L594.40 787.70 L594.75 786.10 L595.10 784.96 L595.40 784.60 L595.45 784.64 L595.80 786.49 L596.15 790.12 L596.50 793.91 L596.85 796.05 L596.90 796.12 L597.20 795.52 L597.55 793.80 L597.90 791.50 L598.25 789.43 L598.60 787.48 L598.95 785.63 L599.30 783.96 L599.65 782.82 L600.00 782.45 L600.00 782.45 L600.35 784.62 L600.70 789.33 L601.05 794.30 L601.40 797.01 L601.50 797.12 L601.75 796.80 L602.10 796.12 L602.45 795.43 L602.80 794.54 L603.15 793.56 L603.50 792.64 L603.85 791.87 L604.20 791.03 L604.55 790.34 L604.60 790.28 L604.90 790.13 L605.25 790.51 L605.60 791.27 L605.95 792.21 L606.30 793.25 L606.65 794.24 L607.00 795.06 L607.35 796.30 L607.70 797.12 L607.70 797.12 L608.05 797.49 L608.40 796.94 L608.75 796.24 L609.10 795.49 L609.45 794.81 L609.80 794.07 L610.15 793.37 L610.50 792.77 L610.80 792.29 L610.85 792.21 L611.20 791.30 L611.55 790.06 L611.90 788.72 L612.25 787.62 L612.60 786.67 L612.95 785.87 L613.30 785.24 L613.65 784.90 L613.80 784.87 L614.00 785.10 L614.35 786.42 L614.70 788.54 L615.05 791.08 L615.40 793.91 L615.75 796.26 L616.10 797.44 L616.20 797.37 L616.45 796.77 L616.80 795.09 L617.15 792.93 L617.50 790.74 L617.85 788.72 L618.20 787.62 L618.50 787.66 L618.55 787.74 L618.90 788.84 L619.25 790.08 L619.60 791.57 L619.95 793.31 L620.30 794.95 L620.65 796.38 L621.00 797.40 L621.35 798.63 L621.50 798.90 L621.70 798.76 L622.05 797.09 L622.40 794.46 L622.75 792.60 L622.90 792.37 L623.10 792.50 L623.45 793.28 L623.80 794.56 L624.15 796.14 L624.50 797.78 L624.85 799.17 L625.20 799.87 L625.40 799.87 L625.55 799.72 L625.90 799.10 L626.25 798.24 L626.60 797.20 L626.95 796.02 L627.30 795.26 L627.65 794.63 L628.00 794.17 L628.35 793.52 L628.70 793.22 L628.70 793.22 L629.05 793.58 L629.40 794.75 L629.75 796.40 L630.10 798.19 L630.45 799.72 L630.80 801.06 L631.15 802.23 L631.50 803.06 L631.50 803.06 L631.85 803.49 L632.20 803.96 L632.55 804.44 L632.90 804.90 L633.25 805.01 L633.60 804.98 L633.95 804.91 L634.30 805.13 L634.65 805.37 L635.00 805.58 L635.35 805.51 L635.40 805.50 L635.70 805.36 L636.05 805.09 L636.40 804.92 L636.75 804.60 L637.10 804.02 L637.45 802.98 L637.80 801.84 L638.15 800.76 L638.50 799.83 L638.85 798.82 L639.20 797.70 L639.20 797.70 L639.55 796.10 L639.90 793.82 L640.25 791.06 L640.60 788.00 L640.80 786.20 L640.95 784.57 L641.30 779.41 L641.65 774.14 L642.00 771.00 L642.10 770.80 L642.35 772.74 L642.70 779.85 L643.05 788.20 L643.40 793.46 L643.50 793.80 L643.75 792.95 L644.10 789.75 L644.45 785.80 L644.80 782.86 L645.00 782.30 L645.15 782.68 L645.50 785.80 L645.85 790.39 L646.20 794.40 L646.50 795.80 L646.55 795.78 L646.90 794.45 L647.25 791.75 L647.60 788.59 L647.90 786.20 L647.95 785.85 L648.30 782.94 L648.65 779.94 L649.00 777.88 L649.20 777.50 L649.35 778.05 L649.70 782.63 L650.05 789.58 L650.40 796.15 L650.75 799.54 L650.80 799.60 L651.10 799.08 L651.45 797.45 L651.80 795.20 L652.15 792.83 L652.30 791.90 L652.50 790.50 L652.85 787.43 L653.20 784.42 L653.55 782.52 L653.70 782.30 L653.90 782.78 L654.25 785.42 L654.60 789.39 L654.95 793.53 L655.30 796.67 L655.60 797.70 L655.65 797.69 L656.00 797.25 L656.35 796.36 L656.70 795.29 L657.05 794.30 L657.40 793.37 L657.50 793.22 L657.75 793.20 L658.10 794.47 L658.45 796.81 L658.80 799.52 L659.15 801.15 L659.50 802.62 L659.85 804.33 L660.20 806.24 L660.40 806.93 L660.55 807.28 L660.90 806.50 L661.25 805.24 L661.60 804.22 L661.95 804.15 L662.30 804.02 L662.65 803.00 L663.00 801.69 L663.35 800.50 L663.70 799.49 L664.05 798.73 L664.20 798.49 L664.40 798.83 L664.75 799.76 L665.10 801.00 L665.45 802.17 L665.80 803.42 L666.15 804.42 L666.50 804.99 L666.85 805.27 L667.10 805.46 L667.20 805.51 L667.55 805.63 L667.90 805.53 L668.25 805.01 L668.60 804.45 L668.95 804.63 L669.30 805.11 L669.65 805.36 L670.00 804.16 L670.35 803.02 L670.70 802.93 L671.00 803.57 L671.05 803.68 L671.40 804.54 L671.75 803.77 L672.10 803.09 L672.45 803.15 L672.80 804.12 L673.15 805.11 L673.50 805.09 L673.85 804.87 L674.20 804.75 L674.55 804.98 L674.80 805.08 L674.90 805.09 L675.25 805.38 L675.60 805.65 L675.95 805.75 L676.30 805.56 L676.65 805.26 L677.00 804.20 L677.35 802.58 L677.70 800.89 L677.70 800.89 L678.05 799.10 L678.40 796.24 L678.75 793.44 L679.10 791.82 L679.20 791.75 L679.45 792.39 L679.80 794.88 L680.15 798.37 L680.50 801.84 L680.85 804.23 L681.20 805.01 L681.20 805.01 L681.55 804.35 L681.90 802.85 L682.25 800.87 L682.60 799.17 L682.95 797.57 L683.30 795.84 L683.65 794.46 L683.80 794.19 L684.00 794.32 L684.35 796.00 L684.70 798.69 L685.05 802.00 L685.40 805.25 L685.75 807.19 L685.80 807.32 L686.10 807.63 L686.45 807.98 L686.80 808.04 L687.15 807.42 L687.50 806.79 L687.85 806.28 L688.20 805.82 L688.55 805.47 L688.90 805.87 L689.25 806.27 L689.60 806.88 L689.95 807.66 L690.30 808.44 L690.65 807.58 L691.00 806.73 L691.20 806.25 L691.35 806.29 L691.70 806.39 L692.05 806.50 L692.40 807.22 L692.75 808.04 L693.10 808.41 L693.45 807.64 L693.80 806.88 L694.15 807.37 L694.50 808.36 L694.85 809.10 L695.20 808.38 L695.55 807.66 L695.90 807.48 L696.25 807.72 L696.60 807.94 L696.90 808.16 L696.95 808.20 L697.30 808.45 L697.65 808.32 L698.00 807.70 L698.35 807.06 L698.70 807.64 L699.05 808.41 L699.40 808.81 L699.75 808.31 L700.10 807.80 L700.45 807.87 L700.80 808.17 L701.15 808.39 L701.50 808.24 L701.70 808.15 L701.85 807.98 L702.20 806.48 L702.55 804.07 L702.90 801.52 L703.25 801.00 L703.60 801.15 L703.70 801.37 L703.95 801.95 L704.30 803.21 L704.65 804.98 L705.00 806.13 L705.35 806.67 L705.60 806.47 L705.70 806.58 L706.05 806.66 L706.40 806.39 L706.75 805.24 L707.10 803.72 L707.45 802.35 L707.80 801.88 L708.15 801.68 L708.50 801.77 L708.50 801.77 L708.85 802.25 L709.20 803.06 L709.55 803.36 L709.90 803.77 L710.25 804.47 L710.60 805.43 L710.95 806.17 L711.30 805.98 L711.30 805.98 L711.65 805.42 L712.00 805.14 L712.35 805.76 L712.70 806.27 L713.05 805.82 L713.40 804.92 L713.75 803.94 L714.10 802.77 L714.45 801.90 L714.60 801.50 L714.80 800.78 L715.15 798.67 L715.50 795.55 L715.85 791.51 L716.20 786.62 L716.55 780.96 L716.90 774.60 L716.90 774.60 L717.25 765.18 L717.60 751.35 L717.95 734.72 L718.30 716.90 L718.30 716.90 L718.65 690.33 L719.00 672.70 L719.00 672.70 L719.35 681.93 L719.70 701.41 L720.00 716.90 L720.05 718.94 L720.40 733.96 L720.75 748.55 L721.10 760.38 L721.30 765.00 L721.45 767.66 L721.80 773.32 L722.15 778.20 L722.50 782.33 L722.85 785.70 L723.20 788.46 L723.50 790.33 L723.55 790.59 L723.90 792.31 L724.25 792.99 L724.60 793.48 L724.95 794.24 L725.30 795.46 L725.65 796.54 L725.80 796.75 L726.00 796.88 L726.35 797.09 L726.70 797.55 L727.05 798.62 L727.40 799.65 L727.75 799.62 L728.10 799.12 L728.45 798.67 L728.70 798.95 L728.80 799.00 L729.15 798.57 L729.50 797.32 L729.85 795.73 L730.20 794.39 L730.55 793.66 L730.60 793.64 L730.90 794.61 L731.25 797.25 L731.60 799.76 L731.90 800.54 L731.95 800.50 L732.30 800.77 L732.65 800.69 L733.00 799.64 L733.10 798.70" fill="none" stroke="#000" stroke-width="1.85" stroke-linejoin="round" stroke-linecap="butt"/>
<path d="M63.80 1171.80 L64.15 1171.78 L64.50 1171.72 L64.85 1171.66 L65.20 1171.59 L65.55 1171.53 L65.90 1171.47 L66.25 1171.54 L66.60 1171.67 L66.95 1171.79 L67.30 1171.92 L67.65 1172.05 L68.00 1172.18 L68.35 1172.10 L68.70 1172.02 L69.05 1171.94 L69.40 1171.86 L69.75 1171.78 L70.10 1171.77 L70.45 1171.91 L70.80 1172.05 L71.15 1172.19 L71.50 1172.34 L71.85 1172.48 L72.20 1172.46 L72.55 1172.32 L72.90 1172.17 L73.25 1172.03 L73.60 1171.89 L73.95 1171.75 L74.30 1171.85 L74.65 1172.00 L75.00 1172.15 L75.35 1172.29 L75.70 1172.44 L76.05 1172.56 L76.40 1172.54 L76.75 1172.52 L77.10 1172.50 L77.45 1172.47 L77.80 1172.45 L78.15 1172.46 L78.50 1172.49 L78.85 1172.53 L79.20 1172.57 L79.55 1172.60 L79.90 1172.64 L80.25 1172.67 L80.60 1172.70 L80.95 1172.73 L81.30 1172.76 L81.65 1172.80 L82.00 1172.83 L82.35 1172.71 L82.70 1172.60 L83.05 1172.49 L83.40 1172.38 L83.75 1172.27 L84.10 1172.19 L84.45 1172.22 L84.80 1172.24 L85.15 1172.26 L85.50 1172.28 L85.85 1172.31 L86.20 1172.35 L86.55 1172.42 L86.90 1172.48 L87.25 1172.55 L87.60 1172.61 L87.95 1172.68 L88.30 1172.64 L88.65 1172.57 L89.00 1172.51 L89.35 1172.45 L89.70 1172.39 L90.05 1172.34 L90.40 1172.34 L90.75 1172.35 L91.10 1172.35 L91.45 1172.35 L91.80 1172.35 L92.15 1172.36 L92.50 1172.36 L92.85 1172.35 L93.20 1172.35 L93.55 1172.35 L93.90 1172.35 L94.25 1172.43 L94.60 1172.53 L94.95 1172.64 L95.30 1172.74 L95.65 1172.84 L96.00 1172.95 L96.35 1172.95 L96.70 1172.96 L97.05 1172.97 L97.40 1172.97 L97.75 1172.98 L98.10 1172.98 L98.45 1172.98 L98.80 1172.97 L99.15 1172.96 L99.50 1172.95 L99.85 1172.94 L100.20 1172.89 L100.55 1172.80 L100.90 1172.72 L101.25 1172.63 L101.60 1172.54 L101.95 1172.45 L102.30 1172.54 L102.65 1172.65 L103.00 1172.77 L103.35 1172.88 L103.70 1172.99 L104.05 1173.08 L104.40 1173.02 L104.75 1172.96 L105.10 1172.90 L105.45 1172.83 L105.80 1172.77 L106.15 1172.72 L106.50 1172.68 L106.85 1172.63 L107.20 1172.59 L107.55 1172.55 L107.90 1172.51 L108.25 1172.52 L108.60 1172.56 L108.95 1172.60 L109.30 1172.64 L109.65 1172.67 L110.00 1172.71 L110.35 1172.71 L110.70 1172.70 L111.05 1172.70 L111.40 1172.70 L111.75 1172.69 L112.10 1172.67 L112.45 1172.62 L112.80 1172.57 L113.15 1172.52 L113.50 1172.46 L113.85 1172.41 L114.20 1172.43 L114.55 1172.51 L114.90 1172.59 L115.25 1172.67 L115.60 1172.75 L115.95 1172.82 L116.30 1172.81 L116.65 1172.78 L117.00 1172.75 L117.35 1172.71 L117.70 1172.68 L118.05 1172.66 L118.40 1172.70 L118.75 1172.73 L119.10 1172.76 L119.45 1172.80 L119.80 1172.83 L120.15 1172.87 L120.50 1172.93 L120.85 1172.99 L121.20 1173.05 L121.55 1173.10 L121.90 1173.16 L122.25 1173.15 L122.60 1173.10 L122.95 1173.06 L123.30 1173.01 L123.65 1172.97 L124.00 1172.93 L124.35 1172.89 L124.70 1172.85 L125.05 1172.81 L125.40 1172.78 L125.75 1172.74 L126.10 1172.73 L126.45 1172.80 L126.80 1172.88 L127.15 1172.95 L127.50 1173.02 L127.85 1173.09 L128.20 1173.14 L128.55 1173.16 L128.90 1173.18 L129.25 1173.20 L129.60 1173.22 L129.95 1173.24 L130.30 1173.18 L130.65 1173.10 L131.00 1173.02 L131.35 1172.94 L131.70 1172.86 L132.05 1172.80 L132.40 1172.87 L132.75 1172.94 L133.10 1173.02 L133.45 1173.09 L133.80 1173.16 L134.15 1173.14 L134.50 1172.99 L134.85 1172.85 L135.20 1172.70 L135.55 1172.55 L135.90 1172.41 L136.25 1172.38 L136.60 1172.40 L136.90 1172.42 L136.95 1172.42 L137.30 1172.44 L137.65 1172.46 L138.00 1172.47 L138.35 1172.47 L138.70 1172.48 L139.05 1172.48 L139.40 1172.48 L139.75 1172.48 L140.10 1172.51 L140.45 1172.62 L140.80 1172.74 L141.15 1172.85 L141.50 1172.96 L141.85 1173.07 L142.20 1173.09 L142.55 1173.04 L142.90 1172.99 L143.25 1172.94 L143.60 1172.89 L143.95 1172.84 L144.30 1172.83 L144.65 1172.82 L145.00 1172.81 L145.35 1172.80 L145.70 1172.79 L146.05 1172.77 L146.40 1172.69 L146.75 1172.60 L147.10 1172.52 L147.45 1172.44 L147.80 1172.35 L148.15 1172.31 L148.50 1172.33 L148.85 1172.34 L149.20 1172.36 L149.55 1172.37 L149.90 1172.39 L150.25 1172.43 L150.60 1172.47 L150.95 1172.51 L151.30 1172.56 L151.65 1172.60 L152.00 1172.65 L152.35 1172.50 L152.70 1172.36 L153.05 1172.22 L153.40 1172.08 L153.75 1171.93 L154.10 1171.83 L154.45 1171.81 L154.80 1171.80 L155.15 1171.78 L155.50 1171.77 L155.85 1171.75 L156.20 1171.73 L156.55 1171.70 L156.90 1171.67 L157.25 1171.64 L157.60 1171.62 L157.95 1171.59 L158.30 1171.63 L158.65 1171.68 L159.00 1171.73 L159.35 1171.78 L159.70 1171.83 L160.05 1171.88 L160.40 1171.92 L160.75 1171.97 L161.10 1172.01 L161.45 1172.06 L161.80 1172.10 L162.15 1172.10 L162.50 1172.05 L162.60 1172.03 L162.85 1171.99 L163.20 1171.93 L163.55 1171.88 L163.90 1171.82 L164.25 1171.78 L164.60 1171.74 L164.95 1171.71 L165.30 1171.68 L165.65 1171.64 L166.00 1171.61 L166.35 1171.62 L166.70 1171.62 L167.05 1171.63 L167.40 1171.64 L167.75 1171.65 L168.10 1171.64 L168.45 1171.58 L168.80 1171.52 L169.15 1171.46 L169.50 1171.40 L169.85 1171.35 L170.20 1171.39 L170.55 1171.50 L170.90 1171.62 L171.25 1171.73 L171.60 1171.84 L171.95 1171.96 L172.30 1171.89 L172.65 1171.79 L173.00 1171.69 L173.35 1171.59 L173.70 1171.49 L174.05 1171.40 L174.40 1171.37 L174.75 1171.35 L175.10 1171.32 L175.45 1171.29 L175.80 1171.27 L176.15 1171.25 L176.50 1171.26 L176.85 1171.26 L177.20 1171.26 L177.55 1171.27 L177.90 1171.27 L178.25 1171.32 L178.60 1171.39 L178.95 1171.47 L179.30 1171.54 L179.65 1171.61 L180.00 1171.68 L180.35 1171.59 L180.70 1171.50 L181.05 1171.40 L181.40 1171.31 L181.75 1171.22 L182.10 1171.18 L182.45 1171.25 L182.80 1171.33 L183.15 1171.41 L183.50 1171.49 L183.85 1171.57 L184.20 1171.54 L184.55 1171.43 L184.90 1171.33 L185.25 1171.22 L185.60 1171.11 L185.95 1171.00 L186.30 1170.98 L186.65 1170.98 L187.00 1170.98 L187.35 1170.97 L187.70 1170.97 L188.05 1170.96 L188.20 1170.95 L188.40 1170.94 L188.75 1170.92 L189.10 1170.88 L189.45 1170.83 L189.80 1170.77 L190.15 1170.70 L190.50 1170.61 L190.85 1170.52 L191.20 1170.42 L191.55 1170.31 L191.90 1170.19 L192.25 1170.07 L192.60 1169.94 L192.95 1169.80 L193.30 1169.66 L193.65 1169.51 L194.00 1169.36 L194.35 1169.21 L194.70 1169.05 L195.05 1168.90 L195.40 1168.73 L195.75 1168.57 L195.90 1168.50 L196.10 1168.40 L196.45 1168.21 L196.80 1167.99 L197.15 1167.75 L197.50 1167.50 L197.85 1167.22 L198.20 1166.94 L198.55 1166.63 L198.90 1166.33 L199.25 1166.01 L199.60 1165.69 L199.95 1165.36 L200.30 1165.04 L200.65 1164.72 L201.00 1164.40 L201.35 1164.09 L201.70 1163.79 L202.05 1163.50 L202.30 1163.30 L202.40 1163.22 L202.75 1162.95 L203.10 1162.68 L203.45 1162.41 L203.80 1162.15 L204.15 1161.88 L204.50 1161.62 L204.85 1161.35 L205.20 1161.09 L205.55 1160.83 L205.90 1160.58 L206.25 1160.32 L206.60 1160.07 L206.95 1159.82 L207.30 1159.57 L207.40 1159.50 L207.65 1159.33 L208.00 1159.11 L208.35 1158.91 L208.70 1158.71 L209.05 1158.52 L209.40 1158.32 L209.75 1158.11 L210.10 1157.89 L210.45 1157.64 L210.80 1157.36 L211.15 1157.05 L211.30 1156.90 L211.50 1156.68 L211.85 1156.20 L212.20 1155.63 L212.55 1154.97 L212.90 1154.25 L213.25 1153.48 L213.60 1152.67 L213.95 1151.84 L214.30 1151.02 L214.65 1150.20 L215.00 1149.42 L215.10 1149.20 L215.35 1148.66 L215.70 1147.87 L216.05 1147.07 L216.40 1146.25 L216.75 1145.42 L217.10 1144.59 L217.45 1143.77 L217.80 1142.95 L218.15 1142.15 L218.50 1141.37 L218.85 1140.61 L219.00 1140.30 L219.20 1139.88 L219.55 1139.12 L219.90 1138.35 L220.25 1137.58 L220.60 1136.84 L220.95 1136.15 L221.30 1135.51 L221.65 1134.96 L222.00 1134.51 L222.10 1134.40 L222.35 1134.14 L222.70 1133.78 L223.05 1133.44 L223.40 1133.14 L223.75 1132.89 L224.10 1132.70 L224.45 1132.61 L224.60 1132.60 L224.80 1132.62 L225.15 1132.77 L225.50 1133.04 L225.85 1133.40 L226.20 1133.84 L226.55 1134.34 L226.90 1134.87 L227.25 1135.42 L227.60 1135.96 L227.90 1136.40 L227.95 1136.47 L228.30 1137.04 L228.65 1137.70 L229.00 1138.42 L229.35 1139.17 L229.70 1139.93 L230.05 1140.68 L230.40 1141.38 L230.75 1142.01 L231.10 1142.55 L231.30 1142.80 L231.45 1142.97 L231.80 1143.39 L232.15 1143.80 L232.50 1144.19 L232.85 1144.55 L233.20 1144.86 L233.55 1145.12 L233.90 1145.30 L234.25 1145.39 L234.40 1145.40 L234.60 1145.36 L234.95 1145.15 L235.30 1144.75 L235.65 1144.21 L236.00 1143.55 L236.35 1142.80 L236.70 1141.99 L237.05 1141.15 L237.40 1140.30 L237.40 1140.30 L237.75 1139.28 L238.10 1137.96 L238.45 1136.42 L238.80 1134.78 L239.15 1133.11 L239.50 1131.53 L239.85 1130.11 L240.20 1128.97 L240.30 1128.70 L240.55 1128.07 L240.90 1127.17 L241.25 1126.30 L241.60 1125.51 L241.95 1124.86 L242.30 1124.38 L242.65 1124.13 L242.80 1124.10 L243.00 1124.16 L243.35 1124.52 L243.70 1125.13 L244.05 1125.93 L244.40 1126.83 L244.75 1127.76 L245.10 1128.65 L245.45 1129.41 L245.50 1129.50 L245.80 1130.08 L246.15 1130.81 L246.50 1131.56 L246.85 1132.31 L247.20 1133.00 L247.55 1133.62 L247.90 1134.11 L248.25 1134.46 L248.50 1134.60 L248.60 1134.63 L248.95 1134.74 L249.30 1134.82 L249.65 1134.90 L250.00 1134.96 L250.35 1135.01 L250.70 1135.06 L251.05 1135.10 L251.40 1135.15 L251.75 1135.20 L252.10 1135.26 L252.30 1135.30 L252.45 1135.33 L252.80 1135.40 L253.15 1135.46 L253.50 1135.53 L253.85 1135.61 L254.20 1135.71 L254.50 1135.80 L254.55 1135.82 L254.90 1135.98 L255.25 1136.20 L255.60 1136.47 L255.95 1136.76 L256.30 1137.07 L256.65 1137.39 L257.00 1137.69 L257.35 1137.97 L257.70 1138.20 L257.70 1138.20 L258.05 1138.42 L258.40 1138.65 L258.75 1138.89 L259.10 1139.12 L259.45 1139.33 L259.80 1139.51 L260.15 1139.66 L260.50 1139.76 L260.85 1139.80 L260.90 1139.80 L261.20 1139.80 L261.55 1139.79 L261.90 1139.78 L262.25 1139.76 L262.60 1139.74 L262.95 1139.71 L263.30 1139.68 L263.65 1139.64 L264.00 1139.59 L264.35 1139.53 L264.70 1139.47 L265.05 1139.40 L265.40 1139.33 L265.75 1139.24 L266.10 1139.15 L266.45 1139.05 L266.60 1139.00 L266.80 1138.86 L267.15 1138.28 L267.50 1137.30 L267.85 1136.00 L268.20 1134.42 L268.55 1132.62 L268.70 1131.80 L268.90 1130.31 L269.25 1126.23 L269.60 1121.04 L269.95 1115.60 L270.30 1110.80 L270.30 1110.80 L270.65 1106.14 L271.00 1101.03 L271.35 1096.18 L271.70 1092.32 L272.05 1090.14 L272.20 1089.90 L272.40 1090.56 L272.75 1094.08 L273.10 1098.98 L273.45 1103.32 L273.80 1105.20 L273.80 1105.20 L274.15 1103.20 L274.50 1098.17 L274.85 1091.53 L275.10 1086.60 L275.20 1084.55 L275.55 1075.58 L275.90 1064.65 L276.25 1052.89 L276.60 1041.38 L276.70 1038.30 L276.95 1031.19 L277.30 1022.04 L277.65 1012.64 L278.00 1001.66 L278.30 990.00 L278.35 987.64 L278.70 961.91 L279.05 925.60 L279.40 886.43 L279.75 852.12 L280.10 830.39 L280.30 826.60 L280.45 835.20 L280.80 899.60 L281.15 972.53 L281.30 990.00 L281.50 1002.36 L281.85 1018.22 L282.20 1030.30 L282.20 1030.30 L282.55 1041.03 L282.90 1050.35 L283.25 1058.64 L283.60 1066.28 L283.80 1070.50 L283.95 1073.67 L284.30 1081.07 L284.65 1088.16 L285.00 1094.56 L285.35 1099.88 L285.60 1102.80 L285.70 1103.80 L286.05 1107.28 L286.40 1110.40 L286.75 1112.75 L287.10 1113.93 L287.20 1114.00 L287.45 1113.80 L287.80 1112.92 L288.15 1111.48 L288.50 1109.64 L288.85 1107.55 L289.10 1106.00 L289.20 1105.35 L289.55 1102.67 L289.90 1099.30 L290.25 1095.21 L290.60 1090.37 L290.95 1084.73 L291.20 1080.20 L291.30 1078.11 L291.65 1068.21 L292.00 1055.24 L292.35 1040.48 L292.40 1038.30 L292.70 1019.50 L293.05 993.66 L293.40 981.00 L293.40 981.00 L293.75 986.46 L294.10 998.72 L294.40 1010.00 L294.45 1011.74 L294.80 1025.38 L295.10 1038.30 L295.15 1040.53 L295.50 1057.60 L295.85 1075.23 L296.10 1086.60 L296.20 1090.83 L296.55 1105.83 L296.90 1119.04 L297.20 1126.90 L297.25 1127.83 L297.60 1133.67 L297.95 1138.44 L298.30 1142.26 L298.65 1145.25 L298.80 1146.30 L299.00 1147.58 L299.35 1149.62 L299.70 1151.42 L300.05 1152.99 L300.40 1154.35 L300.75 1155.50 L301.10 1156.46 L301.20 1156.70 L301.45 1157.26 L301.80 1157.97 L302.15 1158.61 L302.50 1159.18 L302.85 1159.71 L303.20 1160.18 L303.55 1160.63 L303.90 1161.04 L304.25 1161.43 L304.40 1161.60 L304.60 1161.82 L304.95 1162.20 L305.30 1162.57 L305.65 1162.94 L306.00 1163.29 L306.35 1163.64 L306.70 1163.98 L307.05 1164.30 L307.40 1164.62 L307.75 1164.92 L308.10 1165.21 L308.45 1165.48 L308.80 1165.74 L309.15 1165.98 L309.50 1166.20 L309.85 1166.40 L310.20 1166.59 L310.55 1166.76 L310.90 1166.90 L310.90 1166.90 L311.25 1167.03 L311.60 1167.15 L311.95 1167.25 L312.30 1167.35 L312.65 1167.45 L313.00 1167.53 L313.35 1167.61 L313.70 1167.69 L314.05 1167.77 L314.40 1167.84 L314.75 1167.91 L315.10 1167.98 L315.45 1168.05 L315.80 1168.13 L316.15 1168.21 L316.50 1168.29 L316.85 1168.38 L317.20 1168.47 L317.30 1168.50 L317.55 1168.57 L317.90 1168.69 L318.25 1168.81 L318.60 1168.93 L318.95 1169.07 L319.30 1169.20 L319.65 1169.34 L320.00 1169.48 L320.35 1169.62 L320.70 1169.76 L321.05 1169.89 L321.40 1170.02 L321.75 1170.15 L322.10 1170.27 L322.45 1170.38 L322.80 1170.48 L323.15 1170.57 L323.50 1170.64 L323.80 1170.70 L323.85 1170.71 L324.20 1170.77 L324.55 1170.82 L324.90 1170.88 L325.25 1170.93 L325.60 1170.98 L325.95 1171.03 L326.30 1171.08 L326.65 1171.12 L327.00 1171.17 L327.35 1171.21 L327.70 1171.26 L328.05 1171.30 L328.40 1171.34 L328.75 1171.38 L329.10 1171.42 L329.45 1171.45 L329.80 1171.49 L330.15 1171.52 L330.50 1171.56 L330.85 1171.59 L331.20 1171.62 L331.55 1171.65 L331.90 1171.68 L332.25 1171.71 L332.60 1171.74 L332.95 1171.77 L333.30 1171.79 L333.65 1171.82 L334.00 1171.84 L334.35 1171.87 L334.70 1171.89 L335.05 1171.91 L335.40 1171.93 L335.75 1171.95 L336.10 1171.97 L336.45 1171.99 L336.60 1172.00 L336.80 1172.01 L337.15 1172.03 L337.50 1172.05 L337.85 1172.07 L338.20 1172.08 L338.55 1172.10 L338.90 1172.12 L339.25 1172.14 L339.60 1172.16 L339.95 1172.17 L340.30 1172.21 L340.65 1172.25 L341.00 1172.28 L341.35 1172.32 L341.70 1172.36 L342.05 1172.40 L342.40 1172.43 L342.75 1172.47 L343.10 1172.49 L343.45 1172.49 L343.80 1172.48 L344.15 1172.47 L344.50 1172.47 L344.85 1172.46 L345.20 1172.45 L345.55 1172.44 L345.90 1172.43 L346.25 1172.42 L346.60 1172.41 L346.95 1172.40 L347.30 1172.39 L347.65 1172.38 L348.00 1172.37 L348.35 1172.35 L348.70 1172.34 L349.05 1172.34 L349.40 1172.37 L349.75 1172.41 L350.10 1172.45 L350.45 1172.49 L350.80 1172.52 L351.15 1172.56 L351.50 1172.60 L351.85 1172.63 L352.20 1172.65 L352.55 1172.65 L352.90 1172.65 L353.25 1172.65 L353.60 1172.66 L353.95 1172.66 L354.30 1172.66 L354.65 1172.65 L355.00 1172.65 L355.35 1172.69 L355.70 1172.73 L356.05 1172.77 L356.40 1172.81 L356.75 1172.85 L357.10 1172.89 L357.45 1172.93 L357.80 1172.96 L358.15 1172.99 L358.50 1173.00 L358.85 1173.01 L359.20 1173.02 L359.55 1173.03 L359.90 1173.04 L360.00 1173.04 L360.25 1173.05 L360.60 1173.05 L360.95 1173.06 L361.30 1173.06 L361.65 1173.04 L362.00 1173.03 L362.35 1173.02 L362.70 1173.01 L363.05 1173.00 L363.40 1172.99 L363.75 1172.98 L364.10 1172.97 L364.45 1172.94 L364.80 1172.91 L365.15 1172.88 L365.50 1172.85 L365.85 1172.82 L366.20 1172.79 L366.55 1172.76 L366.90 1172.73 L367.25 1172.71 L367.60 1172.70 L367.95 1172.68 L368.30 1172.67 L368.65 1172.65 L369.00 1172.64 L369.35 1172.62 L369.70 1172.61 L370.05 1172.60 L370.40 1172.67 L370.75 1172.73 L371.10 1172.79 L371.45 1172.85 L371.80 1172.91 L372.15 1172.98 L372.50 1173.04 L372.85 1173.10 L373.20 1173.13 L373.55 1173.14 L373.90 1173.14 L374.25 1173.15 L374.60 1173.15 L374.95 1173.16 L375.30 1173.16 L375.65 1173.17 L376.00 1173.18 L376.35 1173.12 L376.70 1173.07 L377.05 1173.02 L377.40 1172.96 L377.75 1172.91 L378.10 1172.86 L378.45 1172.81 L378.80 1172.75 L379.15 1172.73 L379.50 1172.76 L379.85 1172.79 L380.20 1172.81 L380.55 1172.84 L380.90 1172.86 L381.25 1172.89 L381.60 1172.92 L381.95 1172.94 L382.30 1172.95 L382.65 1172.95 L383.00 1172.95 L383.35 1172.95 L383.70 1172.95 L384.05 1172.95 L384.40 1172.95 L384.75 1172.95 L385.10 1172.96 L385.45 1173.00 L385.80 1173.04 L386.15 1173.07 L386.50 1173.11 L386.85 1173.15 L387.20 1173.18 L387.55 1173.22 L387.90 1173.26 L388.25 1173.22 L388.60 1173.16 L388.95 1173.09 L389.30 1173.03 L389.65 1172.97 L390.00 1172.90 L390.35 1172.84 L390.70 1172.78 L391.05 1172.72 L391.40 1172.73 L391.75 1172.73 L392.10 1172.73 L392.45 1172.74 L392.80 1172.74 L393.15 1172.74 L393.50 1172.75 L393.85 1172.75 L394.20 1172.78 L394.55 1172.84 L394.90 1172.90 L395.25 1172.95 L395.60 1173.01 L395.95 1173.07 L396.30 1173.12 L396.65 1173.18 L397.00 1173.23 L397.35 1173.22 L397.70 1173.20 L398.05 1173.18 L398.40 1173.17 L398.75 1173.15 L399.10 1173.13 L399.45 1173.11 L399.80 1173.10 L400.15 1173.08 L400.50 1173.08 L400.85 1173.07 L401.20 1173.07 L401.55 1173.06 L401.90 1173.05 L402.25 1173.05 L402.60 1173.04 L402.95 1173.04 L403.30 1173.06 L403.65 1173.08 L404.00 1173.10 L404.35 1173.13 L404.70 1173.15 L405.05 1173.17 L405.40 1173.20 L405.75 1173.22 L406.10 1173.24 L406.45 1173.22 L406.80 1173.21 L407.15 1173.20 L407.50 1173.19 L407.85 1173.18 L408.20 1173.17 L408.55 1173.16 L408.90 1173.14 L409.25 1173.15 L409.60 1173.16 L409.95 1173.16 L410.30 1173.17 L410.65 1173.18 L411.00 1173.19 L411.35 1173.20 L411.70 1173.21 L412.05 1173.21 L412.40 1173.18 L412.75 1173.15 L413.10 1173.12 L413.45 1173.09 L413.80 1173.06 L414.15 1173.04 L414.50 1173.01 L414.85 1172.98 L415.20 1172.96 L415.55 1172.95 L415.90 1172.94 L416.25 1172.93 L416.60 1172.92 L416.95 1172.91 L417.30 1172.90 L417.65 1172.88 L418.00 1172.87 L418.35 1172.87 L418.70 1172.87 L419.05 1172.86 L419.40 1172.86 L419.75 1172.85 L420.10 1172.85 L420.45 1172.85 L420.80 1172.84 L421.15 1172.85 L421.50 1172.87 L421.85 1172.90 L422.20 1172.92 L422.55 1172.95 L422.90 1172.97 L423.25 1172.99 L423.60 1173.02 L423.95 1173.04 L424.30 1173.07 L424.65 1173.09 L425.00 1173.11 L425.35 1173.14 L425.70 1173.16 L426.05 1173.18 L426.40 1173.21 L426.75 1173.23 L427.10 1173.24 L427.45 1173.22 L427.80 1173.21 L428.15 1173.19 L428.50 1173.17 L428.85 1173.15 L429.20 1173.14 L429.55 1173.12 L429.90 1173.10 L430.25 1173.09 L430.60 1173.09 L430.95 1173.09 L431.30 1173.09 L431.65 1173.09 L432.00 1173.09 L432.35 1173.09 L432.70 1173.09 L433.05 1173.09 L433.40 1173.11 L433.75 1173.13 L434.10 1173.15 L434.45 1173.17 L434.80 1173.19 L435.15 1173.21 L435.50 1173.23 L435.85 1173.25 L436.20 1173.26 L436.55 1173.27 L436.90 1173.28 L437.25 1173.28 L437.60 1173.29 L437.95 1173.30 L438.30 1173.30 L438.65 1173.31 L439.00 1173.32 L439.35 1173.31 L439.70 1173.31 L440.05 1173.30 L440.40 1173.29 L440.75 1173.29 L441.10 1173.28 L441.45 1173.27 L441.80 1173.27 L442.15 1173.25 L442.50 1173.23 L442.85 1173.22 L443.20 1173.20 L443.55 1173.18 L443.90 1173.16 L444.25 1173.14 L444.60 1173.12 L444.95 1173.10 L445.30 1173.13 L445.65 1173.17 L446.00 1173.20 L446.35 1173.24 L446.70 1173.28 L447.05 1173.31 L447.40 1173.35 L447.75 1173.39 L448.10 1173.41 L448.45 1173.41 L448.80 1173.41 L449.15 1173.41 L449.50 1173.41 L449.85 1173.41 L450.20 1173.41 L450.55 1173.41 L450.90 1173.41 L451.25 1173.41 L451.60 1173.42 L451.95 1173.43 L452.30 1173.43 L452.65 1173.44 L453.00 1173.45 L453.35 1173.46 L453.70 1173.46 L454.05 1173.47 L454.40 1173.47 L454.75 1173.47 L455.10 1173.47 L455.45 1173.47 L455.80 1173.47 L456.15 1173.47 L456.50 1173.48 L456.85 1173.48 L457.20 1173.44 L457.55 1173.38 L457.90 1173.32 L458.25 1173.26 L458.60 1173.20 L458.95 1173.14 L459.30 1173.08 L459.65 1173.02 L460.00 1172.96 L460.35 1173.00 L460.70 1173.05 L461.05 1173.10 L461.40 1173.14 L461.75 1173.19 L462.10 1173.23 L462.45 1173.28 L462.80 1173.33 L463.15 1173.34 L463.50 1173.32 L463.85 1173.30 L464.20 1173.28 L464.55 1173.26 L464.90 1173.24 L465.25 1173.21 L465.60 1173.19 L465.95 1173.17 L466.30 1173.17 L466.65 1173.17 L467.00 1173.18 L467.35 1173.18 L467.70 1173.18 L468.05 1173.19 L468.40 1173.19 L468.75 1173.19 L469.10 1173.20 L469.45 1173.21 L469.80 1173.22 L470.15 1173.23 L470.50 1173.24 L470.85 1173.25 L471.20 1173.26 L471.55 1173.27 L471.90 1173.28 L472.25 1173.26 L472.60 1173.23 L472.95 1173.21 L473.30 1173.18 L473.65 1173.16 L474.00 1173.13 L474.35 1173.11 L474.70 1173.08 L475.05 1173.06 L475.40 1173.07 L475.75 1173.08 L476.10 1173.08 L476.45 1173.09 L476.80 1173.10 L477.15 1173.11 L477.50 1173.11 L477.85 1173.12 L478.20 1173.16 L478.55 1173.21 L478.90 1173.26 L479.25 1173.31 L479.60 1173.36 L479.95 1173.42 L480.30 1173.47 L480.65 1173.52 L481.00 1173.57 L481.35 1173.53 L481.70 1173.48 L482.05 1173.44 L482.40 1173.39 L482.75 1173.34 L483.10 1173.30 L483.45 1173.25 L483.80 1173.21 L484.15 1173.20 L484.50 1173.24 L484.85 1173.28 L485.20 1173.32 L485.55 1173.36 L485.90 1173.40 L486.25 1173.45 L486.60 1173.49 L486.95 1173.53 L487.30 1173.52 L487.65 1173.50 L488.00 1173.49 L488.35 1173.47 L488.70 1173.46 L489.05 1173.44 L489.40 1173.43 L489.75 1173.41 L490.10 1173.39 L490.45 1173.37 L490.80 1173.34 L491.15 1173.32 L491.50 1173.29 L491.85 1173.26 L492.20 1173.24 L492.55 1173.21 L492.90 1173.19 L493.25 1173.18 L493.60 1173.18 L493.95 1173.18 L494.30 1173.18 L494.65 1173.18 L495.00 1173.18 L495.35 1173.18 L495.70 1173.18 L496.05 1173.19 L496.40 1173.21 L496.75 1173.23 L497.10 1173.25 L497.45 1173.27 L497.80 1173.29 L498.15 1173.31 L498.50 1173.33 L498.85 1173.35 L499.20 1173.36 L499.55 1173.37 L499.90 1173.38 L500.25 1173.38 L500.60 1173.39 L500.95 1173.40 L501.30 1173.40 L501.65 1173.41 L502.00 1173.42 L502.35 1173.39 L502.70 1173.37 L503.05 1173.34 L503.40 1173.32 L503.75 1173.29 L504.10 1173.27 L504.45 1173.24 L504.80 1173.22 L505.15 1173.19 L505.50 1173.17 L505.85 1173.15 L506.20 1173.13 L506.55 1173.12 L506.90 1173.10 L507.25 1173.08 L507.60 1173.06 L507.95 1173.04 L508.30 1173.04 L508.65 1173.05 L509.00 1173.06 L509.35 1173.07 L509.70 1173.07 L510.05 1173.08 L510.40 1173.09 L510.75 1173.10 L511.10 1173.12 L511.45 1173.16 L511.80 1173.21 L512.15 1173.26 L512.50 1173.31 L512.85 1173.36 L513.20 1173.41 L513.55 1173.45 L513.90 1173.50 L514.25 1173.50 L514.60 1173.47 L514.95 1173.45 L515.30 1173.42 L515.65 1173.40 L516.00 1173.37 L516.35 1173.30 L516.70 1173.30 L516.90 1173.30 L517.05 1173.30 L517.40 1173.29 L517.75 1173.27 L518.10 1173.23 L518.45 1173.19 L518.80 1173.13 L519.15 1173.07 L519.50 1172.99 L519.85 1172.90 L520.20 1172.81 L520.55 1172.70 L520.90 1172.58 L521.25 1172.46 L521.60 1172.32 L521.95 1172.18 L522.30 1172.03 L522.65 1171.87 L523.00 1171.70 L523.35 1171.53 L523.70 1171.34 L524.05 1171.15 L524.40 1170.96 L524.75 1170.75 L525.00 1170.60 L525.10 1170.53 L525.45 1170.24 L525.80 1169.86 L526.15 1169.39 L526.50 1168.84 L526.85 1168.22 L527.20 1167.55 L527.55 1166.82 L527.90 1166.05 L528.25 1165.25 L528.60 1164.42 L528.95 1163.57 L529.10 1163.20 L529.30 1162.70 L529.65 1161.79 L530.00 1160.79 L530.35 1159.70 L530.70 1158.47 L531.05 1157.08 L531.40 1155.51 L531.70 1154.00 L531.75 1153.73 L532.10 1151.58 L532.45 1148.94 L532.80 1145.73 L533.15 1141.88 L533.50 1137.34 L533.70 1134.40 L533.85 1131.62 L534.20 1122.16 L534.55 1110.34 L534.90 1098.42 L535.00 1095.30 L535.25 1087.20 L535.60 1075.05 L535.95 1063.94 L536.30 1056.10 L536.30 1056.10 L536.65 1050.74 L537.00 1046.13 L537.35 1043.12 L537.60 1042.40 L537.70 1042.46 L538.05 1043.47 L538.40 1045.51 L538.75 1048.27 L538.90 1049.60 L539.10 1052.49 L539.45 1061.33 L539.80 1072.04 L540.15 1081.22 L540.20 1082.20 L540.50 1087.66 L540.85 1093.64 L541.20 1099.11 L541.55 1103.95 L541.90 1108.06 L542.20 1110.90 L542.25 1111.32 L542.60 1114.27 L542.95 1117.08 L543.30 1119.54 L543.65 1121.43 L544.00 1122.52 L544.20 1122.70 L544.35 1122.66 L544.70 1122.32 L545.05 1121.64 L545.40 1120.68 L545.75 1119.47 L546.10 1118.08 L546.45 1116.54 L546.80 1114.90 L546.80 1114.90 L547.15 1112.81 L547.50 1109.94 L547.85 1106.37 L548.20 1102.18 L548.55 1097.46 L548.70 1095.30 L548.90 1091.92 L549.25 1084.25 L549.60 1075.13 L549.95 1065.44 L550.30 1056.10 L550.30 1056.10 L550.65 1047.55 L551.00 1038.75 L551.30 1030.00 L551.35 1028.30 L551.70 1012.20 L552.05 991.88 L552.40 971.82 L552.75 956.50 L553.10 950.40 L553.10 950.40 L553.45 958.01 L553.80 976.86 L554.15 1000.95 L554.50 1024.30 L554.60 1030.00 L554.85 1044.74 L555.20 1062.60 L555.20 1062.60 L555.55 1073.35 L555.90 1081.92 L556.25 1089.00 L556.60 1095.30 L556.60 1095.30 L556.95 1101.32 L557.30 1106.98 L557.65 1112.12 L558.00 1116.57 L558.35 1120.17 L558.50 1121.40 L558.70 1122.87 L559.05 1125.19 L559.40 1127.23 L559.75 1128.98 L560.10 1130.45 L560.45 1131.65 L560.50 1131.80 L560.80 1132.68 L561.15 1133.68 L561.50 1134.56 L561.85 1135.24 L562.20 1135.63 L562.40 1135.70 L562.55 1135.69 L562.90 1135.59 L563.25 1135.39 L563.60 1135.10 L563.95 1134.72 L564.30 1134.25 L564.65 1133.71 L565.00 1133.10 L565.00 1133.10 L565.35 1132.12 L565.70 1130.45 L566.05 1128.03 L566.40 1124.82 L566.70 1121.40 L566.75 1120.64 L567.10 1109.42 L567.45 1093.03 L567.70 1082.20 L567.80 1078.11 L568.15 1061.67 L568.50 1050.35 L568.60 1049.60 L568.85 1056.88 L569.20 1077.54 L569.30 1082.20 L569.55 1092.16 L569.90 1105.23 L570.25 1114.16 L570.30 1114.90 L570.60 1118.52 L570.95 1122.01 L571.30 1124.79 L571.65 1126.93 L572.00 1128.52 L572.20 1129.20 L572.35 1129.65 L572.70 1130.64 L573.05 1131.39 L573.40 1131.78 L573.50 1131.80 L573.75 1131.75 L574.10 1131.55 L574.45 1131.21 L574.80 1130.75 L575.15 1130.22 L575.50 1129.64 L575.85 1129.03 L576.10 1128.60 L576.20 1128.42 L576.55 1127.74 L576.90 1126.95 L577.25 1126.05 L577.60 1125.06 L577.95 1123.98 L578.30 1122.82 L578.65 1121.58 L578.70 1121.40 L579.00 1120.30 L579.35 1118.97 L579.70 1117.45 L580.05 1115.61 L580.40 1113.32 L580.70 1110.90 L580.75 1110.41 L581.10 1104.89 L581.45 1096.74 L581.80 1087.44 L582.00 1082.20 L582.15 1078.48 L582.50 1069.97 L582.85 1060.24 L583.20 1047.53 L583.30 1043.10 L583.55 1021.89 L583.90 980.45 L584.20 962.70 L584.25 962.97 L584.60 977.06 L584.95 1003.58 L585.30 1030.00 L585.30 1030.00 L585.65 1054.64 L585.90 1069.20 L586.00 1073.39 L586.35 1086.22 L586.70 1096.61 L587.05 1105.11 L587.20 1108.30 L587.40 1112.32 L587.75 1118.90 L588.10 1124.83 L588.45 1130.03 L588.80 1134.44 L589.15 1137.97 L589.20 1138.40 L589.50 1140.93 L589.85 1143.77 L590.20 1146.27 L590.55 1148.20 L590.90 1149.31 L591.10 1149.50 L591.25 1149.49 L591.60 1149.38 L591.95 1149.18 L592.30 1148.90 L592.65 1148.57 L593.00 1148.21 L593.10 1148.10 L593.35 1147.71 L593.70 1146.83 L594.05 1145.72 L594.40 1144.55 L594.75 1143.47 L595.10 1142.67 L595.45 1142.31 L595.50 1142.30 L595.80 1142.77 L596.15 1144.20 L596.50 1146.00 L596.85 1147.61 L597.00 1148.10 L597.20 1148.63 L597.55 1149.50 L597.90 1150.29 L598.25 1150.98 L598.60 1151.58 L598.95 1152.04 L599.00 1152.10 L599.30 1152.39 L599.65 1152.67 L600.00 1152.89 L600.35 1153.09 L600.70 1153.29 L601.05 1153.52 L601.40 1153.80 L601.60 1154.00 L601.75 1154.18 L602.10 1154.76 L602.45 1155.48 L602.80 1156.26 L603.15 1157.02 L603.50 1157.68 L603.80 1158.10 L603.85 1158.16 L604.20 1158.54 L604.55 1158.92 L604.90 1159.29 L605.25 1159.64 L605.60 1159.96 L605.95 1160.25 L606.30 1160.50 L606.65 1160.71 L607.00 1160.87 L607.35 1160.97 L607.70 1161.00 L607.70 1161.00 L608.05 1160.84 L608.40 1160.43 L608.75 1159.84 L609.10 1159.15 L609.45 1158.45 L609.80 1157.83 L610.15 1157.35 L610.50 1157.11 L610.60 1157.10 L610.85 1157.13 L611.20 1157.25 L611.55 1157.42 L611.90 1157.63 L612.25 1157.83 L612.60 1158.00 L612.95 1158.09 L613.10 1158.10 L613.30 1157.62 L613.65 1154.98 L614.00 1151.01 L614.35 1146.87 L614.70 1143.73 L615.00 1142.70 L615.05 1142.73 L615.40 1144.24 L615.75 1147.35 L616.10 1151.04 L616.45 1154.29 L616.80 1156.09 L616.90 1156.20 L617.15 1155.71 L617.50 1153.65 L617.85 1150.46 L618.20 1146.66 L618.55 1142.79 L618.90 1139.37 L619.25 1136.93 L619.60 1136.00 L619.60 1136.00 L619.95 1137.08 L620.30 1139.86 L620.65 1143.70 L621.00 1147.91 L621.35 1151.84 L621.70 1154.81 L622.05 1156.18 L622.10 1156.20 L622.40 1155.32 L622.75 1152.48 L623.10 1148.39 L623.45 1143.77 L623.80 1139.36 L624.15 1135.90 L624.50 1134.10 L624.60 1134.00 L624.85 1134.51 L625.20 1136.66 L625.55 1139.94 L625.90 1143.76 L626.25 1147.52 L626.60 1150.62 L626.90 1152.30 L626.95 1152.48 L627.30 1153.70 L627.65 1154.81 L628.00 1155.84 L628.35 1156.77 L628.70 1157.61 L629.05 1158.36 L629.40 1159.04 L629.75 1159.64 L630.10 1160.16 L630.45 1160.61 L630.80 1161.00 L630.80 1161.00 L631.15 1161.35 L631.50 1161.70 L631.85 1162.02 L632.20 1162.33 L632.55 1162.62 L632.90 1162.87 L633.25 1163.09 L633.60 1163.27 L633.95 1163.40 L634.30 1163.48 L634.60 1163.50 L634.65 1163.50 L635.00 1163.47 L635.35 1163.38 L635.70 1163.25 L636.05 1163.08 L636.40 1162.86 L636.75 1162.62 L637.10 1162.34 L637.45 1162.03 L637.80 1161.71 L638.15 1161.36 L638.50 1161.00 L638.50 1161.00 L638.85 1160.59 L639.20 1160.07 L639.55 1159.44 L639.90 1158.69 L640.25 1157.80 L640.60 1156.76 L640.95 1155.56 L641.30 1154.20 L641.30 1154.20 L641.65 1151.95 L642.00 1148.53 L642.35 1144.60 L642.70 1140.80 L642.70 1140.80 L643.05 1136.39 L643.40 1131.76 L643.75 1129.25 L643.80 1129.20 L644.10 1129.61 L644.45 1130.89 L644.80 1132.60 L645.15 1134.31 L645.50 1135.59 L645.80 1136.00 L645.85 1135.99 L646.20 1135.39 L646.55 1133.96 L646.90 1131.87 L647.25 1129.26 L647.60 1126.29 L647.70 1125.40 L647.95 1121.61 L648.30 1112.43 L648.65 1101.16 L649.00 1090.47 L649.35 1083.04 L649.60 1081.20 L649.70 1081.79 L650.05 1091.23 L650.40 1106.54 L650.75 1120.41 L651.00 1125.40 L651.10 1126.10 L651.45 1127.99 L651.80 1129.24 L652.15 1130.22 L652.50 1131.30 L652.85 1132.82 L652.90 1133.10 L653.20 1135.53 L653.55 1139.64 L653.90 1144.20 L654.25 1148.25 L654.60 1150.84 L654.80 1151.30 L654.95 1151.30 L655.30 1151.26 L655.65 1151.19 L656.00 1151.08 L656.35 1150.94 L656.70 1150.77 L657.05 1150.56 L657.30 1150.40 L657.40 1150.30 L657.75 1149.45 L658.10 1148.04 L658.45 1146.31 L658.80 1144.52 L659.15 1142.90 L659.20 1142.70 L659.50 1141.38 L659.85 1139.62 L660.20 1137.86 L660.55 1136.35 L660.90 1135.32 L661.20 1135.00 L661.25 1135.01 L661.60 1135.64 L661.95 1136.99 L662.30 1138.77 L662.65 1140.64 L663.00 1142.31 L663.10 1142.70 L663.35 1143.58 L663.70 1144.72 L664.05 1145.79 L664.40 1146.86 L664.75 1147.98 L665.10 1149.21 L665.40 1150.40 L665.45 1150.62 L665.80 1152.66 L666.15 1155.21 L666.50 1157.77 L666.85 1159.84 L667.20 1160.94 L667.30 1161.00 L667.55 1160.68 L667.90 1159.39 L668.25 1157.60 L668.60 1155.81 L668.95 1154.52 L669.20 1154.20 L669.30 1154.25 L669.65 1155.03 L670.00 1156.54 L670.35 1158.47 L670.70 1160.50 L671.05 1162.31 L671.40 1163.58 L671.50 1163.80 L671.75 1164.25 L672.10 1164.86 L672.45 1165.41 L672.80 1165.89 L673.15 1166.27 L673.50 1166.54 L673.85 1166.69 L674.00 1166.70 L674.20 1166.46 L674.55 1165.11 L674.90 1163.04 L675.25 1160.82 L675.60 1158.99 L675.95 1158.12 L676.00 1158.10 L676.30 1158.48 L676.65 1159.71 L677.00 1161.48 L677.35 1163.47 L677.70 1165.38 L678.05 1166.88 L678.40 1167.66 L678.50 1167.70 L678.75 1166.92 L679.10 1163.76 L679.45 1159.16 L679.80 1154.20 L679.80 1154.20 L680.15 1146.77 L680.50 1138.29 L680.80 1135.00 L680.85 1135.11 L681.20 1140.76 L681.55 1150.05 L681.90 1156.20 L681.90 1156.20 L682.25 1158.36 L682.60 1160.18 L682.95 1161.58 L683.30 1162.51 L683.65 1162.89 L683.70 1162.90 L684.00 1162.77 L684.35 1162.39 L684.70 1161.88 L685.05 1161.39 L685.40 1161.06 L685.60 1161.00 L685.75 1161.08 L686.10 1161.80 L686.45 1163.07 L686.80 1164.62 L687.15 1166.21 L687.50 1167.58 L687.85 1168.48 L688.10 1168.70 L688.20 1168.70 L688.55 1168.70 L688.90 1168.70 L689.25 1168.70 L689.60 1168.70 L689.95 1168.70 L690.30 1168.70 L690.65 1168.70 L691.00 1168.70 L691.35 1168.70 L691.70 1168.70 L692.05 1168.70 L692.30 1168.70 L692.40 1168.65 L692.75 1167.88 L693.10 1166.48 L693.45 1164.90 L693.80 1163.56 L694.15 1162.91 L694.20 1162.90 L694.50 1163.31 L694.85 1164.56 L695.20 1166.25 L695.55 1167.94 L695.90 1169.19 L696.20 1169.60 L696.25 1169.60 L696.60 1169.44 L696.95 1169.09 L697.30 1168.61 L697.65 1168.07 L698.00 1167.55 L698.35 1167.10 L698.70 1166.79 L699.00 1166.70 L699.05 1166.71 L699.40 1167.11 L699.75 1167.93 L700.10 1168.94 L700.45 1169.88 L700.80 1170.49 L701.00 1170.60 L701.15 1170.57 L701.50 1170.30 L701.85 1169.82 L702.20 1169.24 L702.55 1168.64 L702.90 1168.12 L703.25 1167.78 L703.50 1167.70 L703.60 1167.74 L703.95 1168.38 L704.30 1169.54 L704.65 1170.85 L705.00 1171.95 L705.35 1172.49 L705.40 1172.50 L705.70 1172.43 L706.05 1172.17 L706.40 1171.78 L706.75 1171.27 L707.10 1170.68 L707.45 1170.05 L707.70 1169.60 L707.80 1169.39 L708.15 1168.30 L708.50 1166.90 L708.85 1165.47 L709.20 1164.34 L709.55 1163.81 L709.60 1163.80 L709.90 1164.43 L710.25 1166.25 L710.60 1168.45 L710.95 1170.15 L711.20 1170.60 L711.30 1170.60 L711.65 1170.60 L712.00 1170.60 L712.35 1170.60 L712.70 1170.60 L713.05 1170.60 L713.40 1170.60 L713.75 1170.60 L714.10 1170.60 L714.40 1170.60 L714.45 1170.59 L714.80 1170.01 L715.15 1168.63 L715.50 1166.58 L715.85 1163.97 L716.20 1160.93 L716.30 1160.00 L716.55 1156.34 L716.90 1147.92 L717.25 1137.68 L717.60 1127.83 L717.70 1125.40 L717.95 1119.01 L718.30 1109.06 L718.65 1100.00 L719.00 1094.14 L719.20 1093.10 L719.35 1093.62 L719.70 1098.24 L720.05 1106.13 L720.40 1115.43 L720.75 1124.28 L720.80 1125.40 L721.10 1132.88 L721.45 1142.62 L721.80 1151.31 L722.10 1156.20 L722.15 1156.73 L722.50 1160.14 L722.85 1163.02 L723.20 1165.38 L723.55 1167.19 L723.90 1168.44 L724.00 1168.70 L724.25 1169.22 L724.60 1169.77 L724.95 1170.19 L725.30 1170.56 L725.65 1170.97 L726.00 1171.50 L726.00 1171.50 L726.35 1172.34 L726.70 1173.38 L727.05 1174.19 L727.30 1174.40 L727.40 1174.39 L727.75 1174.27 L728.10 1174.06 L728.45 1173.81 L728.80 1173.60 L729.15 1173.50 L729.20 1173.50 L729.50 1173.68 L729.85 1174.19 L730.20 1174.80 L730.55 1175.28 L730.80 1175.40 L730.90 1175.13 L731.25 1171.03 L731.60 1165.20 L731.70 1163.80 L731.95 1160.64 L732.30 1156.25 L732.65 1151.92 L732.70 1151.30" fill="none" stroke="#000" stroke-width="1.85" stroke-linejoin="round" stroke-linecap="butt"/>
</g>
<rect x="64.0" y="1.5" width="698.6" height="1210.4" fill="none" stroke="#000" stroke-width="2.2"/>
<path d="M762.60 1211.9 V1203.1000000000001 M742.64 1211.9 V1207.3000000000002 M722.68 1211.9 V1207.3000000000002 M702.72 1211.9 V1207.3000000000002 M682.76 1211.9 V1207.3000000000002 M662.80 1211.9 V1203.1000000000001 M642.84 1211.9 V1207.3000000000002 M622.88 1211.9 V1207.3000000000002 M602.92 1211.9 V1207.3000000000002 M582.96 1211.9 V1207.3000000000002 M563.00 1211.9 V1203.1000000000001 M543.04 1211.9 V1207.3000000000002 M523.08 1211.9 V1207.3000000000002 M503.12 1211.9 V1207.3000000000002 M483.16 1211.9 V1207.3000000000002 M463.20 1211.9 V1203.1000000000001 M443.24 1211.9 V1207.3000000000002 M423.28 1211.9 V1207.3000000000002 M403.32 1211.9 V1207.3000000000002 M383.36 1211.9 V1207.3000000000002 M363.40 1211.9 V1203.1000000000001 M343.44 1211.9 V1207.3000000000002 M323.48 1211.9 V1207.3000000000002 M303.52 1211.9 V1207.3000000000002 M283.56 1211.9 V1207.3000000000002 M263.60 1211.9 V1203.1000000000001 M243.64 1211.9 V1207.3000000000002 M223.68 1211.9 V1207.3000000000002 M203.72 1211.9 V1207.3000000000002 M183.76 1211.9 V1207.3000000000002 M163.80 1211.9 V1203.1000000000001 M143.84 1211.9 V1207.3000000000002 M123.88 1211.9 V1207.3000000000002 M103.92 1211.9 V1207.3000000000002 M83.96 1211.9 V1207.3000000000002 M64.00 1211.9 V1203.1000000000001" stroke="#000" stroke-width="1.9" fill="none"/>
<text id="t0" xml:space="preserve" transform="translate(31.20 743.27) rotate(-90) scale(0.829 1)" font-size="41" fill="#000" text-anchor="start">Absorbance (a. u.)</text>
<text id="t1" xml:space="preserve" transform="translate(264.06 1293.60) scale(0.856 1)" font-size="40" fill="#000" text-anchor="start">Wavenumber</text>
<text id="t2" xml:space="preserve" transform="translate(475.64 1293.60) scale(0.83 1)" font-size="40" fill="#000" text-anchor="start">(cm<tspan dy="-19.20" font-size="23.20">-1</tspan></text>
<text id="t3" xml:space="preserve" transform="translate(550.67 1293.60) scale(0.83 1)" font-size="40" fill="#000" text-anchor="start">)</text>
<text id="t4" xml:space="preserve" transform="translate(79.33 74.50) scale(0.785 1)" font-size="26" fill="#000" text-anchor="start">(c)</text>
<text id="t5" xml:space="preserve" transform="translate(79.33 467.40) scale(0.785 1)" font-size="26" fill="#000" text-anchor="start">(b)</text>
<text id="t6" xml:space="preserve" transform="translate(80.63 874.60) scale(0.785 1)" font-size="26" fill="#000" text-anchor="start">(a)</text>
<text id="t7" xml:space="preserve" transform="translate(79.41 398.70) scale(0.84 1)" font-size="20" fill="#000" text-anchor="start">[LAc-2DDA]</text>
<text id="t8" xml:space="preserve" transform="translate(79.97 766.00) scale(0.82 1)" font-size="20" fill="#e6161e" text-anchor="start">AgL</text>
<text id="t9" xml:space="preserve" transform="translate(78.84 791.50) scale(0.82 1)" font-size="20" fill="#000" text-anchor="start">[AgL-2DDA]</text>
<text id="t10" xml:space="preserve" transform="translate(74.47 1128.50) scale(0.82 1)" font-size="20" fill="#e6161e" text-anchor="start">AgOAc</text>
<text id="t11" xml:space="preserve" transform="translate(74.23 1154.60) scale(0.825 1)" font-size="20" fill="#000" text-anchor="start">[AgOAc-2DDA]</text>
<text id="t12" xml:space="preserve" transform="translate(204.50 380.39) rotate(-90) scale(0.9078 1)" font-size="14.3" fill="#000" text-anchor="start">3333, <tspan dx="2.15" font-size="12.16">ν</tspan><tspan dy="2.29" font-size="8.29">as</tspan><tspan dy="-2.29">(-NH</tspan><tspan dy="2.29" font-size="8.29">2</tspan><tspan dy="-2.29">)</tspan></text>
<text id="t13" xml:space="preserve" transform="translate(270.20 105.64) rotate(-90) scale(0.8506 1)" font-size="15.0" fill="#000" text-anchor="start">2918</text>
<text id="t14" xml:space="preserve" transform="translate(304.00 110.62) rotate(-90) scale(0.8259 1)" font-size="15.0" fill="#000" text-anchor="start">2850</text>
<text id="t15" xml:space="preserve" transform="translate(427.00 354.23) rotate(-90) scale(0.8431 1)" font-size="15.0" fill="#000" text-anchor="start">2202, <tspan dx="2.25">(-NH</tspan><tspan dy="2.40" font-size="8.70">3</tspan><tspan dy="-9.60" font-size="8.70">+</tspan><tspan dy="7.20">)</tspan></text>
<text id="t16" xml:space="preserve" transform="translate(542.30 249.94) rotate(-90) scale(0.8288 1)" font-size="15.0" fill="#000" text-anchor="start">1642, <tspan dx="2.25">δ(NH</tspan><tspan dy="2.40" font-size="8.70">3</tspan><tspan dy="-9.60" font-size="8.70">+</tspan><tspan dy="7.20">)</tspan></text>
<text id="t17" xml:space="preserve" transform="translate(550.40 308.59) rotate(-90) scale(0.8187 1)" font-size="14.3" fill="#000" text-anchor="start">1561</text>
<text id="t18" xml:space="preserve" transform="translate(560.80 158.07) rotate(-90) scale(0.8511 1)" font-size="15.0" fill="#000" text-anchor="start">1510, <tspan dx="2.25" font-size="12.75">ν</tspan><tspan dy="2.40" font-size="8.70">as</tspan><tspan dy="-2.40">(COO</tspan><tspan dy="-7.20" font-size="8.70">-</tspan><tspan dy="7.20">)</tspan></text>
<text id="t19" xml:space="preserve" transform="translate(582.10 218.23) rotate(-90) scale(0.8166 1)" font-size="15.0" fill="#000" text-anchor="start">1474, δ(CH<tspan dy="2.40" font-size="8.70">2</tspan><tspan dy="-2.40">)</tspan></text>
<text id="t20" xml:space="preserve" transform="translate(601.70 243.66) rotate(-90) scale(0.8423 1)" font-size="15.0" fill="#000" text-anchor="start">1407, <tspan font-size="12.75">ν</tspan><tspan dy="2.40" font-size="8.70">s</tspan><tspan dy="-2.40">(COO</tspan><tspan dy="-7.20" font-size="8.70">-</tspan><tspan dy="7.20">)</tspan></text>
<text id="t21" xml:space="preserve" transform="translate(604.40 289.02) rotate(-90) scale(0.8422 1)" font-size="14.3" fill="#000" text-anchor="start">1386</text>
<text id="t22" xml:space="preserve" transform="translate(645.00 331.37) rotate(-90) scale(0.8529 1)" font-size="15.0" fill="#000" text-anchor="start">1105</text>
<text id="t23" xml:space="preserve" transform="translate(681.60 374.75) rotate(-90) scale(0.7794 1)" font-size="15.0" fill="#000" text-anchor="start">931</text>
<text id="t24" xml:space="preserve" transform="translate(721.20 333.74) rotate(-90) scale(0.8347 1)" font-size="15.0" fill="#000" text-anchor="start">721, ρ(CH<tspan dy="2.40" font-size="8.70">2</tspan><tspan dy="-2.40">)</tspan></text>
<text id="t25" xml:space="preserve" transform="translate(740.30 323.71) rotate(-90) scale(0.7911 1)" font-size="15.0" fill="#000" text-anchor="start">662</text>
<text id="t26" xml:space="preserve" transform="translate(273.90 46.60) scale(0.855 1)" font-size="14.0" fill="#000" text-anchor="start"><tspan font-size="11.90">ν</tspan>(CH)</text>
<text id="t27" xml:space="preserve" transform="translate(312.80 368.30) scale(0.855 1)" font-size="14.0" fill="#000" text-anchor="start"><tspan font-size="11.90">ν</tspan>(-NH<tspan dy="2.24" font-size="8.12">3</tspan><tspan dy="-8.96" font-size="8.12">+</tspan><tspan dy="6.72">)</tspan></text>
<text id="t28" xml:space="preserve" transform="translate(230.20 766.66) rotate(-90) scale(0.8422 1)" font-size="14.3" fill="#000" text-anchor="start">3171</text>
<text id="t29" xml:space="preserve" transform="translate(253.40 759.26) rotate(-90) scale(0.8483 1)" font-size="14.3" fill="#000" text-anchor="start">3102</text>
<text id="t30" xml:space="preserve" transform="translate(273.80 492.41) rotate(-90) scale(0.8197 1)" font-size="15.0" fill="#000" text-anchor="start">2916</text>
<text id="t31" xml:space="preserve" transform="translate(301.70 606.01) rotate(-90) scale(0.8076 1)" font-size="15.0" fill="#000" text-anchor="start">2849</text>
<text id="t32" xml:space="preserve" transform="translate(542.80 575.70) rotate(-90) scale(0.832 1)" font-size="14.3" fill="#000" text-anchor="start">1551</text>
<text id="t33" xml:space="preserve" transform="translate(567.30 545.40) rotate(-90) scale(0.8324 1)" font-size="14.3" fill="#e6161e" text-anchor="start">1519</text>
<text id="t34" xml:space="preserve" transform="translate(588.30 570.94) rotate(-90) scale(0.8617 1)" font-size="14.3" fill="#000" text-anchor="start">1470, δ(CH<tspan dy="2.29" font-size="8.29">2</tspan><tspan dy="-2.29">)</tspan></text>
<text id="t35" xml:space="preserve" transform="translate(541.90 755.94) rotate(-90) scale(0.8623 1)" font-size="14.3" fill="#000" text-anchor="start">1608</text>
<text id="t36" xml:space="preserve" transform="translate(584.20 688.83) rotate(-90) scale(0.8555 1)" font-size="14.3" fill="#e6161e" text-anchor="start">1422</text>
<text id="t37" xml:space="preserve" transform="translate(600.00 698.62) rotate(-90) scale(0.8422 1)" font-size="14.3" fill="#000" text-anchor="start">1392</text>
<text id="t38" xml:space="preserve" transform="translate(633.20 785.58) rotate(-90) scale(0.906 1)" font-size="14.3" fill="#000" text-anchor="start">1162, <tspan dx="2.15" font-size="12.16">ν</tspan>(CN)</text>
<text id="t39" xml:space="preserve" transform="translate(656.30 773.67) rotate(-90) scale(0.8945 1)" font-size="14.3" fill="#000" text-anchor="start">1060, <tspan dx="2.15" font-size="12.16">ν</tspan>(CO)</text>
<text id="t40" xml:space="preserve" transform="translate(268.90 434.30) scale(0.855 1)" font-size="14.0" fill="#000" text-anchor="start"><tspan font-size="11.90">ν</tspan>(CH)</text>
<text id="t41" xml:space="preserve" transform="translate(501.70 501.40) scale(0.855 1)" font-size="14.0" fill="#000" text-anchor="start"><tspan font-size="11.90">ν</tspan><tspan dy="2.24" font-size="8.12">as</tspan><tspan dy="-2.24">(COO</tspan><tspan dy="-6.72" font-size="8.12">-</tspan><tspan dy="6.72">)</tspan></text>
<text id="t42" xml:space="preserve" transform="translate(577.80 647.00) scale(0.855 1)" font-size="14.0" fill="#000" text-anchor="start"><tspan font-size="11.90">ν</tspan><tspan dy="2.24" font-size="8.12">s</tspan><tspan dy="-2.24">(COO</tspan><tspan dy="-6.72" font-size="8.12">-</tspan><tspan dy="6.72">)</tspan></text>
<text id="t43" xml:space="preserve" transform="translate(698.83 661.50) scale(0.855 1)" font-size="14.0" fill="#000" text-anchor="start">ρ(CH<tspan dy="2.24" font-size="8.12">2</tspan><tspan dy="-2.24">)</tspan></text>
<text id="t44" xml:space="preserve" transform="translate(228.60 1125.87) rotate(-90) scale(0.8623 1)" font-size="14.3" fill="#000" text-anchor="start">3194</text>
<text id="t45" xml:space="preserve" transform="translate(249.50 1117.37) rotate(-90) scale(0.8644 1)" font-size="14.3" fill="#000" text-anchor="start">3103</text>
<text id="t46" xml:space="preserve" transform="translate(275.00 854.41) rotate(-90) scale(0.8169 1)" font-size="15.0" fill="#000" text-anchor="start">2915</text>
<text id="t47" xml:space="preserve" transform="translate(301.40 975.61) rotate(-90) scale(0.8135 1)" font-size="15.0" fill="#000" text-anchor="start">2849</text>
<text id="t48" xml:space="preserve" transform="translate(542.40 1037.48) rotate(-90) scale(0.8995 1)" font-size="14.3" fill="#000" text-anchor="start">1620, <tspan dx="2.15">δ(NH</tspan><tspan dy="2.29" font-size="8.29">2</tspan><tspan dy="-2.29">)</tspan></text>
<text id="t49" xml:space="preserve" transform="translate(551.80 948.33) rotate(-90) scale(0.8556 1)" font-size="14.3" fill="#000" text-anchor="start">1549</text>
<text id="t50" xml:space="preserve" transform="translate(568.40 944.71) rotate(-90) scale(0.8389 1)" font-size="14.3" fill="#e6161e" text-anchor="start">1516</text>
<text id="t51" xml:space="preserve" transform="translate(589.70 957.12) rotate(-90) scale(0.8455 1)" font-size="14.3" fill="#000" text-anchor="start">1392</text>
<text id="t52" xml:space="preserve" transform="translate(603.30 990.34) rotate(-90) scale(0.8623 1)" font-size="14.3" fill="#e6161e" text-anchor="start">1385</text>
<text id="t53" xml:space="preserve" transform="translate(578.30 1011.79) rotate(-90) scale(0.8225 1)" font-size="14.3" fill="#e6161e" text-anchor="start">1415</text>
<text id="t54" xml:space="preserve" transform="translate(656.20 1076.24) rotate(-90) scale(0.8623 1)" font-size="14.3" fill="#000" text-anchor="start">1066</text>
<text id="t55" xml:space="preserve" transform="translate(667.00 1122.90) rotate(-90) scale(0.832 1)" font-size="14.3" fill="#e6161e" text-anchor="start">1035</text>
<text id="t56" xml:space="preserve" transform="translate(724.70 1085.53) rotate(-90) scale(0.8585 1)" font-size="14.3" fill="#000" text-anchor="start">716</text>
<text id="t57" xml:space="preserve" transform="translate(501.50 902.00) scale(0.855 1)" font-size="14.0" fill="#000" text-anchor="start"><tspan font-size="11.90">ν</tspan><tspan dy="2.24" font-size="8.12">as</tspan><tspan dy="-2.24">(COO</tspan><tspan dy="-6.72" font-size="8.12">-</tspan><tspan dy="6.72">)</tspan></text>
<text id="t58" xml:space="preserve" transform="translate(581.40 912.20) scale(0.855 1)" font-size="14.0" fill="#000" text-anchor="start"><tspan font-size="11.90">ν</tspan><tspan dy="2.24" font-size="8.12">s</tspan><tspan dy="-2.24">(COO</tspan><tspan dy="-6.72" font-size="8.12">-</tspan><tspan dy="6.72">)</tspan></text>
<text id="t59" xml:space="preserve" transform="translate(637.30 1032.70) scale(0.855 1)" font-size="14.0" fill="#000" text-anchor="start"><tspan font-size="11.90">ν</tspan>(CO)</text>
<path d="M265.3 61 V54.4 H314 V61" fill="none" stroke="#000" stroke-width="1.25"/>
<path d="M260.05 449 V442 H308.8 V449" fill="none" stroke="#000" stroke-width="1.25"/>
<path d="M541.9 513 V510 H563.5 V513" fill="none" stroke="#000" stroke-width="1.25"/>
<path d="M573.7 659.4 V656.2 H591 V659.4" fill="none" stroke="#000" stroke-width="1.25"/>
<path d="M546.3 910.6 V907.8 H564.9 V910.6" fill="none" stroke="#000" stroke-width="1.25"/>
<path d="M573.7 922.5 V920 H588.8 V922.5" fill="none" stroke="#000" stroke-width="1.25"/>
<path d="M546.9 310 L549.2 333.8" fill="none" stroke="#000" stroke-width="1.15"/>
<path d="M589.7 246.2 L580.5 263.1" fill="none" stroke="#000" stroke-width="1.15"/>
<path d="M578.5 577.7 L569.8 613.3" fill="none" stroke="#000" stroke-width="1.15"/>
<path d="M578.5 691.8 V705.8" fill="none" stroke="#e6161e" stroke-width="1.3"/>
<path d="M573.2 1016.2 L578.1 1048.5" fill="none" stroke="#e6161e" stroke-width="1.1"/>
<path d="M578.9 299 V311.5" fill="none" stroke="#e6161e" stroke-width="1.4"/>
<text xml:space="preserve" transform="translate(762.60 1241.20) scale(0.82 1)" font-size="26" fill="#000" text-anchor="middle">500</text>
<text xml:space="preserve" transform="translate(662.80 1241.20) scale(0.82 1)" font-size="26" fill="#000" text-anchor="middle">1000</text>
<text xml:space="preserve" transform="translate(563.00 1241.20) scale(0.82 1)" font-size="26" fill="#000" text-anchor="middle">1500</text>
<text xml:space="preserve" transform="translate(463.20 1241.20) scale(0.82 1)" font-size="26" fill="#000" text-anchor="middle">2000</text>
<text xml:space="preserve" transform="translate(363.40 1241.20) scale(0.82 1)" font-size="26" fill="#000" text-anchor="middle">2500</text>
<text xml:space="preserve" transform="translate(263.60 1241.20) scale(0.82 1)" font-size="26" fill="#000" text-anchor="middle">3000</text>
<text xml:space="preserve" transform="translate(163.80 1241.20) scale(0.82 1)" font-size="26" fill="#000" text-anchor="middle">3500</text>
<text xml:space="preserve" transform="translate(64.00 1241.20) scale(0.82 1)" font-size="26" fill="#000" text-anchor="middle">4000</text>
</svg>
</body></html>
